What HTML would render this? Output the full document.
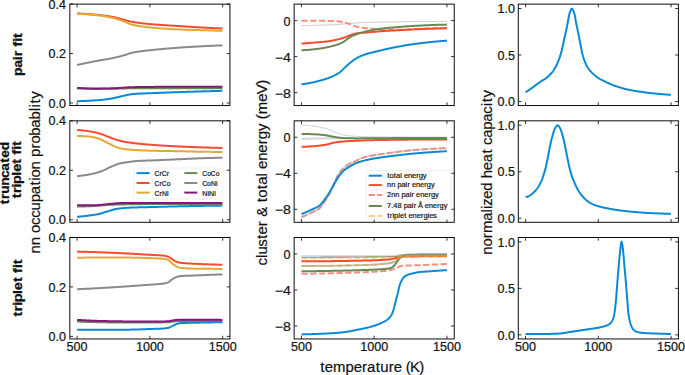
<!DOCTYPE html>
<html><head><meta charset="utf-8"><style>
html,body{margin:0;padding:0;background:#fff;}
svg{display:block;}
text{font-family:"Liberation Sans",sans-serif;}
</style></head><body>
<svg width="685" height="375" viewBox="0 0 685 375">
<rect x="0" y="0" width="685" height="375" fill="#fff"/>
<defs>
<clipPath id="c00"><rect x="69.84" y="4.12" width="160.10" height="101.45"/></clipPath>
<clipPath id="c01"><rect x="294.13" y="4.12" width="160.10" height="101.45"/></clipPath>
<clipPath id="c02"><rect x="518.27" y="4.12" width="160.10" height="101.45"/></clipPath>
<clipPath id="c10"><rect x="69.84" y="120.83" width="160.10" height="101.45"/></clipPath>
<clipPath id="c11"><rect x="294.13" y="120.83" width="160.10" height="101.45"/></clipPath>
<clipPath id="c12"><rect x="518.27" y="120.83" width="160.10" height="101.45"/></clipPath>
<clipPath id="c20"><rect x="69.84" y="237.50" width="160.10" height="101.45"/></clipPath>
<clipPath id="c21"><rect x="294.13" y="237.50" width="160.10" height="101.45"/></clipPath>
<clipPath id="c22"><rect x="518.27" y="237.50" width="160.10" height="101.45"/></clipPath>
</defs>
<line x1="77.12" y1="105.57" x2="77.12" y2="102.37" stroke="#000" stroke-width="0.8"/>
<line x1="77.12" y1="4.12" x2="77.12" y2="7.32" stroke="#000" stroke-width="0.8"/>
<line x1="149.89" y1="105.57" x2="149.89" y2="102.37" stroke="#000" stroke-width="0.8"/>
<line x1="149.89" y1="4.12" x2="149.89" y2="7.32" stroke="#000" stroke-width="0.8"/>
<line x1="222.66" y1="105.57" x2="222.66" y2="102.37" stroke="#000" stroke-width="0.8"/>
<line x1="222.66" y1="4.12" x2="222.66" y2="7.32" stroke="#000" stroke-width="0.8"/>
<line x1="69.84" y1="103.00" x2="73.04" y2="103.00" stroke="#000" stroke-width="0.8"/>
<line x1="229.94" y1="103.00" x2="226.74" y2="103.00" stroke="#000" stroke-width="0.8"/>
<text x="49.26 55.94 59.27" y="107.75" font-size="12" fill="#111" stroke="#111" stroke-width="0.191" transform="translate(65.94 107.75) scale(1.0487 1) translate(-65.94 -107.75)">0.0</text>
<line x1="69.84" y1="53.50" x2="73.04" y2="53.50" stroke="#000" stroke-width="0.8"/>
<line x1="229.94" y1="53.50" x2="226.74" y2="53.50" stroke="#000" stroke-width="0.8"/>
<text x="49.26 55.94 59.27" y="58.25" font-size="12" fill="#111" stroke="#111" stroke-width="0.191" transform="translate(65.94 58.25) scale(1.0487 1) translate(-65.94 -58.25)">0.2</text>
<line x1="69.84" y1="4.00" x2="73.04" y2="4.00" stroke="#000" stroke-width="0.8"/>
<line x1="229.94" y1="4.00" x2="226.74" y2="4.00" stroke="#000" stroke-width="0.8"/>
<text x="49.26 55.94 59.27" y="8.75" font-size="12" fill="#111" stroke="#111" stroke-width="0.191" transform="translate(65.94 8.75) scale(1.0487 1) translate(-65.94 -8.75)">0.4</text>
<line x1="301.41" y1="105.57" x2="301.41" y2="102.37" stroke="#000" stroke-width="0.8"/>
<line x1="301.41" y1="4.12" x2="301.41" y2="7.32" stroke="#000" stroke-width="0.8"/>
<line x1="374.18" y1="105.57" x2="374.18" y2="102.37" stroke="#000" stroke-width="0.8"/>
<line x1="374.18" y1="4.12" x2="374.18" y2="7.32" stroke="#000" stroke-width="0.8"/>
<line x1="446.95" y1="105.57" x2="446.95" y2="102.37" stroke="#000" stroke-width="0.8"/>
<line x1="446.95" y1="4.12" x2="446.95" y2="7.32" stroke="#000" stroke-width="0.8"/>
<line x1="294.13" y1="20.60" x2="297.33" y2="20.60" stroke="#000" stroke-width="0.8"/>
<line x1="454.23" y1="20.60" x2="451.03" y2="20.60" stroke="#000" stroke-width="0.8"/>
<text x="283.76" y="25.75" font-size="12" fill="#111" stroke="#111" stroke-width="0.191" transform="translate(290.43 25.75) scale(1.0487 1) translate(-290.43 -25.75)">0</text>
<line x1="294.13" y1="56.60" x2="297.33" y2="56.60" stroke="#000" stroke-width="0.8"/>
<line x1="454.23" y1="56.60" x2="451.03" y2="56.60" stroke="#000" stroke-width="0.8"/>
<text x="277.13 284.14" y="61.75" font-size="12" fill="#111" stroke="#111" stroke-width="0.169" transform="translate(290.43 61.75) scale(1.1852 1) translate(-290.43 -61.75)">−4</text>
<line x1="294.13" y1="92.60" x2="297.33" y2="92.60" stroke="#000" stroke-width="0.8"/>
<line x1="454.23" y1="92.60" x2="451.03" y2="92.60" stroke="#000" stroke-width="0.8"/>
<text x="277.13 284.14" y="97.75" font-size="12" fill="#111" stroke="#111" stroke-width="0.169" transform="translate(290.43 97.75) scale(1.1852 1) translate(-290.43 -97.75)">−8</text>
<line x1="525.55" y1="105.57" x2="525.55" y2="102.37" stroke="#000" stroke-width="0.8"/>
<line x1="525.55" y1="4.12" x2="525.55" y2="7.32" stroke="#000" stroke-width="0.8"/>
<line x1="598.32" y1="105.57" x2="598.32" y2="102.37" stroke="#000" stroke-width="0.8"/>
<line x1="598.32" y1="4.12" x2="598.32" y2="7.32" stroke="#000" stroke-width="0.8"/>
<line x1="671.09" y1="105.57" x2="671.09" y2="102.37" stroke="#000" stroke-width="0.8"/>
<line x1="671.09" y1="4.12" x2="671.09" y2="7.32" stroke="#000" stroke-width="0.8"/>
<line x1="518.27" y1="101.50" x2="521.47" y2="101.50" stroke="#000" stroke-width="0.8"/>
<line x1="678.37" y1="101.50" x2="675.17" y2="101.50" stroke="#000" stroke-width="0.8"/>
<text x="498.29 504.97 508.30" y="106.25" font-size="12" fill="#111" stroke="#111" stroke-width="0.191" transform="translate(514.97 106.25) scale(1.0487 1) translate(-514.97 -106.25)">0.0</text>
<line x1="518.27" y1="55.00" x2="521.47" y2="55.00" stroke="#000" stroke-width="0.8"/>
<line x1="678.37" y1="55.00" x2="675.17" y2="55.00" stroke="#000" stroke-width="0.8"/>
<text x="498.29 504.97 508.30" y="59.75" font-size="12" fill="#111" stroke="#111" stroke-width="0.191" transform="translate(514.97 59.75) scale(1.0487 1) translate(-514.97 -59.75)">0.5</text>
<line x1="518.27" y1="8.50" x2="521.47" y2="8.50" stroke="#000" stroke-width="0.8"/>
<line x1="678.37" y1="8.50" x2="675.17" y2="8.50" stroke="#000" stroke-width="0.8"/>
<text x="498.29 504.97 508.30" y="13.25" font-size="12" fill="#111" stroke="#111" stroke-width="0.191" transform="translate(514.97 13.25) scale(1.0487 1) translate(-514.97 -13.25)">1.0</text>
<line x1="77.12" y1="222.28" x2="77.12" y2="219.08" stroke="#000" stroke-width="0.8"/>
<line x1="77.12" y1="120.83" x2="77.12" y2="124.03" stroke="#000" stroke-width="0.8"/>
<line x1="149.89" y1="222.28" x2="149.89" y2="219.08" stroke="#000" stroke-width="0.8"/>
<line x1="149.89" y1="120.83" x2="149.89" y2="124.03" stroke="#000" stroke-width="0.8"/>
<line x1="222.66" y1="222.28" x2="222.66" y2="219.08" stroke="#000" stroke-width="0.8"/>
<line x1="222.66" y1="120.83" x2="222.66" y2="124.03" stroke="#000" stroke-width="0.8"/>
<line x1="69.84" y1="219.71" x2="73.04" y2="219.71" stroke="#000" stroke-width="0.8"/>
<line x1="229.94" y1="219.71" x2="226.74" y2="219.71" stroke="#000" stroke-width="0.8"/>
<text x="49.26 55.94 59.27" y="224.46" font-size="12" fill="#111" stroke="#111" stroke-width="0.191" transform="translate(65.94 224.46) scale(1.0487 1) translate(-65.94 -224.46)">0.0</text>
<line x1="69.84" y1="170.21" x2="73.04" y2="170.21" stroke="#000" stroke-width="0.8"/>
<line x1="229.94" y1="170.21" x2="226.74" y2="170.21" stroke="#000" stroke-width="0.8"/>
<text x="49.26 55.94 59.27" y="174.96" font-size="12" fill="#111" stroke="#111" stroke-width="0.191" transform="translate(65.94 174.96) scale(1.0487 1) translate(-65.94 -174.96)">0.2</text>
<line x1="69.84" y1="120.71" x2="73.04" y2="120.71" stroke="#000" stroke-width="0.8"/>
<line x1="229.94" y1="120.71" x2="226.74" y2="120.71" stroke="#000" stroke-width="0.8"/>
<text x="49.26 55.94 59.27" y="125.46" font-size="12" fill="#111" stroke="#111" stroke-width="0.191" transform="translate(65.94 125.46) scale(1.0487 1) translate(-65.94 -125.46)">0.4</text>
<line x1="301.41" y1="222.28" x2="301.41" y2="219.08" stroke="#000" stroke-width="0.8"/>
<line x1="301.41" y1="120.83" x2="301.41" y2="124.03" stroke="#000" stroke-width="0.8"/>
<line x1="374.18" y1="222.28" x2="374.18" y2="219.08" stroke="#000" stroke-width="0.8"/>
<line x1="374.18" y1="120.83" x2="374.18" y2="124.03" stroke="#000" stroke-width="0.8"/>
<line x1="446.95" y1="222.28" x2="446.95" y2="219.08" stroke="#000" stroke-width="0.8"/>
<line x1="446.95" y1="120.83" x2="446.95" y2="124.03" stroke="#000" stroke-width="0.8"/>
<line x1="294.13" y1="137.31" x2="297.33" y2="137.31" stroke="#000" stroke-width="0.8"/>
<line x1="454.23" y1="137.31" x2="451.03" y2="137.31" stroke="#000" stroke-width="0.8"/>
<text x="283.76" y="142.46" font-size="12" fill="#111" stroke="#111" stroke-width="0.191" transform="translate(290.43 142.46) scale(1.0487 1) translate(-290.43 -142.46)">0</text>
<line x1="294.13" y1="173.31" x2="297.33" y2="173.31" stroke="#000" stroke-width="0.8"/>
<line x1="454.23" y1="173.31" x2="451.03" y2="173.31" stroke="#000" stroke-width="0.8"/>
<text x="277.13 284.14" y="178.46" font-size="12" fill="#111" stroke="#111" stroke-width="0.169" transform="translate(290.43 178.46) scale(1.1852 1) translate(-290.43 -178.46)">−4</text>
<line x1="294.13" y1="209.31" x2="297.33" y2="209.31" stroke="#000" stroke-width="0.8"/>
<line x1="454.23" y1="209.31" x2="451.03" y2="209.31" stroke="#000" stroke-width="0.8"/>
<text x="277.13 284.14" y="214.46" font-size="12" fill="#111" stroke="#111" stroke-width="0.169" transform="translate(290.43 214.46) scale(1.1852 1) translate(-290.43 -214.46)">−8</text>
<line x1="525.55" y1="222.28" x2="525.55" y2="219.08" stroke="#000" stroke-width="0.8"/>
<line x1="525.55" y1="120.83" x2="525.55" y2="124.03" stroke="#000" stroke-width="0.8"/>
<line x1="598.32" y1="222.28" x2="598.32" y2="219.08" stroke="#000" stroke-width="0.8"/>
<line x1="598.32" y1="120.83" x2="598.32" y2="124.03" stroke="#000" stroke-width="0.8"/>
<line x1="671.09" y1="222.28" x2="671.09" y2="219.08" stroke="#000" stroke-width="0.8"/>
<line x1="671.09" y1="120.83" x2="671.09" y2="124.03" stroke="#000" stroke-width="0.8"/>
<line x1="518.27" y1="218.21" x2="521.47" y2="218.21" stroke="#000" stroke-width="0.8"/>
<line x1="678.37" y1="218.21" x2="675.17" y2="218.21" stroke="#000" stroke-width="0.8"/>
<text x="498.29 504.97 508.30" y="222.96" font-size="12" fill="#111" stroke="#111" stroke-width="0.191" transform="translate(514.97 222.96) scale(1.0487 1) translate(-514.97 -222.96)">0.0</text>
<line x1="518.27" y1="171.71" x2="521.47" y2="171.71" stroke="#000" stroke-width="0.8"/>
<line x1="678.37" y1="171.71" x2="675.17" y2="171.71" stroke="#000" stroke-width="0.8"/>
<text x="498.29 504.97 508.30" y="176.46" font-size="12" fill="#111" stroke="#111" stroke-width="0.191" transform="translate(514.97 176.46) scale(1.0487 1) translate(-514.97 -176.46)">0.5</text>
<line x1="518.27" y1="125.21" x2="521.47" y2="125.21" stroke="#000" stroke-width="0.8"/>
<line x1="678.37" y1="125.21" x2="675.17" y2="125.21" stroke="#000" stroke-width="0.8"/>
<text x="498.29 504.97 508.30" y="129.96" font-size="12" fill="#111" stroke="#111" stroke-width="0.191" transform="translate(514.97 129.96) scale(1.0487 1) translate(-514.97 -129.96)">1.0</text>
<line x1="77.12" y1="338.95" x2="77.12" y2="335.75" stroke="#000" stroke-width="0.8"/>
<line x1="77.12" y1="237.50" x2="77.12" y2="240.70" stroke="#000" stroke-width="0.8"/>
<text x="67.10 73.78 80.45" y="351.10" font-size="12" fill="#111" stroke="#111" stroke-width="0.191" transform="translate(77.12 351.10) scale(1.0487 1) translate(-77.12 -351.10)">500</text>
<line x1="149.89" y1="338.95" x2="149.89" y2="335.75" stroke="#000" stroke-width="0.8"/>
<line x1="149.89" y1="237.50" x2="149.89" y2="240.70" stroke="#000" stroke-width="0.8"/>
<text x="136.54 143.22 149.89 156.56" y="351.10" font-size="12" fill="#111" stroke="#111" stroke-width="0.191" transform="translate(149.89 351.10) scale(1.0487 1) translate(-149.89 -351.10)">1000</text>
<line x1="222.66" y1="338.95" x2="222.66" y2="335.75" stroke="#000" stroke-width="0.8"/>
<line x1="222.66" y1="237.50" x2="222.66" y2="240.70" stroke="#000" stroke-width="0.8"/>
<text x="209.31 215.99 222.66 229.34" y="351.10" font-size="12" fill="#111" stroke="#111" stroke-width="0.191" transform="translate(222.66 351.10) scale(1.0487 1) translate(-222.66 -351.10)">1500</text>
<line x1="69.84" y1="336.38" x2="73.04" y2="336.38" stroke="#000" stroke-width="0.8"/>
<line x1="229.94" y1="336.38" x2="226.74" y2="336.38" stroke="#000" stroke-width="0.8"/>
<text x="49.26 55.94 59.27" y="341.13" font-size="12" fill="#111" stroke="#111" stroke-width="0.191" transform="translate(65.94 341.13) scale(1.0487 1) translate(-65.94 -341.13)">0.0</text>
<line x1="69.84" y1="286.88" x2="73.04" y2="286.88" stroke="#000" stroke-width="0.8"/>
<line x1="229.94" y1="286.88" x2="226.74" y2="286.88" stroke="#000" stroke-width="0.8"/>
<text x="49.26 55.94 59.27" y="291.63" font-size="12" fill="#111" stroke="#111" stroke-width="0.191" transform="translate(65.94 291.63) scale(1.0487 1) translate(-65.94 -291.63)">0.2</text>
<line x1="69.84" y1="237.38" x2="73.04" y2="237.38" stroke="#000" stroke-width="0.8"/>
<line x1="229.94" y1="237.38" x2="226.74" y2="237.38" stroke="#000" stroke-width="0.8"/>
<text x="49.26 55.94 59.27" y="242.13" font-size="12" fill="#111" stroke="#111" stroke-width="0.191" transform="translate(65.94 242.13) scale(1.0487 1) translate(-65.94 -242.13)">0.4</text>
<line x1="301.41" y1="338.95" x2="301.41" y2="335.75" stroke="#000" stroke-width="0.8"/>
<line x1="301.41" y1="237.50" x2="301.41" y2="240.70" stroke="#000" stroke-width="0.8"/>
<text x="291.39 298.07 304.74" y="351.10" font-size="12" fill="#111" stroke="#111" stroke-width="0.191" transform="translate(301.41 351.10) scale(1.0487 1) translate(-301.41 -351.10)">500</text>
<line x1="374.18" y1="338.95" x2="374.18" y2="335.75" stroke="#000" stroke-width="0.8"/>
<line x1="374.18" y1="237.50" x2="374.18" y2="240.70" stroke="#000" stroke-width="0.8"/>
<text x="360.83 367.51 374.18 380.85" y="351.10" font-size="12" fill="#111" stroke="#111" stroke-width="0.191" transform="translate(374.18 351.10) scale(1.0487 1) translate(-374.18 -351.10)">1000</text>
<line x1="446.95" y1="338.95" x2="446.95" y2="335.75" stroke="#000" stroke-width="0.8"/>
<line x1="446.95" y1="237.50" x2="446.95" y2="240.70" stroke="#000" stroke-width="0.8"/>
<text x="433.60 440.28 446.95 453.63" y="351.10" font-size="12" fill="#111" stroke="#111" stroke-width="0.191" transform="translate(446.95 351.10) scale(1.0487 1) translate(-446.95 -351.10)">1500</text>
<line x1="294.13" y1="253.98" x2="297.33" y2="253.98" stroke="#000" stroke-width="0.8"/>
<line x1="454.23" y1="253.98" x2="451.03" y2="253.98" stroke="#000" stroke-width="0.8"/>
<text x="283.76" y="259.13" font-size="12" fill="#111" stroke="#111" stroke-width="0.191" transform="translate(290.43 259.13) scale(1.0487 1) translate(-290.43 -259.13)">0</text>
<line x1="294.13" y1="289.98" x2="297.33" y2="289.98" stroke="#000" stroke-width="0.8"/>
<line x1="454.23" y1="289.98" x2="451.03" y2="289.98" stroke="#000" stroke-width="0.8"/>
<text x="277.13 284.14" y="295.13" font-size="12" fill="#111" stroke="#111" stroke-width="0.169" transform="translate(290.43 295.13) scale(1.1852 1) translate(-290.43 -295.13)">−4</text>
<line x1="294.13" y1="325.98" x2="297.33" y2="325.98" stroke="#000" stroke-width="0.8"/>
<line x1="454.23" y1="325.98" x2="451.03" y2="325.98" stroke="#000" stroke-width="0.8"/>
<text x="277.13 284.14" y="331.13" font-size="12" fill="#111" stroke="#111" stroke-width="0.169" transform="translate(290.43 331.13) scale(1.1852 1) translate(-290.43 -331.13)">−8</text>
<line x1="525.55" y1="338.95" x2="525.55" y2="335.75" stroke="#000" stroke-width="0.8"/>
<line x1="525.55" y1="237.50" x2="525.55" y2="240.70" stroke="#000" stroke-width="0.8"/>
<text x="515.53 522.21 528.88" y="351.10" font-size="12" fill="#111" stroke="#111" stroke-width="0.191" transform="translate(525.55 351.10) scale(1.0487 1) translate(-525.55 -351.10)">500</text>
<line x1="598.32" y1="338.95" x2="598.32" y2="335.75" stroke="#000" stroke-width="0.8"/>
<line x1="598.32" y1="237.50" x2="598.32" y2="240.70" stroke="#000" stroke-width="0.8"/>
<text x="584.97 591.65 598.32 604.99" y="351.10" font-size="12" fill="#111" stroke="#111" stroke-width="0.191" transform="translate(598.32 351.10) scale(1.0487 1) translate(-598.32 -351.10)">1000</text>
<line x1="671.09" y1="338.95" x2="671.09" y2="335.75" stroke="#000" stroke-width="0.8"/>
<line x1="671.09" y1="237.50" x2="671.09" y2="240.70" stroke="#000" stroke-width="0.8"/>
<text x="657.74 664.42 671.09 677.77" y="351.10" font-size="12" fill="#111" stroke="#111" stroke-width="0.191" transform="translate(671.09 351.10) scale(1.0487 1) translate(-671.09 -351.10)">1500</text>
<line x1="518.27" y1="334.88" x2="521.47" y2="334.88" stroke="#000" stroke-width="0.8"/>
<line x1="678.37" y1="334.88" x2="675.17" y2="334.88" stroke="#000" stroke-width="0.8"/>
<text x="498.29 504.97 508.30" y="339.63" font-size="12" fill="#111" stroke="#111" stroke-width="0.191" transform="translate(514.97 339.63) scale(1.0487 1) translate(-514.97 -339.63)">0.0</text>
<line x1="518.27" y1="288.38" x2="521.47" y2="288.38" stroke="#000" stroke-width="0.8"/>
<line x1="678.37" y1="288.38" x2="675.17" y2="288.38" stroke="#000" stroke-width="0.8"/>
<text x="498.29 504.97 508.30" y="293.13" font-size="12" fill="#111" stroke="#111" stroke-width="0.191" transform="translate(514.97 293.13) scale(1.0487 1) translate(-514.97 -293.13)">0.5</text>
<line x1="518.27" y1="241.88" x2="521.47" y2="241.88" stroke="#000" stroke-width="0.8"/>
<line x1="678.37" y1="241.88" x2="675.17" y2="241.88" stroke="#000" stroke-width="0.8"/>
<text x="498.29 504.97 508.30" y="246.63" font-size="12" fill="#111" stroke="#111" stroke-width="0.191" transform="translate(514.97 246.63) scale(1.0487 1) translate(-514.97 -246.63)">1.0</text>
<polyline points="77.1,101.20 77.6,101.19 78.1,101.18 78.6,101.16 79.1,101.15 79.6,101.13 80.1,101.12 80.6,101.10 81.1,101.08 81.6,101.06 82.1,101.04 82.6,101.02 83.1,101.00 83.6,100.98 84.1,100.96 84.6,100.94 85.1,100.91 85.6,100.89 86.1,100.87 86.6,100.84 87.1,100.81 87.6,100.79 88.1,100.76 88.6,100.73 89.1,100.71 89.6,100.68 90.1,100.65 90.6,100.62 91.1,100.59 91.6,100.56 92.1,100.53 92.6,100.50 93.1,100.47 93.6,100.44 94.1,100.41 94.6,100.38 95.1,100.34 95.6,100.31 96.1,100.28 96.6,100.25 97.1,100.21 97.6,100.18 98.1,100.14 98.6,100.10 99.1,100.06 99.6,100.02 100.1,99.98 100.6,99.94 101.1,99.89 101.6,99.85 102.1,99.80 102.6,99.75 103.1,99.70 103.6,99.65 104.1,99.60 104.6,99.54 105.1,99.49 105.6,99.43 106.1,99.37 106.6,99.30 107.1,99.23 107.6,99.16 108.1,99.08 108.6,99.01 109.1,98.93 109.6,98.84 110.1,98.76 110.6,98.67 111.1,98.58 111.6,98.49 112.1,98.40 112.6,98.31 113.1,98.21 113.6,98.12 114.1,98.02 114.6,97.92 115.1,97.81 115.6,97.70 116.1,97.58 116.6,97.46 117.1,97.34 117.6,97.22 118.1,97.09 118.6,96.96 119.1,96.84 119.6,96.71 120.1,96.59 120.6,96.46 121.1,96.34 121.6,96.23 122.1,96.11 122.6,96.00 123.1,95.89 123.6,95.78 124.1,95.66 124.6,95.55 125.1,95.43 125.6,95.31 126.1,95.20 126.6,95.09 127.1,94.97 127.6,94.87 128.1,94.76 128.6,94.66 129.1,94.57 129.6,94.48 130.1,94.40 130.6,94.32 131.1,94.26 131.6,94.20 132.1,94.15 132.6,94.10 133.1,94.05 133.6,94.01 134.1,93.97 134.6,93.93 135.1,93.89 135.6,93.86 136.1,93.82 136.6,93.79 137.1,93.76 137.6,93.73 138.1,93.70 138.6,93.67 139.1,93.65 139.6,93.62 140.1,93.59 140.6,93.57 141.1,93.55 141.6,93.52 142.1,93.50 142.6,93.48 143.1,93.46 143.6,93.44 144.1,93.42 144.6,93.40 145.1,93.38 145.6,93.36 146.1,93.34 146.6,93.32 147.1,93.31 147.6,93.29 148.1,93.27 148.6,93.25 149.1,93.23 149.6,93.22 150.1,93.20 150.6,93.18 151.1,93.16 151.6,93.14 152.1,93.12 152.6,93.10 153.1,93.08 153.6,93.06 154.1,93.04 154.6,93.02 155.1,93.00 155.6,92.99 156.1,92.97 156.6,92.95 157.1,92.93 157.6,92.91 158.1,92.89 158.6,92.87 159.1,92.85 159.6,92.83 160.1,92.82 160.6,92.80 161.1,92.78 161.6,92.76 162.1,92.74 162.6,92.72 163.1,92.70 163.6,92.68 164.1,92.67 164.6,92.65 165.1,92.63 165.6,92.61 166.1,92.59 166.6,92.57 167.1,92.55 167.6,92.54 168.1,92.52 168.6,92.50 169.1,92.48 169.6,92.46 170.1,92.45 170.6,92.43 171.1,92.41 171.6,92.39 172.1,92.37 172.6,92.35 173.1,92.34 173.6,92.32 174.1,92.30 174.6,92.28 175.1,92.27 175.6,92.25 176.1,92.23 176.6,92.21 177.1,92.20 177.6,92.18 178.1,92.16 178.6,92.14 179.1,92.13 179.6,92.11 180.1,92.09 180.6,92.07 181.1,92.06 181.6,92.04 182.1,92.02 182.6,92.01 183.1,91.99 183.6,91.97 184.1,91.96 184.6,91.94 185.1,91.92 185.6,91.91 186.1,91.89 186.6,91.87 187.1,91.86 187.6,91.84 188.1,91.82 188.6,91.81 189.1,91.79 189.6,91.78 190.1,91.76 190.6,91.74 191.1,91.73 191.6,91.71 192.1,91.70 192.6,91.68 193.1,91.66 193.6,91.65 194.1,91.63 194.6,91.62 195.1,91.60 195.6,91.58 196.1,91.57 196.6,91.55 197.1,91.54 197.6,91.52 198.1,91.51 198.6,91.49 199.1,91.48 199.6,91.46 200.1,91.44 200.6,91.43 201.1,91.41 201.6,91.40 202.1,91.38 202.6,91.37 203.1,91.35 203.6,91.34 204.1,91.32 204.6,91.31 205.1,91.29 205.6,91.28 206.1,91.26 206.6,91.25 207.1,91.23 207.6,91.22 208.1,91.20 208.6,91.19 209.1,91.17 209.6,91.16 210.1,91.14 210.6,91.13 211.1,91.12 211.6,91.10 212.1,91.09 212.6,91.07 213.1,91.06 213.6,91.04 214.1,91.03 214.6,91.02 215.1,91.00 215.6,90.99 216.1,90.97 216.6,90.96 217.1,90.95 217.6,90.93 218.1,90.92 218.6,90.90 219.1,90.89 219.6,90.88 220.1,90.86 220.6,90.85 221.1,90.84 221.6,90.82 222.1,90.81 222.4,90.80" fill="none" stroke="#0a8ad6" stroke-width="2.0" stroke-linejoin="round" stroke-linecap="butt"/>
<polyline points="77.1,13.50 77.6,13.52 78.1,13.53 78.6,13.55 79.1,13.57 79.6,13.59 80.1,13.61 80.6,13.63 81.1,13.66 81.6,13.68 82.1,13.71 82.6,13.73 83.1,13.76 83.6,13.79 84.1,13.82 84.6,13.85 85.1,13.88 85.6,13.91 86.1,13.95 86.6,13.98 87.1,14.02 87.6,14.05 88.1,14.09 88.6,14.13 89.1,14.16 89.6,14.20 90.1,14.24 90.6,14.28 91.1,14.32 91.6,14.36 92.1,14.40 92.6,14.44 93.1,14.49 93.6,14.53 94.1,14.57 94.6,14.61 95.1,14.66 95.6,14.70 96.1,14.75 96.6,14.79 97.1,14.84 97.6,14.88 98.1,14.93 98.6,14.98 99.1,15.03 99.6,15.09 100.1,15.14 100.6,15.20 101.1,15.26 101.6,15.32 102.1,15.38 102.6,15.44 103.1,15.50 103.6,15.57 104.1,15.63 104.6,15.70 105.1,15.77 105.6,15.84 106.1,15.91 106.6,15.98 107.1,16.06 107.6,16.13 108.1,16.21 108.6,16.28 109.1,16.36 109.6,16.44 110.1,16.52 110.6,16.60 111.1,16.68 111.6,16.77 112.1,16.86 112.6,16.95 113.1,17.05 113.6,17.15 114.1,17.25 114.6,17.35 115.1,17.46 115.6,17.57 116.1,17.68 116.6,17.79 117.1,17.91 117.6,18.02 118.1,18.14 118.6,18.27 119.1,18.40 119.6,18.53 120.1,18.67 120.6,18.81 121.1,18.95 121.6,19.09 122.1,19.23 122.6,19.37 123.1,19.52 123.6,19.66 124.1,19.79 124.6,19.93 125.1,20.06 125.6,20.20 126.1,20.34 126.6,20.48 127.1,20.62 127.6,20.76 128.1,20.90 128.6,21.04 129.1,21.17 129.6,21.29 130.1,21.42 130.6,21.53 131.1,21.64 131.6,21.74 132.1,21.84 132.6,21.93 133.1,22.02 133.6,22.10 134.1,22.19 134.6,22.27 135.1,22.34 135.6,22.42 136.1,22.49 136.6,22.57 137.1,22.64 137.6,22.71 138.1,22.77 138.6,22.84 139.1,22.91 139.6,22.97 140.1,23.03 140.6,23.10 141.1,23.16 141.6,23.22 142.1,23.28 142.6,23.34 143.1,23.40 143.6,23.45 144.1,23.51 144.6,23.57 145.1,23.62 145.6,23.67 146.1,23.73 146.6,23.78 147.1,23.83 147.6,23.88 148.1,23.93 148.6,23.97 149.1,24.02 149.6,24.06 150.1,24.11 150.6,24.15 151.1,24.19 151.6,24.24 152.1,24.28 152.6,24.32 153.1,24.36 153.6,24.40 154.1,24.44 154.6,24.48 155.1,24.52 155.6,24.56 156.1,24.59 156.6,24.63 157.1,24.67 157.6,24.70 158.1,24.74 158.6,24.77 159.1,24.81 159.6,24.85 160.1,24.88 160.6,24.91 161.1,24.95 161.6,24.98 162.1,25.01 162.6,25.05 163.1,25.08 163.6,25.11 164.1,25.15 164.6,25.18 165.1,25.21 165.6,25.24 166.1,25.27 166.6,25.31 167.1,25.34 167.6,25.37 168.1,25.40 168.6,25.43 169.1,25.46 169.6,25.49 170.1,25.52 170.6,25.55 171.1,25.59 171.6,25.62 172.1,25.65 172.6,25.68 173.1,25.71 173.6,25.74 174.1,25.77 174.6,25.80 175.1,25.83 175.6,25.87 176.1,25.90 176.6,25.93 177.1,25.96 177.6,25.99 178.1,26.03 178.6,26.06 179.1,26.09 179.6,26.12 180.1,26.16 180.6,26.19 181.1,26.22 181.6,26.25 182.1,26.28 182.6,26.32 183.1,26.35 183.6,26.38 184.1,26.41 184.6,26.45 185.1,26.48 185.6,26.51 186.1,26.54 186.6,26.57 187.1,26.61 187.6,26.64 188.1,26.67 188.6,26.70 189.1,26.73 189.6,26.77 190.1,26.80 190.6,26.83 191.1,26.86 191.6,26.89 192.1,26.92 192.6,26.95 193.1,26.98 193.6,27.01 194.1,27.05 194.6,27.08 195.1,27.11 195.6,27.14 196.1,27.17 196.6,27.20 197.1,27.23 197.6,27.26 198.1,27.29 198.6,27.32 199.1,27.34 199.6,27.37 200.1,27.40 200.6,27.43 201.1,27.46 201.6,27.49 202.1,27.52 202.6,27.54 203.1,27.57 203.6,27.60 204.1,27.63 204.6,27.65 205.1,27.68 205.6,27.71 206.1,27.73 206.6,27.76 207.1,27.78 207.6,27.81 208.1,27.84 208.6,27.86 209.1,27.89 209.6,27.91 210.1,27.94 210.6,27.96 211.1,27.99 211.6,28.01 212.1,28.03 212.6,28.06 213.1,28.08 213.6,28.11 214.1,28.13 214.6,28.15 215.1,28.18 215.6,28.20 216.1,28.22 216.6,28.25 217.1,28.27 217.6,28.29 218.1,28.31 218.6,28.34 219.1,28.36 219.6,28.38 220.1,28.40 220.6,28.42 221.1,28.44 221.6,28.47 222.1,28.49 222.4,28.50" fill="none" stroke="#fb4b2f" stroke-width="2.0" stroke-linejoin="round" stroke-linecap="butt"/>
<polyline points="77.1,13.80 77.6,13.81 78.1,13.82 78.6,13.84 79.1,13.86 79.6,13.87 80.1,13.89 80.6,13.92 81.1,13.94 81.6,13.96 82.1,13.99 82.6,14.02 83.1,14.04 83.6,14.07 84.1,14.11 84.6,14.14 85.1,14.17 85.6,14.21 86.1,14.24 86.6,14.28 87.1,14.32 87.6,14.36 88.1,14.40 88.6,14.44 89.1,14.48 89.6,14.53 90.1,14.57 90.6,14.61 91.1,14.66 91.6,14.70 92.1,14.75 92.6,14.80 93.1,14.85 93.6,14.89 94.1,14.94 94.6,14.99 95.1,15.04 95.6,15.09 96.1,15.14 96.6,15.19 97.1,15.24 97.6,15.29 98.1,15.35 98.6,15.41 99.1,15.47 99.6,15.53 100.1,15.60 100.6,15.67 101.1,15.74 101.6,15.81 102.1,15.88 102.6,15.96 103.1,16.04 103.6,16.11 104.1,16.20 104.6,16.28 105.1,16.36 105.6,16.45 106.1,16.54 106.6,16.63 107.1,16.72 107.6,16.81 108.1,16.91 108.6,17.00 109.1,17.10 109.6,17.20 110.1,17.30 110.6,17.40 111.1,17.50 111.6,17.61 112.1,17.73 112.6,17.85 113.1,17.97 113.6,18.10 114.1,18.23 114.6,18.36 115.1,18.50 115.6,18.64 116.1,18.79 116.6,18.93 117.1,19.08 117.6,19.23 118.1,19.39 118.6,19.55 119.1,19.71 119.6,19.88 120.1,20.06 120.6,20.24 121.1,20.42 121.6,20.60 122.1,20.79 122.6,20.98 123.1,21.17 123.6,21.36 124.1,21.55 124.6,21.74 125.1,21.94 125.6,22.15 126.1,22.36 126.6,22.59 127.1,22.81 127.6,23.04 128.1,23.26 128.6,23.48 129.1,23.69 129.6,23.89 130.1,24.08 130.6,24.26 131.1,24.42 131.6,24.55 132.1,24.68 132.6,24.81 133.1,24.92 133.6,25.03 134.1,25.14 134.6,25.24 135.1,25.34 135.6,25.43 136.1,25.52 136.6,25.61 137.1,25.70 137.6,25.78 138.1,25.87 138.6,25.95 139.1,26.03 139.6,26.11 140.1,26.19 140.6,26.27 141.1,26.35 141.6,26.43 142.1,26.50 142.6,26.58 143.1,26.65 143.6,26.73 144.1,26.80 144.6,26.87 145.1,26.93 145.6,27.00 146.1,27.06 146.6,27.13 147.1,27.19 147.6,27.25 148.1,27.30 148.6,27.36 149.1,27.41 149.6,27.46 150.1,27.51 150.6,27.56 151.1,27.60 151.6,27.65 152.1,27.70 152.6,27.74 153.1,27.79 153.6,27.83 154.1,27.87 154.6,27.92 155.1,27.96 155.6,28.00 156.1,28.04 156.6,28.09 157.1,28.13 157.6,28.17 158.1,28.21 158.6,28.25 159.1,28.28 159.6,28.32 160.1,28.36 160.6,28.40 161.1,28.43 161.6,28.47 162.1,28.51 162.6,28.54 163.1,28.58 163.6,28.61 164.1,28.65 164.6,28.68 165.1,28.71 165.6,28.74 166.1,28.78 166.6,28.81 167.1,28.84 167.6,28.87 168.1,28.90 168.6,28.93 169.1,28.96 169.6,28.99 170.1,29.02 170.6,29.05 171.1,29.07 171.6,29.10 172.1,29.13 172.6,29.15 173.1,29.18 173.6,29.21 174.1,29.23 174.6,29.26 175.1,29.28 175.6,29.30 176.1,29.33 176.6,29.35 177.1,29.37 177.6,29.40 178.1,29.42 178.6,29.44 179.1,29.46 179.6,29.48 180.1,29.50 180.6,29.52 181.1,29.54 181.6,29.56 182.1,29.58 182.6,29.60 183.1,29.61 183.6,29.63 184.1,29.65 184.6,29.67 185.1,29.68 185.6,29.70 186.1,29.72 186.6,29.73 187.1,29.75 187.6,29.76 188.1,29.78 188.6,29.80 189.1,29.81 189.6,29.83 190.1,29.84 190.6,29.86 191.1,29.87 191.6,29.88 192.1,29.90 192.6,29.91 193.1,29.93 193.6,29.94 194.1,29.96 194.6,29.97 195.1,29.99 195.6,30.00 196.1,30.01 196.6,30.03 197.1,30.04 197.6,30.06 198.1,30.07 198.6,30.09 199.1,30.10 199.6,30.11 200.1,30.13 200.6,30.14 201.1,30.16 201.6,30.17 202.1,30.19 202.6,30.21 203.1,30.22 203.6,30.24 204.1,30.25 204.6,30.27 205.1,30.29 205.6,30.30 206.1,30.32 206.6,30.34 207.1,30.35 207.6,30.37 208.1,30.39 208.6,30.41 209.1,30.42 209.6,30.44 210.1,30.46 210.6,30.48 211.1,30.49 211.6,30.51 212.1,30.53 212.6,30.55 213.1,30.56 213.6,30.58 214.1,30.60 214.6,30.62 215.1,30.64 215.6,30.65 216.1,30.67 216.6,30.69 217.1,30.71 217.6,30.73 218.1,30.74 218.6,30.76 219.1,30.78 219.6,30.80 220.1,30.82 220.6,30.83 221.1,30.85 221.6,30.87 222.1,30.89 222.4,30.90" fill="none" stroke="#e2a934" stroke-width="2.0" stroke-linejoin="round" stroke-linecap="butt"/>
<polyline points="77.1,88.30 77.6,88.33 78.1,88.35 78.6,88.38 79.1,88.41 79.6,88.43 80.1,88.46 80.6,88.48 81.1,88.50 81.6,88.53 82.1,88.55 82.6,88.57 83.1,88.60 83.6,88.62 84.1,88.64 84.6,88.66 85.1,88.68 85.6,88.70 86.1,88.71 86.6,88.73 87.1,88.75 87.6,88.76 88.1,88.78 88.6,88.79 89.1,88.81 89.6,88.82 90.1,88.83 90.6,88.84 91.1,88.85 91.6,88.86 92.1,88.87 92.6,88.88 93.1,88.88 93.6,88.89 94.1,88.89 94.6,88.90 95.1,88.90 95.6,88.90 96.1,88.90 96.6,88.90 97.1,88.90 97.6,88.90 98.1,88.89 98.6,88.89 99.1,88.89 99.6,88.89 100.1,88.88 100.6,88.88 101.1,88.87 101.6,88.87 102.1,88.86 102.6,88.86 103.1,88.85 103.6,88.85 104.1,88.84 104.6,88.84 105.1,88.83 105.6,88.82 106.1,88.82 106.6,88.81 107.1,88.80 107.6,88.79 108.1,88.79 108.6,88.78 109.1,88.77 109.6,88.76 110.1,88.76 110.6,88.75 111.1,88.74 111.6,88.73 112.1,88.72 112.6,88.72 113.1,88.71 113.6,88.70 114.1,88.69 114.6,88.68 115.1,88.68 115.6,88.66 116.1,88.65 116.6,88.64 117.1,88.63 117.6,88.62 118.1,88.60 118.6,88.59 119.1,88.57 119.6,88.56 120.1,88.54 120.6,88.53 121.1,88.51 121.6,88.50 122.1,88.48 122.6,88.47 123.1,88.45 123.6,88.44 124.1,88.42 124.6,88.41 125.1,88.40 125.6,88.38 126.1,88.37 126.6,88.36 127.1,88.35 127.6,88.34 128.1,88.33 128.6,88.32 129.1,88.32 129.6,88.31 130.1,88.31 130.6,88.30 131.1,88.30 131.6,88.30 132.1,88.30 132.6,88.30 133.1,88.30 133.6,88.30 134.1,88.30 134.6,88.30 135.1,88.30 135.6,88.30 136.1,88.30 136.6,88.30 137.1,88.30 137.6,88.30 138.1,88.30 138.6,88.30 139.1,88.30 139.6,88.30 140.1,88.30 140.6,88.30 141.1,88.30 141.6,88.30 142.1,88.30 142.6,88.30 143.1,88.30 143.6,88.30 144.1,88.30 144.6,88.30 145.1,88.30 145.6,88.30 146.1,88.30 146.6,88.30 147.1,88.30 147.6,88.30 148.1,88.30 148.6,88.30 149.1,88.30 149.6,88.30 150.1,88.30 150.6,88.30 151.1,88.30 151.6,88.30 152.1,88.30 152.6,88.30 153.1,88.30 153.6,88.30 154.1,88.30 154.6,88.30 155.1,88.30 155.6,88.30 156.1,88.30 156.6,88.30 157.1,88.30 157.6,88.30 158.1,88.30 158.6,88.30 159.1,88.30 159.6,88.30 160.1,88.30 160.6,88.30 161.1,88.30 161.6,88.30 162.1,88.30 162.6,88.30 163.1,88.30 163.6,88.30 164.1,88.30 164.6,88.30 165.1,88.30 165.6,88.30 166.1,88.30 166.6,88.30 167.1,88.30 167.6,88.30 168.1,88.30 168.6,88.30 169.1,88.30 169.6,88.30 170.1,88.30 170.6,88.30 171.1,88.30 171.6,88.30 172.1,88.30 172.6,88.30 173.1,88.30 173.6,88.30 174.1,88.30 174.6,88.30 175.1,88.30 175.6,88.30 176.1,88.30 176.6,88.30 177.1,88.30 177.6,88.30 178.1,88.30 178.6,88.30 179.1,88.30 179.6,88.30 180.1,88.30 180.6,88.30 181.1,88.30 181.6,88.30 182.1,88.30 182.6,88.30 183.1,88.30 183.6,88.30 184.1,88.30 184.6,88.30 185.1,88.30 185.6,88.30 186.1,88.30 186.6,88.30 187.1,88.30 187.6,88.30 188.1,88.30 188.6,88.30 189.1,88.30 189.6,88.30 190.1,88.30 190.6,88.30 191.1,88.30 191.6,88.30 192.1,88.30 192.6,88.30 193.1,88.30 193.6,88.30 194.1,88.30 194.6,88.30 195.1,88.30 195.6,88.30 196.1,88.30 196.6,88.30 197.1,88.30 197.6,88.30 198.1,88.30 198.6,88.30 199.1,88.30 199.6,88.30 200.1,88.30 200.6,88.30 201.1,88.30 201.6,88.30 202.1,88.30 202.6,88.30 203.1,88.30 203.6,88.30 204.1,88.30 204.6,88.30 205.1,88.30 205.6,88.30 206.1,88.30 206.6,88.30 207.1,88.30 207.6,88.30 208.1,88.30 208.6,88.30 209.1,88.30 209.6,88.30 210.1,88.30 210.6,88.30 211.1,88.30 211.6,88.30 212.1,88.30 212.6,88.30 213.1,88.30 213.6,88.30 214.1,88.30 214.6,88.30 215.1,88.30 215.6,88.30 216.1,88.30 216.6,88.30 217.1,88.30 217.6,88.30 218.1,88.30 218.6,88.30 219.1,88.30 219.6,88.30 220.1,88.30 220.6,88.30 221.1,88.30 221.6,88.30 222.1,88.30 222.4,88.30" fill="none" stroke="#678a55" stroke-width="2.0" stroke-linejoin="round" stroke-linecap="butt"/>
<polyline points="77.1,65.00 77.6,64.89 78.1,64.78 78.6,64.67 79.1,64.56 79.6,64.45 80.1,64.34 80.6,64.23 81.1,64.12 81.6,64.01 82.1,63.90 82.6,63.79 83.1,63.69 83.6,63.58 84.1,63.47 84.6,63.37 85.1,63.26 85.6,63.15 86.1,63.05 86.6,62.95 87.1,62.84 87.6,62.74 88.1,62.63 88.6,62.53 89.1,62.43 89.6,62.33 90.1,62.23 90.6,62.12 91.1,62.02 91.6,61.92 92.1,61.82 92.6,61.72 93.1,61.63 93.6,61.53 94.1,61.43 94.6,61.33 95.1,61.24 95.6,61.14 96.1,61.04 96.6,60.95 97.1,60.86 97.6,60.76 98.1,60.67 98.6,60.58 99.1,60.50 99.6,60.41 100.1,60.32 100.6,60.24 101.1,60.15 101.6,60.07 102.1,59.98 102.6,59.90 103.1,59.82 103.6,59.73 104.1,59.65 104.6,59.57 105.1,59.48 105.6,59.40 106.1,59.32 106.6,59.23 107.1,59.14 107.6,59.06 108.1,58.97 108.6,58.88 109.1,58.79 109.6,58.70 110.1,58.61 110.6,58.52 111.1,58.42 111.6,58.33 112.1,58.23 112.6,58.13 113.1,58.03 113.6,57.92 114.1,57.81 114.6,57.71 115.1,57.59 115.6,57.48 116.1,57.37 116.6,57.25 117.1,57.13 117.6,57.01 118.1,56.88 118.6,56.76 119.1,56.63 119.6,56.50 120.1,56.37 120.6,56.24 121.1,56.11 121.6,55.97 122.1,55.84 122.6,55.70 123.1,55.56 123.6,55.41 124.1,55.25 124.6,55.09 125.1,54.93 125.6,54.76 126.1,54.59 126.6,54.42 127.1,54.25 127.6,54.08 128.1,53.91 128.6,53.75 129.1,53.59 129.6,53.43 130.1,53.29 130.6,53.15 131.1,53.02 131.6,52.90 132.1,52.79 132.6,52.68 133.1,52.57 133.6,52.47 134.1,52.37 134.6,52.27 135.1,52.18 135.6,52.08 136.1,51.99 136.6,51.91 137.1,51.82 137.6,51.74 138.1,51.66 138.6,51.58 139.1,51.50 139.6,51.43 140.1,51.36 140.6,51.29 141.1,51.22 141.6,51.15 142.1,51.08 142.6,51.02 143.1,50.96 143.6,50.89 144.1,50.83 144.6,50.78 145.1,50.72 145.6,50.66 146.1,50.61 146.6,50.55 147.1,50.50 147.6,50.45 148.1,50.39 148.6,50.34 149.1,50.29 149.6,50.24 150.1,50.19 150.6,50.14 151.1,50.09 151.6,50.04 152.1,49.99 152.6,49.94 153.1,49.89 153.6,49.84 154.1,49.79 154.6,49.75 155.1,49.70 155.6,49.65 156.1,49.60 156.6,49.55 157.1,49.50 157.6,49.46 158.1,49.41 158.6,49.36 159.1,49.32 159.6,49.27 160.1,49.22 160.6,49.18 161.1,49.13 161.6,49.08 162.1,49.04 162.6,48.99 163.1,48.95 163.6,48.90 164.1,48.86 164.6,48.82 165.1,48.77 165.6,48.73 166.1,48.68 166.6,48.64 167.1,48.60 167.6,48.55 168.1,48.51 168.6,48.47 169.1,48.43 169.6,48.39 170.1,48.34 170.6,48.30 171.1,48.26 171.6,48.22 172.1,48.18 172.6,48.14 173.1,48.10 173.6,48.06 174.1,48.02 174.6,47.98 175.1,47.95 175.6,47.91 176.1,47.87 176.6,47.83 177.1,47.79 177.6,47.76 178.1,47.72 178.6,47.68 179.1,47.65 179.6,47.61 180.1,47.58 180.6,47.54 181.1,47.51 181.6,47.47 182.1,47.44 182.6,47.41 183.1,47.37 183.6,47.34 184.1,47.31 184.6,47.28 185.1,47.24 185.6,47.21 186.1,47.18 186.6,47.15 187.1,47.12 187.6,47.09 188.1,47.06 188.6,47.03 189.1,47.00 189.6,46.97 190.1,46.94 190.6,46.91 191.1,46.88 191.6,46.85 192.1,46.82 192.6,46.79 193.1,46.76 193.6,46.73 194.1,46.70 194.6,46.67 195.1,46.65 195.6,46.62 196.1,46.59 196.6,46.56 197.1,46.53 197.6,46.50 198.1,46.48 198.6,46.45 199.1,46.42 199.6,46.40 200.1,46.37 200.6,46.34 201.1,46.32 201.6,46.29 202.1,46.26 202.6,46.24 203.1,46.21 203.6,46.19 204.1,46.16 204.6,46.14 205.1,46.11 205.6,46.09 206.1,46.06 206.6,46.04 207.1,46.01 207.6,45.99 208.1,45.97 208.6,45.94 209.1,45.92 209.6,45.90 210.1,45.87 210.6,45.85 211.1,45.83 211.6,45.81 212.1,45.79 212.6,45.77 213.1,45.74 213.6,45.72 214.1,45.70 214.6,45.68 215.1,45.66 215.6,45.64 216.1,45.62 216.6,45.60 217.1,45.58 217.6,45.57 218.1,45.55 218.6,45.53 219.1,45.51 219.6,45.49 220.1,45.48 220.6,45.46 221.1,45.44 221.6,45.43 222.1,45.41 222.4,45.40" fill="none" stroke="#8a8a8a" stroke-width="2.0" stroke-linejoin="round" stroke-linecap="butt"/>
<polyline points="77.1,87.90 77.6,87.93 78.1,87.96 78.6,88.00 79.1,88.03 79.6,88.06 80.1,88.09 80.6,88.11 81.1,88.14 81.6,88.17 82.1,88.20 82.6,88.22 83.1,88.25 83.6,88.28 84.1,88.30 84.6,88.32 85.1,88.35 85.6,88.37 86.1,88.39 86.6,88.41 87.1,88.43 87.6,88.45 88.1,88.46 88.6,88.48 89.1,88.50 89.6,88.51 90.1,88.52 90.6,88.54 91.1,88.55 91.6,88.56 92.1,88.57 92.6,88.58 93.1,88.58 93.6,88.59 94.1,88.59 94.6,88.60 95.1,88.60 95.6,88.60 96.1,88.60 96.6,88.60 97.1,88.60 97.6,88.60 98.1,88.59 98.6,88.59 99.1,88.59 99.6,88.58 100.1,88.58 100.6,88.57 101.1,88.57 101.6,88.56 102.1,88.55 102.6,88.55 103.1,88.54 103.6,88.53 104.1,88.52 104.6,88.51 105.1,88.50 105.6,88.49 106.1,88.48 106.6,88.47 107.1,88.46 107.6,88.45 108.1,88.44 108.6,88.43 109.1,88.42 109.6,88.40 110.1,88.39 110.6,88.38 111.1,88.37 111.6,88.35 112.1,88.34 112.6,88.33 113.1,88.32 113.6,88.30 114.1,88.29 114.6,88.27 115.1,88.25 115.6,88.23 116.1,88.21 116.6,88.18 117.1,88.15 117.6,88.12 118.1,88.09 118.6,88.05 119.1,88.02 119.6,87.98 120.1,87.95 120.6,87.91 121.1,87.87 121.6,87.83 122.1,87.79 122.6,87.75 123.1,87.71 123.6,87.67 124.1,87.63 124.6,87.60 125.1,87.56 125.6,87.52 126.1,87.49 126.6,87.45 127.1,87.42 127.6,87.38 128.1,87.35 128.6,87.33 129.1,87.30 129.6,87.27 130.1,87.25 130.6,87.23 131.1,87.21 131.6,87.20 132.1,87.19 132.6,87.17 133.1,87.16 133.6,87.15 134.1,87.14 134.6,87.13 135.1,87.12 135.6,87.10 136.1,87.09 136.6,87.08 137.1,87.07 137.6,87.06 138.1,87.05 138.6,87.04 139.1,87.03 139.6,87.02 140.1,87.02 140.6,87.01 141.1,87.00 141.6,86.99 142.1,86.98 142.6,86.98 143.1,86.97 143.6,86.96 144.1,86.95 144.6,86.95 145.1,86.94 145.6,86.94 146.1,86.93 146.6,86.93 147.1,86.92 147.6,86.92 148.1,86.91 148.6,86.91 149.1,86.91 149.6,86.90 150.1,86.90 150.6,86.90 151.1,86.89 151.6,86.89 152.1,86.89 152.6,86.89 153.1,86.88 153.6,86.88 154.1,86.88 154.6,86.88 155.1,86.87 155.6,86.87 156.1,86.87 156.6,86.87 157.1,86.86 157.6,86.86 158.1,86.86 158.6,86.86 159.1,86.85 159.6,86.85 160.1,86.85 160.6,86.85 161.1,86.84 161.6,86.84 162.1,86.84 162.6,86.84 163.1,86.83 163.6,86.83 164.1,86.83 164.6,86.83 165.1,86.83 165.6,86.82 166.1,86.82 166.6,86.82 167.1,86.82 167.6,86.81 168.1,86.81 168.6,86.81 169.1,86.81 169.6,86.81 170.1,86.80 170.6,86.80 171.1,86.80 171.6,86.80 172.1,86.80 172.6,86.79 173.1,86.79 173.6,86.79 174.1,86.79 174.6,86.79 175.1,86.79 175.6,86.78 176.1,86.78 176.6,86.78 177.1,86.78 177.6,86.78 178.1,86.78 178.6,86.77 179.1,86.77 179.6,86.77 180.1,86.77 180.6,86.77 181.1,86.77 181.6,86.76 182.1,86.76 182.6,86.76 183.1,86.76 183.6,86.76 184.1,86.76 184.6,86.75 185.1,86.75 185.6,86.75 186.1,86.75 186.6,86.75 187.1,86.75 187.6,86.75 188.1,86.75 188.6,86.74 189.1,86.74 189.6,86.74 190.1,86.74 190.6,86.74 191.1,86.74 191.6,86.74 192.1,86.74 192.6,86.73 193.1,86.73 193.6,86.73 194.1,86.73 194.6,86.73 195.1,86.73 195.6,86.73 196.1,86.73 196.6,86.73 197.1,86.72 197.6,86.72 198.1,86.72 198.6,86.72 199.1,86.72 199.6,86.72 200.1,86.72 200.6,86.72 201.1,86.72 201.6,86.72 202.1,86.72 202.6,86.72 203.1,86.71 203.6,86.71 204.1,86.71 204.6,86.71 205.1,86.71 205.6,86.71 206.1,86.71 206.6,86.71 207.1,86.71 207.6,86.71 208.1,86.71 208.6,86.71 209.1,86.71 209.6,86.71 210.1,86.71 210.6,86.71 211.1,86.70 211.6,86.70 212.1,86.70 212.6,86.70 213.1,86.70 213.6,86.70 214.1,86.70 214.6,86.70 215.1,86.70 215.6,86.70 216.1,86.70 216.6,86.70 217.1,86.70 217.6,86.70 218.1,86.70 218.6,86.70 219.1,86.70 219.6,86.70 220.1,86.70 220.6,86.70 221.1,86.70 221.6,86.70 222.1,86.70 222.4,86.70" fill="none" stroke="#84167e" stroke-width="2.0" stroke-linejoin="round" stroke-linecap="butt"/>
<polyline points="77.1,216.80 77.6,216.76 78.1,216.72 78.6,216.67 79.1,216.63 79.6,216.58 80.1,216.54 80.6,216.49 81.1,216.44 81.6,216.39 82.1,216.34 82.6,216.29 83.1,216.23 83.6,216.18 84.1,216.13 84.6,216.07 85.1,216.02 85.6,215.96 86.1,215.90 86.6,215.84 87.1,215.78 87.6,215.72 88.1,215.66 88.6,215.60 89.1,215.54 89.6,215.48 90.1,215.42 90.6,215.36 91.1,215.29 91.6,215.23 92.1,215.16 92.6,215.09 93.1,215.02 93.6,214.94 94.1,214.87 94.6,214.79 95.1,214.71 95.6,214.63 96.1,214.55 96.6,214.46 97.1,214.37 97.6,214.28 98.1,214.18 98.6,214.08 99.1,213.96 99.6,213.84 100.1,213.71 100.6,213.57 101.1,213.43 101.6,213.28 102.1,213.13 102.6,212.97 103.1,212.81 103.6,212.65 104.1,212.49 104.6,212.32 105.1,212.16 105.6,212.00 106.1,211.84 106.6,211.68 107.1,211.52 107.6,211.37 108.1,211.23 108.6,211.09 109.1,210.94 109.6,210.79 110.1,210.63 110.6,210.48 111.1,210.32 111.6,210.17 112.1,210.02 112.6,209.87 113.1,209.72 113.6,209.58 114.1,209.45 114.6,209.32 115.1,209.20 115.6,209.10 116.1,209.00 116.6,208.92 117.1,208.84 117.6,208.77 118.1,208.70 118.6,208.63 119.1,208.56 119.6,208.50 120.1,208.44 120.6,208.38 121.1,208.32 121.6,208.26 122.1,208.21 122.6,208.15 123.1,208.10 123.6,208.06 124.1,208.01 124.6,207.97 125.1,207.93 125.6,207.89 126.1,207.85 126.6,207.82 127.1,207.79 127.6,207.76 128.1,207.73 128.6,207.70 129.1,207.68 129.6,207.66 130.1,207.64 130.6,207.62 131.1,207.60 131.6,207.58 132.1,207.56 132.6,207.54 133.1,207.52 133.6,207.51 134.1,207.49 134.6,207.48 135.1,207.46 135.6,207.45 136.1,207.43 136.6,207.42 137.1,207.40 137.6,207.39 138.1,207.38 138.6,207.37 139.1,207.35 139.6,207.34 140.1,207.33 140.6,207.32 141.1,207.31 141.6,207.30 142.1,207.28 142.6,207.27 143.1,207.26 143.6,207.25 144.1,207.24 144.6,207.23 145.1,207.22 145.6,207.21 146.1,207.20 146.6,207.18 147.1,207.17 147.6,207.16 148.1,207.15 148.6,207.14 149.1,207.12 149.6,207.11 150.1,207.10 150.6,207.08 151.1,207.07 151.6,207.06 152.1,207.04 152.6,207.03 153.1,207.02 153.6,207.00 154.1,206.99 154.6,206.98 155.1,206.96 155.6,206.95 156.1,206.93 156.6,206.92 157.1,206.91 157.6,206.89 158.1,206.88 158.6,206.87 159.1,206.85 159.6,206.84 160.1,206.83 160.6,206.81 161.1,206.80 161.6,206.78 162.1,206.77 162.6,206.76 163.1,206.74 163.6,206.73 164.1,206.72 164.6,206.70 165.1,206.69 165.6,206.68 166.1,206.66 166.6,206.65 167.1,206.64 167.6,206.62 168.1,206.61 168.6,206.60 169.1,206.58 169.6,206.57 170.1,206.56 170.6,206.54 171.1,206.53 171.6,206.52 172.1,206.51 172.6,206.49 173.1,206.48 173.6,206.47 174.1,206.46 174.6,206.44 175.1,206.43 175.6,206.42 176.1,206.41 176.6,206.40 177.1,206.38 177.6,206.37 178.1,206.36 178.6,206.35 179.1,206.34 179.6,206.33 180.1,206.31 180.6,206.30 181.1,206.29 181.6,206.28 182.1,206.27 182.6,206.26 183.1,206.25 183.6,206.24 184.1,206.23 184.6,206.22 185.1,206.21 185.6,206.20 186.1,206.19 186.6,206.18 187.1,206.17 187.6,206.16 188.1,206.15 188.6,206.14 189.1,206.13 189.6,206.12 190.1,206.11 190.6,206.10 191.1,206.09 191.6,206.08 192.1,206.07 192.6,206.06 193.1,206.05 193.6,206.04 194.1,206.03 194.6,206.03 195.1,206.02 195.6,206.01 196.1,206.00 196.6,205.99 197.1,205.98 197.6,205.97 198.1,205.96 198.6,205.95 199.1,205.94 199.6,205.94 200.1,205.93 200.6,205.92 201.1,205.91 201.6,205.90 202.1,205.89 202.6,205.88 203.1,205.88 203.6,205.87 204.1,205.86 204.6,205.85 205.1,205.84 205.6,205.84 206.1,205.83 206.6,205.82 207.1,205.81 207.6,205.80 208.1,205.80 208.6,205.79 209.1,205.78 209.6,205.77 210.1,205.76 210.6,205.76 211.1,205.75 211.6,205.74 212.1,205.74 212.6,205.73 213.1,205.72 213.6,205.71 214.1,205.71 214.6,205.70 215.1,205.69 215.6,205.69 216.1,205.68 216.6,205.67 217.1,205.67 217.6,205.66 218.1,205.65 218.6,205.65 219.1,205.64 219.6,205.63 220.1,205.63 220.6,205.62 221.1,205.62 221.6,205.61 222.1,205.60 222.4,205.60" fill="none" stroke="#0a8ad6" stroke-width="2.0" stroke-linejoin="round" stroke-linecap="butt"/>
<polyline points="77.1,130.00 77.6,130.03 78.1,130.06 78.6,130.09 79.1,130.12 79.6,130.16 80.1,130.20 80.6,130.25 81.1,130.30 81.6,130.34 82.1,130.40 82.6,130.45 83.1,130.50 83.6,130.56 84.1,130.62 84.6,130.68 85.1,130.75 85.6,130.81 86.1,130.88 86.6,130.94 87.1,131.01 87.6,131.08 88.1,131.15 88.6,131.22 89.1,131.30 89.6,131.37 90.1,131.45 90.6,131.52 91.1,131.61 91.6,131.69 92.1,131.78 92.6,131.88 93.1,131.97 93.6,132.07 94.1,132.18 94.6,132.28 95.1,132.39 95.6,132.51 96.1,132.63 96.6,132.75 97.1,132.87 97.6,133.00 98.1,133.12 98.6,133.26 99.1,133.39 99.6,133.53 100.1,133.67 100.6,133.83 101.1,134.00 101.6,134.17 102.1,134.36 102.6,134.54 103.1,134.74 103.6,134.94 104.1,135.14 104.6,135.34 105.1,135.54 105.6,135.74 106.1,135.94 106.6,136.14 107.1,136.34 107.6,136.53 108.1,136.71 108.6,136.90 109.1,137.09 109.6,137.28 110.1,137.47 110.6,137.66 111.1,137.85 111.6,138.05 112.1,138.24 112.6,138.43 113.1,138.62 113.6,138.80 114.1,138.98 114.6,139.16 115.1,139.34 115.6,139.51 116.1,139.67 116.6,139.83 117.1,139.98 117.6,140.13 118.1,140.27 118.6,140.41 119.1,140.55 119.6,140.69 120.1,140.82 120.6,140.95 121.1,141.07 121.6,141.19 122.1,141.31 122.6,141.42 123.1,141.53 123.6,141.63 124.1,141.73 124.6,141.82 125.1,141.90 125.6,141.99 126.1,142.07 126.6,142.15 127.1,142.22 127.6,142.30 128.1,142.37 128.6,142.44 129.1,142.51 129.6,142.58 130.1,142.65 130.6,142.71 131.1,142.78 131.6,142.84 132.1,142.90 132.6,142.96 133.1,143.02 133.6,143.08 134.1,143.14 134.6,143.19 135.1,143.25 135.6,143.30 136.1,143.36 136.6,143.41 137.1,143.47 137.6,143.52 138.1,143.58 138.6,143.63 139.1,143.69 139.6,143.74 140.1,143.79 140.6,143.84 141.1,143.90 141.6,143.95 142.1,144.00 142.6,144.05 143.1,144.10 143.6,144.14 144.1,144.19 144.6,144.24 145.1,144.29 145.6,144.33 146.1,144.38 146.6,144.42 147.1,144.46 147.6,144.51 148.1,144.55 148.6,144.59 149.1,144.63 149.6,144.67 150.1,144.71 150.6,144.75 151.1,144.78 151.6,144.82 152.1,144.86 152.6,144.89 153.1,144.93 153.6,144.97 154.1,145.00 154.6,145.04 155.1,145.07 155.6,145.11 156.1,145.14 156.6,145.18 157.1,145.21 157.6,145.25 158.1,145.28 158.6,145.31 159.1,145.35 159.6,145.38 160.1,145.41 160.6,145.44 161.1,145.48 161.6,145.51 162.1,145.54 162.6,145.57 163.1,145.60 163.6,145.63 164.1,145.66 164.6,145.69 165.1,145.72 165.6,145.75 166.1,145.78 166.6,145.81 167.1,145.84 167.6,145.87 168.1,145.90 168.6,145.93 169.1,145.95 169.6,145.98 170.1,146.01 170.6,146.04 171.1,146.06 171.6,146.09 172.1,146.12 172.6,146.14 173.1,146.17 173.6,146.20 174.1,146.22 174.6,146.25 175.1,146.27 175.6,146.30 176.1,146.32 176.6,146.35 177.1,146.37 177.6,146.40 178.1,146.42 178.6,146.44 179.1,146.47 179.6,146.49 180.1,146.51 180.6,146.54 181.1,146.56 181.6,146.58 182.1,146.60 182.6,146.63 183.1,146.65 183.6,146.67 184.1,146.69 184.6,146.71 185.1,146.74 185.6,146.76 186.1,146.78 186.6,146.80 187.1,146.82 187.6,146.84 188.1,146.86 188.6,146.88 189.1,146.90 189.6,146.92 190.1,146.94 190.6,146.96 191.1,146.98 191.6,147.00 192.1,147.02 192.6,147.04 193.1,147.06 193.6,147.08 194.1,147.10 194.6,147.12 195.1,147.13 195.6,147.15 196.1,147.17 196.6,147.19 197.1,147.21 197.6,147.23 198.1,147.24 198.6,147.26 199.1,147.28 199.6,147.30 200.1,147.31 200.6,147.33 201.1,147.35 201.6,147.37 202.1,147.38 202.6,147.40 203.1,147.42 203.6,147.44 204.1,147.45 204.6,147.47 205.1,147.49 205.6,147.50 206.1,147.52 206.6,147.54 207.1,147.55 207.6,147.57 208.1,147.59 208.6,147.60 209.1,147.62 209.6,147.63 210.1,147.65 210.6,147.66 211.1,147.68 211.6,147.70 212.1,147.71 212.6,147.73 213.1,147.74 213.6,147.76 214.1,147.77 214.6,147.79 215.1,147.80 215.6,147.81 216.1,147.83 216.6,147.84 217.1,147.86 217.6,147.87 218.1,147.88 218.6,147.90 219.1,147.91 219.6,147.93 220.1,147.94 220.6,147.95 221.1,147.97 221.6,147.98 222.1,147.99 222.4,148.00" fill="none" stroke="#fb4b2f" stroke-width="2.0" stroke-linejoin="round" stroke-linecap="butt"/>
<polyline points="77.1,136.00 77.6,136.00 78.1,136.00 78.6,136.01 79.1,136.02 79.6,136.03 80.1,136.04 80.6,136.05 81.1,136.07 81.6,136.09 82.1,136.11 82.6,136.13 83.1,136.15 83.6,136.18 84.1,136.20 84.6,136.23 85.1,136.26 85.6,136.29 86.1,136.32 86.6,136.36 87.1,136.39 87.6,136.43 88.1,136.47 88.6,136.50 89.1,136.54 89.6,136.58 90.1,136.63 90.6,136.68 91.1,136.75 91.6,136.83 92.1,136.91 92.6,137.01 93.1,137.12 93.6,137.24 94.1,137.36 94.6,137.49 95.1,137.63 95.6,137.77 96.1,137.92 96.6,138.07 97.1,138.22 97.6,138.38 98.1,138.54 98.6,138.71 99.1,138.87 99.6,139.03 100.1,139.21 100.6,139.40 101.1,139.60 101.6,139.82 102.1,140.05 102.6,140.28 103.1,140.52 103.6,140.77 104.1,141.03 104.6,141.29 105.1,141.54 105.6,141.80 106.1,142.06 106.6,142.31 107.1,142.56 107.6,142.80 108.1,143.04 108.6,143.29 109.1,143.54 109.6,143.80 110.1,144.06 110.6,144.32 111.1,144.59 111.6,144.85 112.1,145.12 112.6,145.38 113.1,145.64 113.6,145.89 114.1,146.13 114.6,146.37 115.1,146.59 115.6,146.81 116.1,147.01 116.6,147.20 117.1,147.37 117.6,147.53 118.1,147.68 118.6,147.82 119.1,147.97 119.6,148.10 120.1,148.23 120.6,148.36 121.1,148.48 121.6,148.59 122.1,148.70 122.6,148.80 123.1,148.89 123.6,148.97 124.1,149.05 124.6,149.11 125.1,149.17 125.6,149.23 126.1,149.29 126.6,149.34 127.1,149.39 127.6,149.44 128.1,149.49 128.6,149.54 129.1,149.58 129.6,149.63 130.1,149.67 130.6,149.71 131.1,149.75 131.6,149.78 132.1,149.82 132.6,149.86 133.1,149.89 133.6,149.92 134.1,149.96 134.6,149.99 135.1,150.02 135.6,150.05 136.1,150.08 136.6,150.10 137.1,150.13 137.6,150.16 138.1,150.19 138.6,150.22 139.1,150.24 139.6,150.27 140.1,150.30 140.6,150.32 141.1,150.35 141.6,150.37 142.1,150.40 142.6,150.42 143.1,150.44 143.6,150.47 144.1,150.49 144.6,150.51 145.1,150.53 145.6,150.55 146.1,150.57 146.6,150.59 147.1,150.61 147.6,150.63 148.1,150.64 148.6,150.66 149.1,150.67 149.6,150.69 150.1,150.70 150.6,150.72 151.1,150.73 151.6,150.74 152.1,150.75 152.6,150.77 153.1,150.78 153.6,150.79 154.1,150.80 154.6,150.81 155.1,150.82 155.6,150.83 156.1,150.84 156.6,150.85 157.1,150.86 157.6,150.87 158.1,150.88 158.6,150.89 159.1,150.90 159.6,150.91 160.1,150.91 160.6,150.92 161.1,150.93 161.6,150.94 162.1,150.95 162.6,150.96 163.1,150.96 163.6,150.97 164.1,150.98 164.6,150.99 165.1,150.99 165.6,151.00 166.1,151.01 166.6,151.02 167.1,151.02 167.6,151.03 168.1,151.04 168.6,151.05 169.1,151.05 169.6,151.06 170.1,151.07 170.6,151.08 171.1,151.09 171.6,151.09 172.1,151.10 172.6,151.11 173.1,151.12 173.6,151.13 174.1,151.13 174.6,151.14 175.1,151.15 175.6,151.16 176.1,151.17 176.6,151.18 177.1,151.19 177.6,151.20 178.1,151.21 178.6,151.22 179.1,151.23 179.6,151.24 180.1,151.25 180.6,151.26 181.1,151.27 181.6,151.28 182.1,151.29 182.6,151.30 183.1,151.32 183.6,151.33 184.1,151.34 184.6,151.35 185.1,151.36 185.6,151.37 186.1,151.39 186.6,151.40 187.1,151.41 187.6,151.42 188.1,151.43 188.6,151.44 189.1,151.46 189.6,151.47 190.1,151.48 190.6,151.49 191.1,151.50 191.6,151.52 192.1,151.53 192.6,151.54 193.1,151.55 193.6,151.56 194.1,151.58 194.6,151.59 195.1,151.60 195.6,151.61 196.1,151.62 196.6,151.63 197.1,151.64 197.6,151.65 198.1,151.66 198.6,151.67 199.1,151.68 199.6,151.70 200.1,151.71 200.6,151.71 201.1,151.72 201.6,151.73 202.1,151.74 202.6,151.75 203.1,151.76 203.6,151.77 204.1,151.78 204.6,151.79 205.1,151.79 205.6,151.80 206.1,151.81 206.6,151.82 207.1,151.82 207.6,151.83 208.1,151.84 208.6,151.84 209.1,151.85 209.6,151.86 210.1,151.87 210.6,151.87 211.1,151.88 211.6,151.89 212.1,151.89 212.6,151.90 213.1,151.90 213.6,151.91 214.1,151.92 214.6,151.92 215.1,151.93 215.6,151.93 216.1,151.94 216.6,151.94 217.1,151.95 217.6,151.96 218.1,151.96 218.6,151.97 219.1,151.97 219.6,151.98 220.1,151.98 220.6,151.98 221.1,151.99 221.6,151.99 222.1,152.00 222.4,152.00" fill="none" stroke="#e2a934" stroke-width="2.0" stroke-linejoin="round" stroke-linecap="butt"/>
<polyline points="77.1,206.60 77.6,206.59 78.1,206.59 78.6,206.58 79.1,206.57 79.6,206.56 80.1,206.55 80.6,206.54 81.1,206.52 81.6,206.51 82.1,206.50 82.6,206.48 83.1,206.47 83.6,206.45 84.1,206.44 84.6,206.42 85.1,206.40 85.6,206.38 86.1,206.37 86.6,206.35 87.1,206.33 87.6,206.31 88.1,206.29 88.6,206.27 89.1,206.25 89.6,206.23 90.1,206.21 90.6,206.18 91.1,206.16 91.6,206.14 92.1,206.12 92.6,206.09 93.1,206.07 93.6,206.05 94.1,206.02 94.6,206.00 95.1,205.97 95.6,205.95 96.1,205.92 96.6,205.88 97.1,205.85 97.6,205.81 98.1,205.77 98.6,205.73 99.1,205.68 99.6,205.64 100.1,205.59 100.6,205.55 101.1,205.50 101.6,205.45 102.1,205.41 102.6,205.36 103.1,205.31 103.6,205.26 104.1,205.21 104.6,205.17 105.1,205.12 105.6,205.08 106.1,205.03 106.6,204.99 107.1,204.95 107.6,204.91 108.1,204.88 108.6,204.84 109.1,204.81 109.6,204.78 110.1,204.76 110.6,204.74 111.1,204.72 111.6,204.70 112.1,204.69 112.6,204.67 113.1,204.66 113.6,204.64 114.1,204.63 114.6,204.62 115.1,204.60 115.6,204.59 116.1,204.58 116.6,204.56 117.1,204.55 117.6,204.54 118.1,204.53 118.6,204.51 119.1,204.50 119.6,204.49 120.1,204.48 120.6,204.47 121.1,204.46 121.6,204.44 122.1,204.43 122.6,204.42 123.1,204.41 123.6,204.40 124.1,204.39 124.6,204.38 125.1,204.37 125.6,204.36 126.1,204.35 126.6,204.34 127.1,204.33 127.6,204.32 128.1,204.31 128.6,204.30 129.1,204.29 129.6,204.28 130.1,204.28 130.6,204.27 131.1,204.26 131.6,204.25 132.1,204.24 132.6,204.24 133.1,204.23 133.6,204.22 134.1,204.21 134.6,204.21 135.1,204.20 135.6,204.19 136.1,204.19 136.6,204.18 137.1,204.18 137.6,204.17 138.1,204.16 138.6,204.16 139.1,204.15 139.6,204.15 140.1,204.15 140.6,204.14 141.1,204.14 141.6,204.13 142.1,204.13 142.6,204.13 143.1,204.12 143.6,204.12 144.1,204.12 144.6,204.11 145.1,204.11 145.6,204.11 146.1,204.11 146.6,204.11 147.1,204.10 147.6,204.10 148.1,204.10 148.6,204.10 149.1,204.10 149.6,204.10 150.1,204.10 150.6,204.10 151.1,204.10 151.6,204.10 152.1,204.10 152.6,204.10 153.1,204.10 153.6,204.10 154.1,204.10 154.6,204.10 155.1,204.10 155.6,204.10 156.1,204.10 156.6,204.10 157.1,204.10 157.6,204.10 158.1,204.10 158.6,204.10 159.1,204.10 159.6,204.10 160.1,204.10 160.6,204.10 161.1,204.10 161.6,204.10 162.1,204.10 162.6,204.10 163.1,204.10 163.6,204.10 164.1,204.10 164.6,204.10 165.1,204.10 165.6,204.10 166.1,204.10 166.6,204.10 167.1,204.10 167.6,204.10 168.1,204.10 168.6,204.11 169.1,204.11 169.6,204.11 170.1,204.11 170.6,204.11 171.1,204.11 171.6,204.11 172.1,204.11 172.6,204.11 173.1,204.11 173.6,204.11 174.1,204.11 174.6,204.11 175.1,204.11 175.6,204.11 176.1,204.11 176.6,204.11 177.1,204.12 177.6,204.12 178.1,204.12 178.6,204.12 179.1,204.12 179.6,204.12 180.1,204.12 180.6,204.12 181.1,204.12 181.6,204.12 182.1,204.13 182.6,204.13 183.1,204.13 183.6,204.13 184.1,204.13 184.6,204.13 185.1,204.13 185.6,204.14 186.1,204.14 186.6,204.14 187.1,204.14 187.6,204.14 188.1,204.14 188.6,204.15 189.1,204.15 189.6,204.15 190.1,204.15 190.6,204.15 191.1,204.15 191.6,204.16 192.1,204.16 192.6,204.16 193.1,204.16 193.6,204.17 194.1,204.17 194.6,204.17 195.1,204.17 195.6,204.17 196.1,204.18 196.6,204.18 197.1,204.18 197.6,204.19 198.1,204.19 198.6,204.19 199.1,204.19 199.6,204.20 200.1,204.20 200.6,204.20 201.1,204.21 201.6,204.21 202.1,204.21 202.6,204.22 203.1,204.22 203.6,204.22 204.1,204.23 204.6,204.23 205.1,204.23 205.6,204.24 206.1,204.24 206.6,204.24 207.1,204.25 207.6,204.25 208.1,204.26 208.6,204.26 209.1,204.26 209.6,204.27 210.1,204.27 210.6,204.28 211.1,204.28 211.6,204.28 212.1,204.29 212.6,204.29 213.1,204.30 213.6,204.30 214.1,204.31 214.6,204.31 215.1,204.32 215.6,204.32 216.1,204.33 216.6,204.33 217.1,204.34 217.6,204.34 218.1,204.35 218.6,204.36 219.1,204.36 219.6,204.37 220.1,204.37 220.6,204.38 221.1,204.38 221.6,204.39 222.1,204.40 222.4,204.40" fill="none" stroke="#678a55" stroke-width="2.0" stroke-linejoin="round" stroke-linecap="butt"/>
<polyline points="77.1,176.20 77.6,176.15 78.1,176.10 78.6,176.04 79.1,175.98 79.6,175.92 80.1,175.86 80.6,175.80 81.1,175.74 81.6,175.67 82.1,175.60 82.6,175.53 83.1,175.46 83.6,175.39 84.1,175.31 84.6,175.24 85.1,175.16 85.6,175.08 86.1,175.00 86.6,174.92 87.1,174.84 87.6,174.75 88.1,174.66 88.6,174.57 89.1,174.48 89.6,174.39 90.1,174.29 90.6,174.19 91.1,174.09 91.6,173.98 92.1,173.88 92.6,173.77 93.1,173.65 93.6,173.54 94.1,173.42 94.6,173.30 95.1,173.17 95.6,173.05 96.1,172.91 96.6,172.77 97.1,172.63 97.6,172.48 98.1,172.33 98.6,172.18 99.1,172.02 99.6,171.85 100.1,171.68 100.6,171.51 101.1,171.34 101.6,171.16 102.1,170.98 102.6,170.79 103.1,170.60 103.6,170.40 104.1,170.19 104.6,169.96 105.1,169.73 105.6,169.48 106.1,169.23 106.6,168.97 107.1,168.71 107.6,168.45 108.1,168.19 108.6,167.93 109.1,167.67 109.6,167.42 110.1,167.17 110.6,166.94 111.1,166.71 111.6,166.50 112.1,166.29 112.6,166.08 113.1,165.88 113.6,165.67 114.1,165.46 114.6,165.26 115.1,165.06 115.6,164.86 116.1,164.67 116.6,164.49 117.1,164.31 117.6,164.14 118.1,163.98 118.6,163.82 119.1,163.68 119.6,163.54 120.1,163.42 120.6,163.31 121.1,163.21 121.6,163.10 122.1,163.01 122.6,162.91 123.1,162.83 123.6,162.74 124.1,162.66 124.6,162.58 125.1,162.50 125.6,162.43 126.1,162.36 126.6,162.29 127.1,162.22 127.6,162.15 128.1,162.08 128.6,162.01 129.1,161.95 129.6,161.88 130.1,161.81 130.6,161.74 131.1,161.67 131.6,161.60 132.1,161.53 132.6,161.47 133.1,161.40 133.6,161.34 134.1,161.28 134.6,161.22 135.1,161.16 135.6,161.11 136.1,161.06 136.6,161.02 137.1,160.98 137.6,160.94 138.1,160.91 138.6,160.88 139.1,160.86 139.6,160.84 140.1,160.81 140.6,160.79 141.1,160.77 141.6,160.76 142.1,160.74 142.6,160.72 143.1,160.71 143.6,160.69 144.1,160.68 144.6,160.66 145.1,160.65 145.6,160.64 146.1,160.62 146.6,160.61 147.1,160.59 147.6,160.58 148.1,160.56 148.6,160.55 149.1,160.53 149.6,160.51 150.1,160.50 150.6,160.48 151.1,160.46 151.6,160.44 152.1,160.42 152.6,160.40 153.1,160.38 153.6,160.36 154.1,160.34 154.6,160.32 155.1,160.30 155.6,160.28 156.1,160.26 156.6,160.24 157.1,160.21 157.6,160.19 158.1,160.17 158.6,160.15 159.1,160.13 159.6,160.11 160.1,160.09 160.6,160.06 161.1,160.04 161.6,160.02 162.1,160.00 162.6,159.98 163.1,159.95 163.6,159.93 164.1,159.91 164.6,159.89 165.1,159.86 165.6,159.84 166.1,159.82 166.6,159.80 167.1,159.77 167.6,159.75 168.1,159.73 168.6,159.71 169.1,159.68 169.6,159.66 170.1,159.64 170.6,159.61 171.1,159.59 171.6,159.57 172.1,159.55 172.6,159.53 173.1,159.50 173.6,159.48 174.1,159.46 174.6,159.44 175.1,159.41 175.6,159.39 176.1,159.37 176.6,159.35 177.1,159.33 177.6,159.30 178.1,159.28 178.6,159.26 179.1,159.24 179.6,159.22 180.1,159.19 180.6,159.17 181.1,159.15 181.6,159.13 182.1,159.10 182.6,159.08 183.1,159.06 183.6,159.03 184.1,159.01 184.6,158.98 185.1,158.96 185.6,158.94 186.1,158.91 186.6,158.89 187.1,158.87 187.6,158.84 188.1,158.82 188.6,158.79 189.1,158.77 189.6,158.75 190.1,158.72 190.6,158.70 191.1,158.68 191.6,158.65 192.1,158.63 192.6,158.61 193.1,158.58 193.6,158.56 194.1,158.54 194.6,158.52 195.1,158.49 195.6,158.47 196.1,158.45 196.6,158.43 197.1,158.41 197.6,158.39 198.1,158.37 198.6,158.35 199.1,158.33 199.6,158.31 200.1,158.29 200.6,158.27 201.1,158.25 201.6,158.23 202.1,158.21 202.6,158.19 203.1,158.18 203.6,158.16 204.1,158.14 204.6,158.13 205.1,158.11 205.6,158.10 206.1,158.08 206.6,158.07 207.1,158.05 207.6,158.04 208.1,158.02 208.6,158.01 209.1,158.00 209.6,157.98 210.1,157.97 210.6,157.96 211.1,157.94 211.6,157.93 212.1,157.92 212.6,157.90 213.1,157.89 213.6,157.88 214.1,157.87 214.6,157.86 215.1,157.84 215.6,157.83 216.1,157.82 216.6,157.81 217.1,157.80 217.6,157.79 218.1,157.78 218.6,157.77 219.1,157.76 219.6,157.75 220.1,157.74 220.6,157.73 221.1,157.72 221.6,157.71 222.1,157.70 222.4,157.70" fill="none" stroke="#8a8a8a" stroke-width="2.0" stroke-linejoin="round" stroke-linecap="butt"/>
<polyline points="77.1,205.20 77.6,205.20 78.1,205.20 78.6,205.20 79.1,205.20 79.6,205.20 80.1,205.20 80.6,205.20 81.1,205.20 81.6,205.20 82.1,205.20 82.6,205.20 83.1,205.20 83.6,205.20 84.1,205.20 84.6,205.20 85.1,205.20 85.6,205.20 86.1,205.20 86.6,205.20 87.1,205.20 87.6,205.20 88.1,205.20 88.6,205.20 89.1,205.20 89.6,205.20 90.1,205.20 90.6,205.20 91.1,205.20 91.6,205.20 92.1,205.20 92.6,205.20 93.1,205.20 93.6,205.20 94.1,205.20 94.6,205.20 95.1,205.20 95.6,205.19 96.1,205.18 96.6,205.16 97.1,205.14 97.6,205.12 98.1,205.09 98.6,205.06 99.1,205.03 99.6,204.99 100.1,204.95 100.6,204.91 101.1,204.87 101.6,204.82 102.1,204.77 102.6,204.72 103.1,204.67 103.6,204.62 104.1,204.57 104.6,204.51 105.1,204.46 105.6,204.41 106.1,204.35 106.6,204.30 107.1,204.24 107.6,204.19 108.1,204.13 108.6,204.08 109.1,204.03 109.6,203.98 110.1,203.93 110.6,203.89 111.1,203.84 111.6,203.80 112.1,203.76 112.6,203.71 113.1,203.66 113.6,203.61 114.1,203.56 114.6,203.51 115.1,203.46 115.6,203.41 116.1,203.36 116.6,203.31 117.1,203.27 117.6,203.23 118.1,203.19 118.6,203.16 119.1,203.13 119.6,203.11 120.1,203.10 120.6,203.09 121.1,203.09 121.6,203.08 122.1,203.07 122.6,203.07 123.1,203.06 123.6,203.05 124.1,203.05 124.6,203.04 125.1,203.04 125.6,203.03 126.1,203.02 126.6,203.02 127.1,203.01 127.6,203.01 128.1,203.00 128.6,203.00 129.1,202.99 129.6,202.99 130.1,202.98 130.6,202.98 131.1,202.97 131.6,202.97 132.1,202.97 132.6,202.96 133.1,202.96 133.6,202.96 134.1,202.95 134.6,202.95 135.1,202.95 135.6,202.94 136.1,202.94 136.6,202.94 137.1,202.93 137.6,202.93 138.1,202.93 138.6,202.93 139.1,202.92 139.6,202.92 140.1,202.92 140.6,202.92 141.1,202.92 141.6,202.91 142.1,202.91 142.6,202.91 143.1,202.91 143.6,202.91 144.1,202.91 144.6,202.91 145.1,202.90 145.6,202.90 146.1,202.90 146.6,202.90 147.1,202.90 147.6,202.90 148.1,202.90 148.6,202.90 149.1,202.90 149.6,202.90 150.1,202.90 150.6,202.90 151.1,202.90 151.6,202.90 152.1,202.90 152.6,202.90 153.1,202.90 153.6,202.90 154.1,202.90 154.6,202.90 155.1,202.90 155.6,202.90 156.1,202.90 156.6,202.90 157.1,202.90 157.6,202.90 158.1,202.90 158.6,202.90 159.1,202.90 159.6,202.90 160.1,202.90 160.6,202.90 161.1,202.90 161.6,202.90 162.1,202.90 162.6,202.90 163.1,202.90 163.6,202.90 164.1,202.90 164.6,202.90 165.1,202.90 165.6,202.90 166.1,202.90 166.6,202.90 167.1,202.90 167.6,202.90 168.1,202.90 168.6,202.90 169.1,202.90 169.6,202.90 170.1,202.90 170.6,202.90 171.1,202.90 171.6,202.90 172.1,202.90 172.6,202.90 173.1,202.90 173.6,202.90 174.1,202.90 174.6,202.90 175.1,202.90 175.6,202.90 176.1,202.90 176.6,202.90 177.1,202.91 177.6,202.91 178.1,202.91 178.6,202.91 179.1,202.91 179.6,202.91 180.1,202.91 180.6,202.91 181.1,202.91 181.6,202.91 182.1,202.91 182.6,202.91 183.1,202.91 183.6,202.91 184.1,202.91 184.6,202.91 185.1,202.91 185.6,202.91 186.1,202.91 186.6,202.91 187.1,202.91 187.6,202.91 188.1,202.91 188.6,202.92 189.1,202.92 189.6,202.92 190.1,202.92 190.6,202.92 191.1,202.92 191.6,202.92 192.1,202.92 192.6,202.92 193.1,202.92 193.6,202.92 194.1,202.92 194.6,202.92 195.1,202.92 195.6,202.92 196.1,202.93 196.6,202.93 197.1,202.93 197.6,202.93 198.1,202.93 198.6,202.93 199.1,202.93 199.6,202.93 200.1,202.93 200.6,202.93 201.1,202.94 201.6,202.94 202.1,202.94 202.6,202.94 203.1,202.94 203.6,202.94 204.1,202.94 204.6,202.94 205.1,202.94 205.6,202.95 206.1,202.95 206.6,202.95 207.1,202.95 207.6,202.95 208.1,202.95 208.6,202.95 209.1,202.95 209.6,202.96 210.1,202.96 210.6,202.96 211.1,202.96 211.6,202.96 212.1,202.96 212.6,202.96 213.1,202.97 213.6,202.97 214.1,202.97 214.6,202.97 215.1,202.97 215.6,202.97 216.1,202.98 216.6,202.98 217.1,202.98 217.6,202.98 218.1,202.98 218.6,202.99 219.1,202.99 219.6,202.99 220.1,202.99 220.6,202.99 221.1,202.99 221.6,203.00 222.1,203.00 222.4,203.00" fill="none" stroke="#84167e" stroke-width="2.0" stroke-linejoin="round" stroke-linecap="butt"/>
<polyline points="77.1,329.80 77.6,329.80 78.1,329.80 78.6,329.80 79.1,329.80 79.6,329.80 80.1,329.80 80.6,329.80 81.1,329.80 81.6,329.80 82.1,329.80 82.6,329.80 83.1,329.80 83.6,329.80 84.1,329.80 84.6,329.80 85.1,329.80 85.6,329.80 86.1,329.80 86.6,329.80 87.1,329.80 87.6,329.80 88.1,329.80 88.6,329.80 89.1,329.80 89.6,329.80 90.1,329.80 90.6,329.80 91.1,329.80 91.6,329.80 92.1,329.80 92.6,329.80 93.1,329.80 93.6,329.80 94.1,329.80 94.6,329.80 95.1,329.80 95.6,329.80 96.1,329.80 96.6,329.80 97.1,329.80 97.6,329.80 98.1,329.80 98.6,329.80 99.1,329.80 99.6,329.80 100.1,329.80 100.6,329.80 101.1,329.80 101.6,329.80 102.1,329.80 102.6,329.80 103.1,329.80 103.6,329.80 104.1,329.80 104.6,329.80 105.1,329.80 105.6,329.80 106.1,329.80 106.6,329.80 107.1,329.80 107.6,329.80 108.1,329.80 108.6,329.80 109.1,329.80 109.6,329.80 110.1,329.80 110.6,329.80 111.1,329.80 111.6,329.80 112.1,329.80 112.6,329.80 113.1,329.80 113.6,329.80 114.1,329.80 114.6,329.80 115.1,329.80 115.6,329.80 116.1,329.80 116.6,329.80 117.1,329.80 117.6,329.80 118.1,329.80 118.6,329.80 119.1,329.80 119.6,329.80 120.1,329.79 120.6,329.79 121.1,329.79 121.6,329.78 122.1,329.78 122.6,329.77 123.1,329.76 123.6,329.76 124.1,329.75 124.6,329.74 125.1,329.74 125.6,329.73 126.1,329.72 126.6,329.71 127.1,329.70 127.6,329.69 128.1,329.68 128.6,329.67 129.1,329.66 129.6,329.65 130.1,329.63 130.6,329.62 131.1,329.61 131.6,329.60 132.1,329.58 132.6,329.57 133.1,329.56 133.6,329.54 134.1,329.53 134.6,329.52 135.1,329.50 135.6,329.49 136.1,329.47 136.6,329.46 137.1,329.45 137.6,329.43 138.1,329.42 138.6,329.40 139.1,329.39 139.6,329.37 140.1,329.36 140.6,329.35 141.1,329.33 141.6,329.32 142.1,329.30 142.6,329.29 143.1,329.27 143.6,329.26 144.1,329.24 144.6,329.22 145.1,329.20 145.6,329.18 146.1,329.16 146.6,329.14 147.1,329.12 147.6,329.10 148.1,329.08 148.6,329.06 149.1,329.04 149.6,329.02 150.1,329.00 150.6,328.98 151.1,328.96 151.6,328.94 152.1,328.93 152.6,328.91 153.1,328.89 153.6,328.88 154.1,328.86 154.6,328.85 155.1,328.83 155.6,328.82 156.1,328.80 156.6,328.78 157.1,328.77 157.6,328.75 158.1,328.73 158.6,328.71 159.1,328.69 159.6,328.67 160.1,328.65 160.6,328.63 161.1,328.60 161.6,328.58 162.1,328.55 162.6,328.52 163.1,328.49 163.6,328.46 164.1,328.43 164.6,328.38 165.1,328.34 165.6,328.29 166.1,328.23 166.6,328.17 167.1,328.10 167.6,328.02 168.1,327.92 168.6,327.77 169.1,327.59 169.6,327.38 170.1,327.15 170.6,326.92 171.1,326.69 171.6,326.46 172.1,326.21 172.6,325.94 173.1,325.65 173.6,325.36 174.1,325.08 174.6,324.80 175.1,324.56 175.6,324.34 176.1,324.17 176.6,324.01 177.1,323.85 177.6,323.70 178.1,323.56 178.6,323.43 179.1,323.32 179.6,323.22 180.1,323.15 180.6,323.11 181.1,323.08 181.6,323.06 182.1,323.03 182.6,323.01 183.1,322.99 183.6,322.98 184.1,322.96 184.6,322.94 185.1,322.93 185.6,322.91 186.1,322.90 186.6,322.89 187.1,322.88 187.6,322.87 188.1,322.86 188.6,322.85 189.1,322.84 189.6,322.83 190.1,322.82 190.6,322.81 191.1,322.80 191.6,322.80 192.1,322.79 192.6,322.78 193.1,322.77 193.6,322.77 194.1,322.76 194.6,322.75 195.1,322.74 195.6,322.73 196.1,322.72 196.6,322.71 197.1,322.70 197.6,322.69 198.1,322.68 198.6,322.67 199.1,322.66 199.6,322.65 200.1,322.64 200.6,322.63 201.1,322.62 201.6,322.61 202.1,322.60 202.6,322.59 203.1,322.57 203.6,322.56 204.1,322.55 204.6,322.54 205.1,322.53 205.6,322.52 206.1,322.51 206.6,322.50 207.1,322.49 207.6,322.48 208.1,322.47 208.6,322.46 209.1,322.45 209.6,322.44 210.1,322.43 210.6,322.42 211.1,322.41 211.6,322.40 212.1,322.39 212.6,322.38 213.1,322.37 213.6,322.36 214.1,322.35 214.6,322.34 215.1,322.33 215.6,322.32 216.1,322.31 216.6,322.30 217.1,322.30 217.6,322.29 218.1,322.28 218.6,322.27 219.1,322.26 219.6,322.25 220.1,322.24 220.6,322.23 221.1,322.22 221.6,322.21 222.1,322.21 222.4,322.20" fill="none" stroke="#0a8ad6" stroke-width="2.0" stroke-linejoin="round" stroke-linecap="butt"/>
<polyline points="77.1,251.60 77.6,251.61 78.1,251.62 78.6,251.64 79.1,251.65 79.6,251.66 80.1,251.67 80.6,251.69 81.1,251.70 81.6,251.71 82.1,251.73 82.6,251.74 83.1,251.75 83.6,251.77 84.1,251.78 84.6,251.79 85.1,251.81 85.6,251.82 86.1,251.84 86.6,251.85 87.1,251.87 87.6,251.88 88.1,251.90 88.6,251.91 89.1,251.93 89.6,251.94 90.1,251.96 90.6,251.97 91.1,251.99 91.6,252.01 92.1,252.02 92.6,252.04 93.1,252.05 93.6,252.07 94.1,252.09 94.6,252.10 95.1,252.12 95.6,252.14 96.1,252.16 96.6,252.17 97.1,252.19 97.6,252.21 98.1,252.23 98.6,252.24 99.1,252.26 99.6,252.28 100.1,252.30 100.6,252.31 101.1,252.33 101.6,252.35 102.1,252.37 102.6,252.39 103.1,252.41 103.6,252.43 104.1,252.45 104.6,252.46 105.1,252.48 105.6,252.50 106.1,252.52 106.6,252.54 107.1,252.56 107.6,252.58 108.1,252.60 108.6,252.62 109.1,252.64 109.6,252.66 110.1,252.68 110.6,252.70 111.1,252.72 111.6,252.74 112.1,252.76 112.6,252.78 113.1,252.80 113.6,252.83 114.1,252.85 114.6,252.87 115.1,252.89 115.6,252.91 116.1,252.94 116.6,252.96 117.1,252.98 117.6,253.01 118.1,253.03 118.6,253.05 119.1,253.08 119.6,253.10 120.1,253.13 120.6,253.15 121.1,253.17 121.6,253.20 122.1,253.22 122.6,253.25 123.1,253.27 123.6,253.30 124.1,253.33 124.6,253.35 125.1,253.38 125.6,253.40 126.1,253.43 126.6,253.46 127.1,253.48 127.6,253.51 128.1,253.54 128.6,253.56 129.1,253.59 129.6,253.62 130.1,253.65 130.6,253.67 131.1,253.70 131.6,253.73 132.1,253.76 132.6,253.78 133.1,253.81 133.6,253.84 134.1,253.87 134.6,253.90 135.1,253.93 135.6,253.95 136.1,253.98 136.6,254.01 137.1,254.04 137.6,254.07 138.1,254.10 138.6,254.13 139.1,254.16 139.6,254.19 140.1,254.21 140.6,254.24 141.1,254.27 141.6,254.30 142.1,254.33 142.6,254.36 143.1,254.39 143.6,254.42 144.1,254.45 144.6,254.48 145.1,254.51 145.6,254.54 146.1,254.57 146.6,254.60 147.1,254.63 147.6,254.66 148.1,254.69 148.6,254.72 149.1,254.75 149.6,254.78 150.1,254.81 150.6,254.83 151.1,254.86 151.6,254.89 152.1,254.91 152.6,254.94 153.1,254.96 153.6,254.99 154.1,255.01 154.6,255.04 155.1,255.06 155.6,255.09 156.1,255.11 156.6,255.14 157.1,255.16 157.6,255.19 158.1,255.22 158.6,255.25 159.1,255.28 159.6,255.31 160.1,255.35 160.6,255.39 161.1,255.43 161.6,255.47 162.1,255.51 162.6,255.56 163.1,255.61 163.6,255.67 164.1,255.72 164.6,255.80 165.1,255.89 165.6,256.00 166.1,256.12 166.6,256.26 167.1,256.40 167.6,256.56 168.1,256.74 168.6,256.95 169.1,257.21 169.6,257.50 170.1,257.82 170.6,258.15 171.1,258.49 171.6,258.82 172.1,259.14 172.6,259.45 173.1,259.77 173.6,260.10 174.1,260.44 174.6,260.76 175.1,261.07 175.6,261.34 176.1,261.58 176.6,261.77 177.1,261.95 177.6,262.12 178.1,262.27 178.6,262.42 179.1,262.54 179.6,262.65 180.1,262.74 180.6,262.81 181.1,262.87 181.6,262.93 182.1,262.98 182.6,263.03 183.1,263.08 183.6,263.12 184.1,263.16 184.6,263.20 185.1,263.24 185.6,263.27 186.1,263.31 186.6,263.34 187.1,263.37 187.6,263.40 188.1,263.42 188.6,263.45 189.1,263.48 189.6,263.50 190.1,263.53 190.6,263.55 191.1,263.57 191.6,263.60 192.1,263.63 192.6,263.65 193.1,263.68 193.6,263.70 194.1,263.73 194.6,263.75 195.1,263.77 195.6,263.80 196.1,263.82 196.6,263.85 197.1,263.87 197.6,263.90 198.1,263.92 198.6,263.94 199.1,263.97 199.6,263.99 200.1,264.01 200.6,264.04 201.1,264.06 201.6,264.08 202.1,264.11 202.6,264.13 203.1,264.15 203.6,264.17 204.1,264.19 204.6,264.21 205.1,264.23 205.6,264.25 206.1,264.27 206.6,264.29 207.1,264.31 207.6,264.33 208.1,264.35 208.6,264.37 209.1,264.39 209.6,264.41 210.1,264.42 210.6,264.44 211.1,264.46 211.6,264.47 212.1,264.49 212.6,264.50 213.1,264.52 213.6,264.53 214.1,264.55 214.6,264.56 215.1,264.57 215.6,264.58 216.1,264.60 216.6,264.61 217.1,264.62 217.6,264.63 218.1,264.64 218.6,264.65 219.1,264.66 219.6,264.67 220.1,264.67 220.6,264.68 221.1,264.69 221.6,264.69 222.1,264.70 222.4,264.70" fill="none" stroke="#fb4b2f" stroke-width="2.0" stroke-linejoin="round" stroke-linecap="butt"/>
<polyline points="77.1,257.80 77.6,257.79 78.1,257.77 78.6,257.76 79.1,257.75 79.6,257.74 80.1,257.73 80.6,257.72 81.1,257.70 81.6,257.69 82.1,257.68 82.6,257.67 83.1,257.66 83.6,257.65 84.1,257.64 84.6,257.63 85.1,257.62 85.6,257.61 86.1,257.61 86.6,257.60 87.1,257.59 87.6,257.58 88.1,257.57 88.6,257.56 89.1,257.56 89.6,257.55 90.1,257.54 90.6,257.53 91.1,257.53 91.6,257.52 92.1,257.51 92.6,257.51 93.1,257.50 93.6,257.50 94.1,257.49 94.6,257.48 95.1,257.48 95.6,257.47 96.1,257.47 96.6,257.46 97.1,257.46 97.6,257.45 98.1,257.45 98.6,257.45 99.1,257.44 99.6,257.44 100.1,257.44 100.6,257.43 101.1,257.43 101.6,257.43 102.1,257.42 102.6,257.42 103.1,257.42 103.6,257.42 104.1,257.41 104.6,257.41 105.1,257.41 105.6,257.41 106.1,257.41 106.6,257.40 107.1,257.40 107.6,257.40 108.1,257.40 108.6,257.40 109.1,257.40 109.6,257.40 110.1,257.40 110.6,257.40 111.1,257.40 111.6,257.40 112.1,257.40 112.6,257.40 113.1,257.40 113.6,257.41 114.1,257.41 114.6,257.41 115.1,257.41 115.6,257.41 116.1,257.42 116.6,257.42 117.1,257.42 117.6,257.43 118.1,257.43 118.6,257.44 119.1,257.44 119.6,257.45 120.1,257.45 120.6,257.46 121.1,257.46 121.6,257.47 122.1,257.47 122.6,257.48 123.1,257.49 123.6,257.49 124.1,257.50 124.6,257.51 125.1,257.51 125.6,257.52 126.1,257.53 126.6,257.54 127.1,257.55 127.6,257.55 128.1,257.56 128.6,257.57 129.1,257.58 129.6,257.59 130.1,257.60 130.6,257.61 131.1,257.62 131.6,257.63 132.1,257.64 132.6,257.65 133.1,257.66 133.6,257.67 134.1,257.68 134.6,257.69 135.1,257.70 135.6,257.72 136.1,257.73 136.6,257.74 137.1,257.75 137.6,257.76 138.1,257.78 138.6,257.79 139.1,257.80 139.6,257.81 140.1,257.83 140.6,257.84 141.1,257.85 141.6,257.86 142.1,257.88 142.6,257.89 143.1,257.90 143.6,257.92 144.1,257.93 144.6,257.94 145.1,257.96 145.6,257.97 146.1,257.99 146.6,258.00 147.1,258.02 147.6,258.03 148.1,258.04 148.6,258.06 149.1,258.07 149.6,258.09 150.1,258.10 150.6,258.12 151.1,258.13 151.6,258.15 152.1,258.17 152.6,258.18 153.1,258.20 153.6,258.22 154.1,258.24 154.6,258.26 155.1,258.28 155.6,258.30 156.1,258.33 156.6,258.35 157.1,258.38 157.6,258.40 158.1,258.43 158.6,258.46 159.1,258.50 159.6,258.53 160.1,258.57 160.6,258.60 161.1,258.64 161.6,258.68 162.1,258.73 162.6,258.77 163.1,258.82 163.6,258.87 164.1,258.92 164.6,258.99 165.1,259.08 165.6,259.18 166.1,259.30 166.6,259.43 167.1,259.59 167.6,259.75 168.1,259.94 168.6,260.20 169.1,260.56 169.6,260.98 170.1,261.44 170.6,261.93 171.1,262.42 171.6,262.89 172.1,263.32 172.6,263.71 173.1,264.11 173.6,264.51 174.1,264.91 174.6,265.29 175.1,265.64 175.6,265.97 176.1,266.25 176.6,266.49 177.1,266.72 177.6,266.93 178.1,267.14 178.6,267.32 179.1,267.49 179.6,267.63 180.1,267.74 180.6,267.81 181.1,267.88 181.6,267.94 182.1,268.00 182.6,268.05 183.1,268.10 183.6,268.15 184.1,268.20 184.6,268.24 185.1,268.29 185.6,268.32 186.1,268.36 186.6,268.39 187.1,268.42 187.6,268.45 188.1,268.48 188.6,268.50 189.1,268.52 189.6,268.54 190.1,268.56 190.6,268.58 191.1,268.59 191.6,268.60 192.1,268.61 192.6,268.62 193.1,268.63 193.6,268.64 194.1,268.65 194.6,268.66 195.1,268.66 195.6,268.67 196.1,268.68 196.6,268.69 197.1,268.70 197.6,268.71 198.1,268.71 198.6,268.72 199.1,268.73 199.6,268.74 200.1,268.74 200.6,268.75 201.1,268.76 201.6,268.76 202.1,268.77 202.6,268.78 203.1,268.78 203.6,268.79 204.1,268.79 204.6,268.80 205.1,268.81 205.6,268.81 206.1,268.82 206.6,268.82 207.1,268.83 207.6,268.83 208.1,268.84 208.6,268.84 209.1,268.84 209.6,268.85 210.1,268.85 210.6,268.86 211.1,268.86 211.6,268.86 212.1,268.87 212.6,268.87 213.1,268.87 213.6,268.88 214.1,268.88 214.6,268.88 215.1,268.88 215.6,268.89 216.1,268.89 216.6,268.89 217.1,268.89 217.6,268.89 218.1,268.89 218.6,268.90 219.1,268.90 219.6,268.90 220.1,268.90 220.6,268.90 221.1,268.90 221.6,268.90 222.1,268.90 222.4,268.90" fill="none" stroke="#e2a934" stroke-width="2.0" stroke-linejoin="round" stroke-linecap="butt"/>
<polyline points="77.1,321.50 77.6,321.52 78.1,321.54 78.6,321.57 79.1,321.59 79.6,321.61 80.1,321.63 80.6,321.65 81.1,321.67 81.6,321.69 82.1,321.71 82.6,321.73 83.1,321.75 83.6,321.77 84.1,321.79 84.6,321.81 85.1,321.82 85.6,321.84 86.1,321.86 86.6,321.88 87.1,321.89 87.6,321.91 88.1,321.93 88.6,321.94 89.1,321.96 89.6,321.97 90.1,321.99 90.6,322.00 91.1,322.02 91.6,322.03 92.1,322.05 92.6,322.06 93.1,322.08 93.6,322.09 94.1,322.10 94.6,322.12 95.1,322.13 95.6,322.14 96.1,322.16 96.6,322.17 97.1,322.18 97.6,322.19 98.1,322.20 98.6,322.21 99.1,322.23 99.6,322.24 100.1,322.25 100.6,322.26 101.1,322.27 101.6,322.28 102.1,322.29 102.6,322.30 103.1,322.31 103.6,322.32 104.1,322.33 104.6,322.33 105.1,322.34 105.6,322.35 106.1,322.36 106.6,322.37 107.1,322.38 107.6,322.38 108.1,322.39 108.6,322.40 109.1,322.41 109.6,322.41 110.1,322.42 110.6,322.43 111.1,322.43 111.6,322.44 112.1,322.45 112.6,322.45 113.1,322.46 113.6,322.46 114.1,322.47 114.6,322.47 115.1,322.48 115.6,322.48 116.1,322.49 116.6,322.49 117.1,322.50 117.6,322.50 118.1,322.51 118.6,322.51 119.1,322.52 119.6,322.52 120.1,322.52 120.6,322.53 121.1,322.53 121.6,322.53 122.1,322.54 122.6,322.54 123.1,322.54 123.6,322.55 124.1,322.55 124.6,322.55 125.1,322.56 125.6,322.56 126.1,322.56 126.6,322.56 127.1,322.57 127.6,322.57 128.1,322.57 128.6,322.57 129.1,322.57 129.6,322.58 130.1,322.58 130.6,322.58 131.1,322.58 131.6,322.58 132.1,322.58 132.6,322.59 133.1,322.59 133.6,322.59 134.1,322.59 134.6,322.59 135.1,322.59 135.6,322.59 136.1,322.59 136.6,322.59 137.1,322.59 137.6,322.59 138.1,322.60 138.6,322.60 139.1,322.60 139.6,322.60 140.1,322.60 140.6,322.60 141.1,322.60 141.6,322.60 142.1,322.60 142.6,322.60 143.1,322.60 143.6,322.60 144.1,322.60 144.6,322.60 145.1,322.60 145.6,322.60 146.1,322.60 146.6,322.60 147.1,322.60 147.6,322.60 148.1,322.60 148.6,322.60 149.1,322.60 149.6,322.60 150.1,322.60 150.6,322.60 151.1,322.60 151.6,322.60 152.1,322.59 152.6,322.59 153.1,322.59 153.6,322.58 154.1,322.58 154.6,322.57 155.1,322.56 155.6,322.56 156.1,322.55 156.6,322.54 157.1,322.53 157.6,322.52 158.1,322.51 158.6,322.50 159.1,322.49 159.6,322.48 160.1,322.46 160.6,322.45 161.1,322.44 161.6,322.42 162.1,322.41 162.6,322.39 163.1,322.37 163.6,322.36 164.1,322.34 164.6,322.32 165.1,322.30 165.6,322.29 166.1,322.27 166.6,322.25 167.1,322.23 167.6,322.20 168.1,322.18 168.6,322.14 169.1,322.09 169.6,322.03 170.1,321.97 170.6,321.90 171.1,321.83 171.6,321.75 172.1,321.68 172.6,321.62 173.1,321.55 173.6,321.50 174.1,321.45 174.6,321.39 175.1,321.34 175.6,321.28 176.1,321.23 176.6,321.18 177.1,321.13 177.6,321.09 178.1,321.05 178.6,321.02 179.1,321.01 179.6,321.00 180.1,321.00 180.6,321.00 181.1,321.00 181.6,321.00 182.1,321.00 182.6,321.00 183.1,321.00 183.6,321.00 184.1,321.00 184.6,321.00 185.1,321.00 185.6,321.00 186.1,321.00 186.6,321.00 187.1,321.00 187.6,321.00 188.1,321.00 188.6,321.00 189.1,321.00 189.6,321.00 190.1,321.00 190.6,321.00 191.1,321.00 191.6,321.00 192.1,321.00 192.6,321.00 193.1,321.00 193.6,321.00 194.1,321.00 194.6,321.00 195.1,321.00 195.6,321.00 196.1,321.00 196.6,321.00 197.1,321.00 197.6,321.00 198.1,321.00 198.6,321.00 199.1,321.00 199.6,321.00 200.1,321.00 200.6,321.00 201.1,321.00 201.6,321.00 202.1,321.00 202.6,321.00 203.1,321.00 203.6,321.00 204.1,321.00 204.6,321.00 205.1,321.00 205.6,321.00 206.1,321.00 206.6,321.00 207.1,321.00 207.6,321.00 208.1,321.00 208.6,321.00 209.1,321.00 209.6,321.00 210.1,321.00 210.6,321.00 211.1,321.00 211.6,321.00 212.1,321.00 212.6,321.00 213.1,321.00 213.6,321.00 214.1,321.00 214.6,321.00 215.1,321.00 215.6,321.00 216.1,321.00 216.6,321.00 217.1,321.00 217.6,321.00 218.1,321.00 218.6,321.00 219.1,321.00 219.6,321.00 220.1,321.00 220.6,321.00 221.1,321.00 221.6,321.00 222.1,321.00 222.4,321.00" fill="none" stroke="#678a55" stroke-width="2.0" stroke-linejoin="round" stroke-linecap="butt"/>
<polyline points="77.1,289.20 77.6,289.18 78.1,289.16 78.6,289.14 79.1,289.12 79.6,289.09 80.1,289.07 80.6,289.05 81.1,289.03 81.6,289.01 82.1,288.99 82.6,288.96 83.1,288.94 83.6,288.92 84.1,288.89 84.6,288.87 85.1,288.85 85.6,288.82 86.1,288.80 86.6,288.78 87.1,288.75 87.6,288.73 88.1,288.70 88.6,288.68 89.1,288.65 89.6,288.63 90.1,288.60 90.6,288.58 91.1,288.55 91.6,288.53 92.1,288.50 92.6,288.48 93.1,288.45 93.6,288.42 94.1,288.40 94.6,288.37 95.1,288.34 95.6,288.32 96.1,288.29 96.6,288.26 97.1,288.24 97.6,288.21 98.1,288.18 98.6,288.15 99.1,288.12 99.6,288.10 100.1,288.07 100.6,288.04 101.1,288.01 101.6,287.98 102.1,287.95 102.6,287.92 103.1,287.90 103.6,287.87 104.1,287.84 104.6,287.81 105.1,287.78 105.6,287.75 106.1,287.72 106.6,287.69 107.1,287.66 107.6,287.63 108.1,287.60 108.6,287.57 109.1,287.54 109.6,287.51 110.1,287.47 110.6,287.44 111.1,287.41 111.6,287.38 112.1,287.35 112.6,287.32 113.1,287.29 113.6,287.25 114.1,287.22 114.6,287.19 115.1,287.16 115.6,287.13 116.1,287.09 116.6,287.06 117.1,287.03 117.6,287.00 118.1,286.96 118.6,286.93 119.1,286.90 119.6,286.86 120.1,286.83 120.6,286.80 121.1,286.76 121.6,286.73 122.1,286.70 122.6,286.66 123.1,286.63 123.6,286.60 124.1,286.56 124.6,286.53 125.1,286.49 125.6,286.46 126.1,286.43 126.6,286.39 127.1,286.36 127.6,286.32 128.1,286.29 128.6,286.25 129.1,286.22 129.6,286.18 130.1,286.15 130.6,286.11 131.1,286.08 131.6,286.04 132.1,286.01 132.6,285.97 133.1,285.94 133.6,285.90 134.1,285.86 134.6,285.83 135.1,285.79 135.6,285.76 136.1,285.72 136.6,285.69 137.1,285.65 137.6,285.61 138.1,285.58 138.6,285.54 139.1,285.50 139.6,285.47 140.1,285.43 140.6,285.40 141.1,285.36 141.6,285.32 142.1,285.29 142.6,285.25 143.1,285.21 143.6,285.18 144.1,285.14 144.6,285.10 145.1,285.06 145.6,285.03 146.1,284.99 146.6,284.95 147.1,284.92 147.6,284.88 148.1,284.84 148.6,284.80 149.1,284.77 149.6,284.73 150.1,284.69 150.6,284.66 151.1,284.62 151.6,284.59 152.1,284.55 152.6,284.52 153.1,284.48 153.6,284.45 154.1,284.42 154.6,284.39 155.1,284.35 155.6,284.32 156.1,284.28 156.6,284.25 157.1,284.21 157.6,284.17 158.1,284.13 158.6,284.09 159.1,284.05 159.6,284.00 160.1,283.95 160.6,283.90 161.1,283.85 161.6,283.79 162.1,283.74 162.6,283.68 163.1,283.61 163.6,283.54 164.1,283.47 164.6,283.38 165.1,283.28 165.6,283.17 166.1,283.04 166.6,282.89 167.1,282.73 167.6,282.55 168.1,282.36 168.6,282.10 169.1,281.77 169.6,281.39 170.1,280.97 170.6,280.54 171.1,280.12 171.6,279.72 172.1,279.36 172.6,279.05 173.1,278.73 173.6,278.41 174.1,278.10 174.6,277.81 175.1,277.54 175.6,277.31 176.1,277.10 176.6,276.94 177.1,276.79 177.6,276.65 178.1,276.52 178.6,276.40 179.1,276.30 179.6,276.21 180.1,276.14 180.6,276.09 181.1,276.05 181.6,276.02 182.1,275.98 182.6,275.95 183.1,275.92 183.6,275.90 184.1,275.87 184.6,275.85 185.1,275.83 185.6,275.81 186.1,275.79 186.6,275.77 187.1,275.76 187.6,275.74 188.1,275.72 188.6,275.71 189.1,275.69 189.6,275.68 190.1,275.66 190.6,275.64 191.1,275.62 191.6,275.60 192.1,275.58 192.6,275.56 193.1,275.54 193.6,275.52 194.1,275.49 194.6,275.47 195.1,275.45 195.6,275.43 196.1,275.41 196.6,275.39 197.1,275.37 197.6,275.35 198.1,275.33 198.6,275.31 199.1,275.29 199.6,275.27 200.1,275.25 200.6,275.23 201.1,275.21 201.6,275.19 202.1,275.17 202.6,275.15 203.1,275.13 203.6,275.10 204.1,275.08 204.6,275.06 205.1,275.05 205.6,275.03 206.1,275.01 206.6,274.99 207.1,274.97 207.6,274.95 208.1,274.93 208.6,274.91 209.1,274.89 209.6,274.87 210.1,274.85 210.6,274.83 211.1,274.81 211.6,274.79 212.1,274.77 212.6,274.75 213.1,274.74 213.6,274.72 214.1,274.70 214.6,274.68 215.1,274.66 215.6,274.64 216.1,274.62 216.6,274.61 217.1,274.59 217.6,274.57 218.1,274.55 218.6,274.53 219.1,274.52 219.6,274.50 220.1,274.48 220.6,274.46 221.1,274.45 221.6,274.43 222.1,274.41 222.4,274.40" fill="none" stroke="#8a8a8a" stroke-width="2.0" stroke-linejoin="round" stroke-linecap="butt"/>
<polyline points="77.1,319.90 77.6,319.93 78.1,319.96 78.6,319.98 79.1,320.01 79.6,320.04 80.1,320.07 80.6,320.10 81.1,320.12 81.6,320.15 82.1,320.18 82.6,320.21 83.1,320.23 83.6,320.26 84.1,320.29 84.6,320.32 85.1,320.34 85.6,320.37 86.1,320.40 86.6,320.42 87.1,320.45 87.6,320.47 88.1,320.50 88.6,320.52 89.1,320.55 89.6,320.57 90.1,320.60 90.6,320.62 91.1,320.64 91.6,320.67 92.1,320.69 92.6,320.71 93.1,320.73 93.6,320.75 94.1,320.77 94.6,320.79 95.1,320.81 95.6,320.83 96.1,320.85 96.6,320.86 97.1,320.88 97.6,320.90 98.1,320.91 98.6,320.93 99.1,320.94 99.6,320.96 100.1,320.97 100.6,320.98 101.1,320.99 101.6,321.00 102.1,321.01 102.6,321.02 103.1,321.03 103.6,321.04 104.1,321.05 104.6,321.06 105.1,321.07 105.6,321.08 106.1,321.09 106.6,321.10 107.1,321.11 107.6,321.12 108.1,321.13 108.6,321.14 109.1,321.15 109.6,321.16 110.1,321.17 110.6,321.18 111.1,321.19 111.6,321.20 112.1,321.21 112.6,321.22 113.1,321.23 113.6,321.23 114.1,321.24 114.6,321.25 115.1,321.26 115.6,321.27 116.1,321.28 116.6,321.29 117.1,321.29 117.6,321.30 118.1,321.31 118.6,321.32 119.1,321.33 119.6,321.34 120.1,321.34 120.6,321.35 121.1,321.36 121.6,321.37 122.1,321.37 122.6,321.38 123.1,321.39 123.6,321.40 124.1,321.40 124.6,321.41 125.1,321.42 125.6,321.42 126.1,321.43 126.6,321.44 127.1,321.44 127.6,321.45 128.1,321.46 128.6,321.46 129.1,321.47 129.6,321.47 130.1,321.48 130.6,321.49 131.1,321.49 131.6,321.50 132.1,321.50 132.6,321.51 133.1,321.51 133.6,321.52 134.1,321.52 134.6,321.53 135.1,321.53 135.6,321.53 136.1,321.54 136.6,321.54 137.1,321.55 137.6,321.55 138.1,321.56 138.6,321.56 139.1,321.56 139.6,321.57 140.1,321.57 140.6,321.57 141.1,321.57 141.6,321.58 142.1,321.58 142.6,321.58 143.1,321.58 143.6,321.59 144.1,321.59 144.6,321.59 145.1,321.59 145.6,321.59 146.1,321.59 146.6,321.60 147.1,321.60 147.6,321.60 148.1,321.60 148.6,321.60 149.1,321.60 149.6,321.60 150.1,321.60 150.6,321.60 151.1,321.60 151.6,321.60 152.1,321.60 152.6,321.59 153.1,321.59 153.6,321.59 154.1,321.59 154.6,321.58 155.1,321.58 155.6,321.57 156.1,321.57 156.6,321.56 157.1,321.55 157.6,321.55 158.1,321.54 158.6,321.53 159.1,321.52 159.6,321.52 160.1,321.51 160.6,321.50 161.1,321.49 161.6,321.48 162.1,321.46 162.6,321.45 163.1,321.44 163.6,321.43 164.1,321.41 164.6,321.40 165.1,321.39 165.6,321.37 166.1,321.35 166.6,321.34 167.1,321.32 167.6,321.30 168.1,321.28 168.6,321.23 169.1,321.16 169.6,321.08 170.1,320.98 170.6,320.88 171.1,320.77 171.6,320.66 172.1,320.56 172.6,320.46 173.1,320.37 173.6,320.30 174.1,320.24 174.6,320.17 175.1,320.10 175.6,320.03 176.1,319.97 176.6,319.91 177.1,319.85 177.6,319.80 178.1,319.76 178.6,319.73 179.1,319.71 179.6,319.70 180.1,319.70 180.6,319.70 181.1,319.70 181.6,319.70 182.1,319.70 182.6,319.70 183.1,319.70 183.6,319.70 184.1,319.70 184.6,319.70 185.1,319.70 185.6,319.70 186.1,319.70 186.6,319.70 187.1,319.70 187.6,319.70 188.1,319.70 188.6,319.70 189.1,319.70 189.6,319.70 190.1,319.70 190.6,319.70 191.1,319.70 191.6,319.70 192.1,319.70 192.6,319.71 193.1,319.71 193.6,319.71 194.1,319.71 194.6,319.71 195.1,319.71 195.6,319.71 196.1,319.71 196.6,319.71 197.1,319.71 197.6,319.71 198.1,319.72 198.6,319.72 199.1,319.72 199.6,319.72 200.1,319.72 200.6,319.72 201.1,319.73 201.6,319.73 202.1,319.73 202.6,319.73 203.1,319.73 203.6,319.74 204.1,319.74 204.6,319.74 205.1,319.74 205.6,319.74 206.1,319.75 206.6,319.75 207.1,319.75 207.6,319.76 208.1,319.76 208.6,319.76 209.1,319.77 209.6,319.77 210.1,319.77 210.6,319.78 211.1,319.78 211.6,319.78 212.1,319.79 212.6,319.79 213.1,319.80 213.6,319.80 214.1,319.80 214.6,319.81 215.1,319.81 215.6,319.82 216.1,319.82 216.6,319.83 217.1,319.83 217.6,319.84 218.1,319.85 218.6,319.85 219.1,319.86 219.6,319.86 220.1,319.87 220.6,319.88 221.1,319.88 221.6,319.89 222.1,319.90 222.4,319.90" fill="none" stroke="#84167e" stroke-width="2.0" stroke-linejoin="round" stroke-linecap="butt"/>
<polyline points="301.5,25.70 302.0,25.69 302.5,25.68 303.0,25.66 303.5,25.65 304.0,25.64 304.5,25.63 305.0,25.62 305.5,25.60 306.0,25.59 306.5,25.58 307.0,25.57 307.5,25.55 308.0,25.54 308.5,25.53 309.0,25.51 309.5,25.50 310.0,25.49 310.5,25.47 311.0,25.46 311.5,25.45 312.0,25.43 312.5,25.42 313.0,25.40 313.5,25.39 314.0,25.38 314.5,25.36 315.0,25.35 315.5,25.33 316.0,25.32 316.5,25.30 317.0,25.29 317.5,25.27 318.0,25.26 318.5,25.24 319.0,25.23 319.5,25.22 320.0,25.20 320.5,25.19 321.0,25.17 321.5,25.16 322.0,25.14 322.5,25.13 323.0,25.11 323.5,25.10 324.0,25.09 324.5,25.07 325.0,25.06 325.5,25.04 326.0,25.03 326.5,25.01 327.0,25.00 327.5,24.98 328.0,24.97 328.5,24.95 329.0,24.94 329.5,24.92 330.0,24.90 330.5,24.88 331.0,24.87 331.5,24.85 332.0,24.83 332.5,24.81 333.0,24.78 333.5,24.76 334.0,24.74 334.5,24.71 335.0,24.69 335.5,24.66 336.0,24.63 336.5,24.59 337.0,24.55 337.5,24.51 338.0,24.47 338.5,24.42 339.0,24.37 339.5,24.32 340.0,24.27 340.5,24.22 341.0,24.17 341.5,24.12 342.0,24.07 342.5,24.02 343.0,23.97 343.5,23.93 344.0,23.88 344.5,23.84 345.0,23.80 345.5,23.76 346.0,23.73 346.5,23.69 347.0,23.66 347.5,23.62 348.0,23.59 348.5,23.55 349.0,23.52 349.5,23.49 350.0,23.45 350.5,23.42 351.0,23.39 351.5,23.35 352.0,23.31 352.5,23.28 353.0,23.24 353.5,23.20 354.0,23.17 354.5,23.13 355.0,23.09 355.5,23.05 356.0,23.01 356.5,22.97 357.0,22.94 357.5,22.90 358.0,22.87 358.5,22.83 359.0,22.80 359.5,22.76 360.0,22.73 360.5,22.70 361.0,22.67 361.5,22.65 362.0,22.62 362.5,22.60 363.0,22.58 363.5,22.56 364.0,22.54 364.5,22.52 365.0,22.50 365.5,22.48 366.0,22.46 366.5,22.44 367.0,22.43 367.5,22.41 368.0,22.39 368.5,22.38 369.0,22.36 369.5,22.35 370.0,22.33 370.5,22.32 371.0,22.30 371.5,22.29 372.0,22.28 372.5,22.26 373.0,22.25 373.5,22.24 374.0,22.22 374.5,22.21 375.0,22.20 375.5,22.19 376.0,22.18 376.5,22.16 377.0,22.15 377.5,22.14 378.0,22.13 378.5,22.12 379.0,22.11 379.5,22.10 380.0,22.09 380.5,22.08 381.0,22.07 381.5,22.06 382.0,22.05 382.5,22.04 383.0,22.03 383.5,22.02 384.0,22.01 384.5,22.01 385.0,22.00 385.5,21.99 386.0,21.99 386.5,21.98 387.0,21.97 387.5,21.96 388.0,21.96 388.5,21.95 389.0,21.94 389.5,21.94 390.0,21.93 390.5,21.92 391.0,21.91 391.5,21.91 392.0,21.90 392.5,21.89 393.0,21.89 393.5,21.88 394.0,21.87 394.5,21.87 395.0,21.86 395.5,21.85 396.0,21.85 396.5,21.84 397.0,21.83 397.5,21.82 398.0,21.82 398.5,21.81 399.0,21.80 399.5,21.80 400.0,21.79 400.5,21.78 401.0,21.78 401.5,21.77 402.0,21.76 402.5,21.76 403.0,21.75 403.5,21.75 404.0,21.74 404.5,21.73 405.0,21.73 405.5,21.72 406.0,21.71 406.5,21.71 407.0,21.70 407.5,21.69 408.0,21.69 408.5,21.68 409.0,21.68 409.5,21.67 410.0,21.66 410.5,21.66 411.0,21.65 411.5,21.65 412.0,21.64 412.5,21.63 413.0,21.63 413.5,21.62 414.0,21.62 414.5,21.61 415.0,21.61 415.5,21.60 416.0,21.60 416.5,21.59 417.0,21.59 417.5,21.58 418.0,21.57 418.5,21.57 419.0,21.56 419.5,21.56 420.0,21.55 420.5,21.55 421.0,21.54 421.5,21.54 422.0,21.54 422.5,21.53 423.0,21.53 423.5,21.52 424.0,21.52 424.5,21.51 425.0,21.51 425.5,21.50 426.0,21.50 426.5,21.50 427.0,21.49 427.5,21.49 428.0,21.48 428.5,21.48 429.0,21.48 429.5,21.47 430.0,21.47 430.5,21.47 431.0,21.46 431.5,21.46 432.0,21.46 432.5,21.45 433.0,21.45 433.5,21.45 434.0,21.44 434.5,21.44 435.0,21.44 435.5,21.44 436.0,21.43 436.5,21.43 437.0,21.43 437.5,21.43 438.0,21.42 438.5,21.42 439.0,21.42 439.5,21.42 440.0,21.42 440.5,21.41 441.0,21.41 441.5,21.41 442.0,21.41 442.5,21.41 443.0,21.41 443.5,21.41 444.0,21.40 444.5,21.40 445.0,21.40 445.5,21.40 446.0,21.40 446.5,21.40 447.0,21.40" fill="none" stroke="#c4c4c4" stroke-width="1.0" stroke-linejoin="round" stroke-linecap="butt"/>
<polyline points="301.5,20.70 302.0,20.70 302.5,20.70 303.0,20.70 303.5,20.70 304.0,20.70 304.5,20.70 305.0,20.70 305.5,20.70 306.0,20.70 306.5,20.70 307.0,20.71 307.5,20.71 308.0,20.71 308.5,20.71 309.0,20.71 309.5,20.71 310.0,20.71 310.5,20.72 311.0,20.72 311.5,20.72 312.0,20.72 312.5,20.73 313.0,20.73 313.5,20.73 314.0,20.73 314.5,20.74 315.0,20.74 315.5,20.74 316.0,20.75 316.5,20.75 317.0,20.75 317.5,20.76 318.0,20.76 318.5,20.77 319.0,20.77 319.5,20.77 320.0,20.78 320.5,20.78 321.0,20.79 321.5,20.79 322.0,20.80 322.5,20.81 323.0,20.81 323.5,20.82 324.0,20.82 324.5,20.83 325.0,20.84 325.5,20.84 326.0,20.85 326.5,20.86 327.0,20.86 327.5,20.87 328.0,20.88 328.5,20.89 329.0,20.89 329.5,20.90 330.0,20.91 330.5,20.92 331.0,20.93 331.5,20.94 332.0,20.94 332.5,20.95 333.0,20.96 333.5,20.97 334.0,20.98 334.5,20.99 335.0,21.01 335.5,21.03 336.0,21.06 336.5,21.10 337.0,21.16 337.5,21.22 338.0,21.29 338.5,21.36 339.0,21.45 339.5,21.53 340.0,21.62 340.5,21.70 341.0,21.79 341.5,21.88 342.0,21.97 342.5,22.08 343.0,22.19 343.5,22.31 344.0,22.44 344.5,22.57 345.0,22.70 345.5,22.83 346.0,22.97 346.5,23.11 347.0,23.25 347.5,23.40 348.0,23.55 348.5,23.71 349.0,23.87 349.5,24.03 350.0,24.20 350.5,24.39 351.0,24.59 351.5,24.80 352.0,25.01 352.5,25.23 353.0,25.45 353.5,25.67 354.0,25.88 354.5,26.09 355.0,26.28 355.5,26.46 356.0,26.61 356.5,26.75 357.0,26.87 357.5,26.98 358.0,27.09 358.5,27.19 359.0,27.29 359.5,27.38 360.0,27.47 360.5,27.56 361.0,27.64 361.5,27.72 362.0,27.79 362.5,27.86 363.0,27.93 363.5,27.99 364.0,28.05 364.5,28.11 365.0,28.16 365.5,28.21 366.0,28.25 366.5,28.30 367.0,28.34 367.5,28.37 368.0,28.41 368.5,28.44 369.0,28.47 369.5,28.50 370.0,28.53 370.5,28.56 371.0,28.59 371.5,28.62 372.0,28.65 372.5,28.68 373.0,28.71 373.5,28.75 374.0,28.78 374.5,28.82 375.0,28.87 375.5,28.92 376.0,28.97 376.5,29.03 377.0,29.09 377.5,29.15 378.0,29.21 378.5,29.27 379.0,29.33 379.5,29.39 380.0,29.45 380.5,29.51 381.0,29.56 381.5,29.61 382.0,29.66 382.5,29.70 383.0,29.73 383.5,29.76 384.0,29.78 384.5,29.80 385.0,29.80 385.5,29.80 386.0,29.80 386.5,29.80 387.0,29.80 387.5,29.80 388.0,29.80 388.5,29.80 389.0,29.80 389.5,29.80 390.0,29.80 390.5,29.80 391.0,29.80 391.5,29.80 392.0,29.80 392.5,29.80 393.0,29.80 393.5,29.80 394.0,29.80 394.5,29.80 395.0,29.80 395.5,29.80 396.0,29.80 396.5,29.80 397.0,29.80 397.5,29.80 398.0,29.80 398.5,29.80 399.0,29.80 399.5,29.80 400.0,29.80 400.5,29.80 401.0,29.79 401.5,29.79 402.0,29.78 402.5,29.77 403.0,29.76 403.5,29.74 404.0,29.72 404.5,29.70 405.0,29.68 405.5,29.66 406.0,29.64 406.5,29.61 407.0,29.59 407.5,29.56 408.0,29.53 408.5,29.50 409.0,29.47 409.5,29.44 410.0,29.41 410.5,29.37 411.0,29.34 411.5,29.31 412.0,29.28 412.5,29.24 413.0,29.21 413.5,29.18 414.0,29.14 414.5,29.11 415.0,29.08 415.5,29.04 416.0,29.01 416.5,28.98 417.0,28.95 417.5,28.93 418.0,28.90 418.5,28.87 419.0,28.85 419.5,28.82 420.0,28.80 420.5,28.78 421.0,28.76 421.5,28.74 422.0,28.71 422.5,28.69 423.0,28.67 423.5,28.65 424.0,28.63 424.5,28.61 425.0,28.59 425.5,28.57 426.0,28.55 426.5,28.53 427.0,28.51 427.5,28.49 428.0,28.47 428.5,28.45 429.0,28.43 429.5,28.41 430.0,28.39 430.5,28.37 431.0,28.35 431.5,28.33 432.0,28.31 432.5,28.29 433.0,28.27 433.5,28.26 434.0,28.24 434.5,28.22 435.0,28.20 435.5,28.18 436.0,28.16 436.5,28.15 437.0,28.13 437.5,28.11 438.0,28.09 438.5,28.07 439.0,28.06 439.5,28.04 440.0,28.02 440.5,28.01 441.0,27.99 441.5,27.97 442.0,27.96 442.5,27.94 443.0,27.92 443.5,27.91 444.0,27.89 444.5,27.88 445.0,27.86 445.5,27.85 446.0,27.83 446.5,27.81 447.0,27.80" fill="none" stroke="#f88f7c" stroke-width="2.0" stroke-linejoin="round" stroke-linecap="butt" stroke-dasharray="6.2 2.55"/>
<polyline points="301.5,84.30 302.0,84.24 302.5,84.18 303.0,84.11 303.5,84.04 304.0,83.97 304.5,83.90 305.0,83.82 305.5,83.75 306.0,83.67 306.5,83.59 307.0,83.50 307.5,83.42 308.0,83.33 308.5,83.24 309.0,83.15 309.5,83.06 310.0,82.97 310.5,82.87 311.0,82.78 311.5,82.68 312.0,82.58 312.5,82.48 313.0,82.37 313.5,82.27 314.0,82.15 314.5,82.04 315.0,81.92 315.5,81.80 316.0,81.68 316.5,81.55 317.0,81.43 317.5,81.30 318.0,81.16 318.5,81.03 319.0,80.90 319.5,80.76 320.0,80.62 320.5,80.48 321.0,80.34 321.5,80.20 322.0,80.06 322.5,79.92 323.0,79.77 323.5,79.62 324.0,79.48 324.5,79.32 325.0,79.17 325.5,79.01 326.0,78.85 326.5,78.69 327.0,78.52 327.5,78.35 328.0,78.17 328.5,77.99 329.0,77.81 329.5,77.62 330.0,77.42 330.5,77.22 331.0,77.02 331.5,76.81 332.0,76.60 332.5,76.39 333.0,76.16 333.5,75.93 334.0,75.70 334.5,75.46 335.0,75.21 335.5,74.95 336.0,74.69 336.5,74.41 337.0,74.13 337.5,73.84 338.0,73.54 338.5,73.23 339.0,72.90 339.5,72.54 340.0,72.16 340.5,71.75 341.0,71.31 341.5,70.86 342.0,70.38 342.5,69.90 343.0,69.41 343.5,68.91 344.0,68.40 344.5,67.90 345.0,67.40 345.5,66.91 346.0,66.43 346.5,65.96 347.0,65.51 347.5,65.08 348.0,64.67 348.5,64.25 349.0,63.84 349.5,63.42 350.0,63.00 350.5,62.59 351.0,62.18 351.5,61.77 352.0,61.37 352.5,60.98 353.0,60.60 353.5,60.23 354.0,59.86 354.5,59.51 355.0,59.17 355.5,58.85 356.0,58.55 356.5,58.26 357.0,57.98 357.5,57.71 358.0,57.45 358.5,57.20 359.0,56.95 359.5,56.71 360.0,56.47 360.5,56.24 361.0,56.02 361.5,55.81 362.0,55.60 362.5,55.39 363.0,55.20 363.5,55.01 364.0,54.82 364.5,54.64 365.0,54.47 365.5,54.30 366.0,54.14 366.5,53.98 367.0,53.83 367.5,53.68 368.0,53.54 368.5,53.41 369.0,53.27 369.5,53.14 370.0,53.01 370.5,52.89 371.0,52.76 371.5,52.64 372.0,52.52 372.5,52.40 373.0,52.28 373.5,52.16 374.0,52.04 374.5,51.92 375.0,51.80 375.5,51.68 376.0,51.56 376.5,51.43 377.0,51.31 377.5,51.19 378.0,51.07 378.5,50.95 379.0,50.83 379.5,50.71 380.0,50.59 380.5,50.47 381.0,50.35 381.5,50.23 382.0,50.11 382.5,49.99 383.0,49.87 383.5,49.76 384.0,49.64 384.5,49.52 385.0,49.41 385.5,49.29 386.0,49.18 386.5,49.07 387.0,48.96 387.5,48.84 388.0,48.73 388.5,48.62 389.0,48.51 389.5,48.41 390.0,48.30 390.5,48.19 391.0,48.09 391.5,47.98 392.0,47.88 392.5,47.77 393.0,47.67 393.5,47.57 394.0,47.47 394.5,47.37 395.0,47.28 395.5,47.18 396.0,47.09 396.5,46.99 397.0,46.89 397.5,46.80 398.0,46.71 398.5,46.61 399.0,46.52 399.5,46.42 400.0,46.33 400.5,46.24 401.0,46.15 401.5,46.06 402.0,45.97 402.5,45.88 403.0,45.79 403.5,45.70 404.0,45.61 404.5,45.52 405.0,45.44 405.5,45.35 406.0,45.27 406.5,45.18 407.0,45.10 407.5,45.02 408.0,44.94 408.5,44.85 409.0,44.77 409.5,44.70 410.0,44.62 410.5,44.54 411.0,44.47 411.5,44.39 412.0,44.32 412.5,44.25 413.0,44.18 413.5,44.11 414.0,44.04 414.5,43.97 415.0,43.90 415.5,43.84 416.0,43.77 416.5,43.71 417.0,43.65 417.5,43.59 418.0,43.52 418.5,43.46 419.0,43.40 419.5,43.34 420.0,43.28 420.5,43.22 421.0,43.16 421.5,43.09 422.0,43.03 422.5,42.98 423.0,42.92 423.5,42.86 424.0,42.80 424.5,42.74 425.0,42.68 425.5,42.63 426.0,42.57 426.5,42.51 427.0,42.46 427.5,42.40 428.0,42.35 428.5,42.29 429.0,42.24 429.5,42.18 430.0,42.13 430.5,42.08 431.0,42.03 431.5,41.97 432.0,41.92 432.5,41.87 433.0,41.82 433.5,41.77 434.0,41.73 434.5,41.68 435.0,41.63 435.5,41.58 436.0,41.54 436.5,41.49 437.0,41.45 437.5,41.40 438.0,41.36 438.5,41.32 439.0,41.27 439.5,41.23 440.0,41.19 440.5,41.15 441.0,41.11 441.5,41.07 442.0,41.03 442.5,41.00 443.0,40.96 443.5,40.93 444.0,40.89 444.5,40.86 445.0,40.82 445.5,40.79 446.0,40.76 446.5,40.73 447.0,40.70" fill="none" stroke="#0a8ad6" stroke-width="2.0" stroke-linejoin="round" stroke-linecap="butt"/>
<polyline points="301.5,43.70 302.0,43.65 302.5,43.61 303.0,43.56 303.5,43.52 304.0,43.47 304.5,43.43 305.0,43.38 305.5,43.34 306.0,43.29 306.5,43.25 307.0,43.20 307.5,43.16 308.0,43.11 308.5,43.07 309.0,43.03 309.5,42.98 310.0,42.94 310.5,42.90 311.0,42.85 311.5,42.81 312.0,42.77 312.5,42.72 313.0,42.68 313.5,42.64 314.0,42.60 314.5,42.56 315.0,42.51 315.5,42.47 316.0,42.43 316.5,42.39 317.0,42.35 317.5,42.30 318.0,42.26 318.5,42.22 319.0,42.18 319.5,42.14 320.0,42.10 320.5,42.06 321.0,42.02 321.5,41.98 322.0,41.94 322.5,41.90 323.0,41.87 323.5,41.83 324.0,41.79 324.5,41.75 325.0,41.70 325.5,41.65 326.0,41.59 326.5,41.53 327.0,41.46 327.5,41.39 328.0,41.32 328.5,41.24 329.0,41.16 329.5,41.08 330.0,40.99 330.5,40.91 331.0,40.82 331.5,40.74 332.0,40.65 332.5,40.56 333.0,40.46 333.5,40.37 334.0,40.27 334.5,40.16 335.0,40.06 335.5,39.95 336.0,39.84 336.5,39.73 337.0,39.61 337.5,39.49 338.0,39.37 338.5,39.25 339.0,39.12 339.5,38.99 340.0,38.85 340.5,38.71 341.0,38.57 341.5,38.42 342.0,38.27 342.5,38.11 343.0,37.96 343.5,37.80 344.0,37.63 344.5,37.47 345.0,37.30 345.5,37.13 346.0,36.94 346.5,36.74 347.0,36.54 347.5,36.34 348.0,36.13 348.5,35.92 349.0,35.71 349.5,35.50 350.0,35.30 350.5,35.11 351.0,34.93 351.5,34.76 352.0,34.61 352.5,34.45 353.0,34.29 353.5,34.14 354.0,33.98 354.5,33.84 355.0,33.71 355.5,33.58 356.0,33.47 356.5,33.38 357.0,33.30 357.5,33.23 358.0,33.17 358.5,33.12 359.0,33.07 359.5,33.02 360.0,32.98 360.5,32.94 361.0,32.90 361.5,32.86 362.0,32.82 362.5,32.79 363.0,32.75 363.5,32.72 364.0,32.68 364.5,32.64 365.0,32.60 365.5,32.56 366.0,32.52 366.5,32.48 367.0,32.44 367.5,32.40 368.0,32.36 368.5,32.32 369.0,32.28 369.5,32.24 370.0,32.20 370.5,32.16 371.0,32.12 371.5,32.08 372.0,32.04 372.5,32.00 373.0,31.96 373.5,31.92 374.0,31.88 374.5,31.84 375.0,31.80 375.5,31.76 376.0,31.71 376.5,31.67 377.0,31.62 377.5,31.57 378.0,31.52 378.5,31.47 379.0,31.42 379.5,31.37 380.0,31.32 380.5,31.27 381.0,31.23 381.5,31.18 382.0,31.13 382.5,31.09 383.0,31.05 383.5,31.01 384.0,30.97 384.5,30.93 385.0,30.90 385.5,30.87 386.0,30.84 386.5,30.81 387.0,30.79 387.5,30.76 388.0,30.73 388.5,30.71 389.0,30.69 389.5,30.67 390.0,30.64 390.5,30.62 391.0,30.60 391.5,30.58 392.0,30.56 392.5,30.53 393.0,30.51 393.5,30.49 394.0,30.47 394.5,30.44 395.0,30.42 395.5,30.39 396.0,30.37 396.5,30.34 397.0,30.32 397.5,30.29 398.0,30.26 398.5,30.24 399.0,30.21 399.5,30.18 400.0,30.15 400.5,30.12 401.0,30.09 401.5,30.06 402.0,30.04 402.5,30.01 403.0,29.98 403.5,29.95 404.0,29.92 404.5,29.89 405.0,29.86 405.5,29.83 406.0,29.80 406.5,29.77 407.0,29.74 407.5,29.72 408.0,29.69 408.5,29.66 409.0,29.63 409.5,29.61 410.0,29.58 410.5,29.55 411.0,29.53 411.5,29.50 412.0,29.47 412.5,29.45 413.0,29.43 413.5,29.40 414.0,29.38 414.5,29.36 415.0,29.33 415.5,29.31 416.0,29.29 416.5,29.27 417.0,29.25 417.5,29.23 418.0,29.21 418.5,29.19 419.0,29.17 419.5,29.15 420.0,29.13 420.5,29.11 421.0,29.09 421.5,29.07 422.0,29.05 422.5,29.03 423.0,29.01 423.5,29.00 424.0,28.98 424.5,28.96 425.0,28.94 425.5,28.92 426.0,28.90 426.5,28.88 427.0,28.87 427.5,28.85 428.0,28.83 428.5,28.81 429.0,28.80 429.5,28.78 430.0,28.76 430.5,28.74 431.0,28.73 431.5,28.71 432.0,28.69 432.5,28.68 433.0,28.66 433.5,28.65 434.0,28.63 434.5,28.61 435.0,28.60 435.5,28.58 436.0,28.57 436.5,28.55 437.0,28.54 437.5,28.53 438.0,28.51 438.5,28.50 439.0,28.48 439.5,28.47 440.0,28.46 440.5,28.44 441.0,28.43 441.5,28.42 442.0,28.41 442.5,28.40 443.0,28.38 443.5,28.37 444.0,28.36 444.5,28.35 445.0,28.34 445.5,28.33 446.0,28.32 446.5,28.31 447.0,28.30" fill="none" stroke="#fb4b2f" stroke-width="2.0" stroke-linejoin="round" stroke-linecap="butt"/>
<polyline points="301.5,50.20 302.0,50.19 302.5,50.18 303.0,50.17 303.5,50.15 304.0,50.13 304.5,50.11 305.0,50.09 305.5,50.06 306.0,50.03 306.5,50.00 307.0,49.97 307.5,49.93 308.0,49.89 308.5,49.85 309.0,49.81 309.5,49.77 310.0,49.72 310.5,49.68 311.0,49.63 311.5,49.58 312.0,49.53 312.5,49.47 313.0,49.42 313.5,49.36 314.0,49.31 314.5,49.25 315.0,49.19 315.5,49.13 316.0,49.07 316.5,49.01 317.0,48.94 317.5,48.88 318.0,48.82 318.5,48.75 319.0,48.69 319.5,48.62 320.0,48.56 320.5,48.49 321.0,48.43 321.5,48.36 322.0,48.28 322.5,48.19 323.0,48.10 323.5,48.00 324.0,47.90 324.5,47.80 325.0,47.70 325.5,47.60 326.0,47.50 326.5,47.39 327.0,47.29 327.5,47.18 328.0,47.07 328.5,46.96 329.0,46.85 329.5,46.73 330.0,46.61 330.5,46.50 331.0,46.37 331.5,46.25 332.0,46.12 332.5,46.00 333.0,45.87 333.5,45.74 334.0,45.61 334.5,45.48 335.0,45.34 335.5,45.20 336.0,45.05 336.5,44.90 337.0,44.74 337.5,44.58 338.0,44.41 338.5,44.23 339.0,44.03 339.5,43.83 340.0,43.61 340.5,43.39 341.0,43.15 341.5,42.90 342.0,42.65 342.5,42.38 343.0,42.10 343.5,41.82 344.0,41.52 344.5,41.18 345.0,40.81 345.5,40.43 346.0,40.03 346.5,39.63 347.0,39.23 347.5,38.85 348.0,38.50 348.5,38.17 349.0,37.86 349.5,37.56 350.0,37.26 350.5,36.98 351.0,36.70 351.5,36.43 352.0,36.18 352.5,35.93 353.0,35.70 353.5,35.48 354.0,35.27 354.5,35.06 355.0,34.87 355.5,34.68 356.0,34.50 356.5,34.32 357.0,34.14 357.5,33.97 358.0,33.80 358.5,33.63 359.0,33.47 359.5,33.30 360.0,33.14 360.5,32.98 361.0,32.83 361.5,32.67 362.0,32.52 362.5,32.38 363.0,32.23 363.5,32.09 364.0,31.96 364.5,31.83 365.0,31.70 365.5,31.58 366.0,31.45 366.5,31.33 367.0,31.22 367.5,31.10 368.0,30.99 368.5,30.87 369.0,30.76 369.5,30.65 370.0,30.55 370.5,30.44 371.0,30.34 371.5,30.24 372.0,30.14 372.5,30.05 373.0,29.95 373.5,29.86 374.0,29.77 374.5,29.69 375.0,29.60 375.5,29.52 376.0,29.43 376.5,29.35 377.0,29.27 377.5,29.20 378.0,29.12 378.5,29.04 379.0,28.97 379.5,28.90 380.0,28.82 380.5,28.75 381.0,28.69 381.5,28.62 382.0,28.55 382.5,28.49 383.0,28.43 383.5,28.37 384.0,28.31 384.5,28.25 385.0,28.20 385.5,28.15 386.0,28.10 386.5,28.05 387.0,28.00 387.5,27.95 388.0,27.91 388.5,27.86 389.0,27.82 389.5,27.77 390.0,27.73 390.5,27.69 391.0,27.65 391.5,27.61 392.0,27.57 392.5,27.53 393.0,27.49 393.5,27.45 394.0,27.41 394.5,27.37 395.0,27.33 395.5,27.29 396.0,27.25 396.5,27.21 397.0,27.17 397.5,27.13 398.0,27.09 398.5,27.05 399.0,27.01 399.5,26.97 400.0,26.93 400.5,26.88 401.0,26.84 401.5,26.80 402.0,26.76 402.5,26.72 403.0,26.68 403.5,26.64 404.0,26.60 404.5,26.56 405.0,26.52 405.5,26.48 406.0,26.45 406.5,26.41 407.0,26.37 407.5,26.33 408.0,26.30 408.5,26.26 409.0,26.22 409.5,26.19 410.0,26.15 410.5,26.12 411.0,26.09 411.5,26.05 412.0,26.02 412.5,25.99 413.0,25.96 413.5,25.93 414.0,25.90 414.5,25.87 415.0,25.84 415.5,25.82 416.0,25.79 416.5,25.76 417.0,25.74 417.5,25.71 418.0,25.69 418.5,25.66 419.0,25.64 419.5,25.61 420.0,25.59 420.5,25.56 421.0,25.54 421.5,25.51 422.0,25.49 422.5,25.46 423.0,25.44 423.5,25.42 424.0,25.39 424.5,25.37 425.0,25.35 425.5,25.32 426.0,25.30 426.5,25.28 427.0,25.25 427.5,25.23 428.0,25.21 428.5,25.19 429.0,25.17 429.5,25.14 430.0,25.12 430.5,25.10 431.0,25.08 431.5,25.06 432.0,25.04 432.5,25.02 433.0,25.00 433.5,24.98 434.0,24.96 434.5,24.95 435.0,24.93 435.5,24.91 436.0,24.89 436.5,24.87 437.0,24.86 437.5,24.84 438.0,24.83 438.5,24.81 439.0,24.79 439.5,24.78 440.0,24.76 440.5,24.75 441.0,24.74 441.5,24.72 442.0,24.71 442.5,24.70 443.0,24.68 443.5,24.67 444.0,24.66 444.5,24.65 445.0,24.64 445.5,24.63 446.0,24.62 446.5,24.61 447.0,24.60" fill="none" stroke="#678a55" stroke-width="2.0" stroke-linejoin="round" stroke-linecap="butt"/>
<polyline points="301.6,125.10 302.1,125.11 302.6,125.11 303.1,125.13 303.6,125.15 304.1,125.17 304.6,125.19 305.1,125.22 305.6,125.25 306.1,125.28 306.6,125.32 307.1,125.36 307.6,125.40 308.1,125.45 308.6,125.50 309.1,125.54 309.6,125.60 310.1,125.65 310.6,125.70 311.1,125.76 311.6,125.82 312.1,125.87 312.6,125.93 313.1,125.99 313.6,126.05 314.1,126.11 314.6,126.18 315.1,126.24 315.6,126.31 316.1,126.38 316.6,126.46 317.1,126.55 317.6,126.65 318.1,126.74 318.6,126.85 319.1,126.95 319.6,127.07 320.1,127.18 320.6,127.30 321.1,127.42 321.6,127.55 322.1,127.67 322.6,127.80 323.1,127.93 323.6,128.06 324.1,128.19 324.6,128.33 325.1,128.46 325.6,128.61 326.1,128.76 326.6,128.91 327.1,129.07 327.6,129.24 328.1,129.41 328.6,129.58 329.1,129.75 329.6,129.93 330.1,130.11 330.6,130.29 331.1,130.47 331.6,130.66 332.1,130.84 332.6,131.03 333.1,131.21 333.6,131.41 334.1,131.61 334.6,131.82 335.1,132.04 335.6,132.26 336.1,132.48 336.6,132.69 337.1,132.91 337.6,133.11 338.1,133.31 338.6,133.50 339.1,133.68 339.6,133.84 340.1,133.99 340.6,134.13 341.1,134.27 341.6,134.41 342.1,134.55 342.6,134.67 343.1,134.80 343.6,134.92 344.1,135.03 344.6,135.14 345.1,135.24 345.6,135.33 346.1,135.41 346.6,135.49 347.1,135.55 347.6,135.62 348.1,135.68 348.6,135.74 349.1,135.80 349.6,135.86 350.1,135.91 350.6,135.97 351.1,136.02 351.6,136.07 352.1,136.11 352.6,136.15 353.1,136.20 353.6,136.23 354.1,136.27 354.6,136.30 355.1,136.33 355.6,136.36 356.1,136.39 356.6,136.41 357.1,136.43 357.6,136.45 358.1,136.47 358.6,136.49 359.1,136.51 359.6,136.53 360.1,136.55 360.6,136.57 361.1,136.59 361.6,136.61 362.1,136.62 362.6,136.64 363.1,136.66 363.6,136.67 364.1,136.69 364.6,136.70 365.1,136.72 365.6,136.73 366.1,136.74 366.6,136.76 367.1,136.77 367.6,136.78 368.1,136.79 368.6,136.80 369.1,136.81 369.6,136.82 370.1,136.83 370.6,136.84 371.1,136.85 371.6,136.86 372.1,136.87 372.6,136.87 373.1,136.88 373.6,136.89 374.1,136.89 374.6,136.90 375.1,136.90 375.6,136.91 376.1,136.91 376.6,136.91 377.1,136.92 377.6,136.92 378.1,136.93 378.6,136.93 379.1,136.93 379.6,136.94 380.1,136.94 380.6,136.95 381.1,136.95 381.6,136.95 382.1,136.96 382.6,136.96 383.1,136.96 383.6,136.97 384.1,136.97 384.6,136.98 385.1,136.98 385.6,136.98 386.1,136.99 386.6,136.99 387.1,136.99 387.6,137.00 388.1,137.00 388.6,137.00 389.1,137.01 389.6,137.01 390.1,137.01 390.6,137.02 391.1,137.02 391.6,137.02 392.1,137.03 392.6,137.03 393.1,137.03 393.6,137.04 394.1,137.04 394.6,137.04 395.1,137.05 395.6,137.05 396.1,137.05 396.6,137.05 397.1,137.06 397.6,137.06 398.1,137.06 398.6,137.07 399.1,137.07 399.6,137.07 400.1,137.07 400.6,137.08 401.1,137.08 401.6,137.08 402.1,137.08 402.6,137.09 403.1,137.09 403.6,137.09 404.1,137.09 404.6,137.10 405.1,137.10 405.6,137.10 406.1,137.10 406.6,137.11 407.1,137.11 407.6,137.11 408.1,137.11 408.6,137.12 409.1,137.12 409.6,137.12 410.1,137.12 410.6,137.12 411.1,137.13 411.6,137.13 412.1,137.13 412.6,137.13 413.1,137.13 413.6,137.14 414.1,137.14 414.6,137.14 415.1,137.14 415.6,137.14 416.1,137.15 416.6,137.15 417.1,137.15 417.6,137.15 418.1,137.15 418.6,137.15 419.1,137.16 419.6,137.16 420.1,137.16 420.6,137.16 421.1,137.16 421.6,137.16 422.1,137.16 422.6,137.17 423.1,137.17 423.6,137.17 424.1,137.17 424.6,137.17 425.1,137.17 425.6,137.17 426.1,137.18 426.6,137.18 427.1,137.18 427.6,137.18 428.1,137.18 428.6,137.18 429.1,137.18 429.6,137.18 430.1,137.18 430.6,137.18 431.1,137.19 431.6,137.19 432.1,137.19 432.6,137.19 433.1,137.19 433.6,137.19 434.1,137.19 434.6,137.19 435.1,137.19 435.6,137.19 436.1,137.19 436.6,137.19 437.1,137.19 437.6,137.19 438.1,137.20 438.6,137.20 439.1,137.20 439.6,137.20 440.1,137.20 440.6,137.20 441.1,137.20 441.6,137.20 442.1,137.20 442.6,137.20 443.1,137.20 443.6,137.20 444.1,137.20 444.6,137.20 445.1,137.20 445.6,137.20 446.1,137.20 446.6,137.20 447.0,137.20" fill="none" stroke="#bdbdbd" stroke-width="0.8" stroke-linejoin="round" stroke-linecap="butt"/>
<polyline points="301.6,139.00 302.1,138.98 302.6,138.96 303.1,138.95 303.6,138.93 304.1,138.91 304.6,138.89 305.1,138.87 305.6,138.85 306.1,138.84 306.6,138.82 307.1,138.80 307.6,138.78 308.1,138.76 308.6,138.75 309.1,138.73 309.6,138.71 310.1,138.69 310.6,138.68 311.1,138.66 311.6,138.64 312.1,138.63 312.6,138.61 313.1,138.60 313.6,138.58 314.1,138.57 314.6,138.55 315.1,138.54 315.6,138.52 316.1,138.51 316.6,138.50 317.1,138.49 317.6,138.48 318.1,138.46 318.6,138.45 319.1,138.44 319.6,138.43 320.1,138.42 320.6,138.42 321.1,138.41 321.6,138.40 322.1,138.39 322.6,138.39 323.1,138.38 323.6,138.38 324.1,138.37 324.6,138.36 325.1,138.36 325.6,138.35 326.1,138.34 326.6,138.34 327.1,138.33 327.6,138.32 328.1,138.32 328.6,138.31 329.1,138.31 329.6,138.30 330.1,138.29 330.6,138.29 331.1,138.28 331.6,138.28 332.1,138.27 332.6,138.27 333.1,138.26 333.6,138.25 334.1,138.25 334.6,138.24 335.1,138.24 335.6,138.23 336.1,138.23 336.6,138.22 337.1,138.22 337.6,138.21 338.1,138.21 338.6,138.20 339.1,138.20 339.6,138.19 340.1,138.19 340.6,138.18 341.1,138.18 341.6,138.17 342.1,138.17 342.6,138.16 343.1,138.16 343.6,138.15 344.1,138.15 344.6,138.14 345.1,138.14 345.6,138.13 346.1,138.13 346.6,138.13 347.1,138.12 347.6,138.12 348.1,138.11 348.6,138.11 349.1,138.11 349.6,138.10 350.1,138.10 350.6,138.09 351.1,138.09 351.6,138.09 352.1,138.08 352.6,138.08 353.1,138.08 353.6,138.07 354.1,138.07 354.6,138.07 355.1,138.06 355.6,138.06 356.1,138.06 356.6,138.06 357.1,138.05 357.6,138.05 358.1,138.05 358.6,138.04 359.1,138.04 359.6,138.04 360.1,138.04 360.6,138.03 361.1,138.03 361.6,138.03 362.1,138.03 362.6,138.03 363.1,138.02 363.6,138.02 364.1,138.02 364.6,138.02 365.1,138.02 365.6,138.01 366.1,138.01 366.6,138.01 367.1,138.01 367.6,138.01 368.1,138.01 368.6,138.01 369.1,138.01 369.6,138.01 370.1,138.00 370.6,138.00 371.1,138.00 371.6,138.00 372.1,138.00 372.6,138.00 373.1,138.00 373.6,138.00 374.1,138.00 374.6,138.00 375.1,138.00 375.6,138.00 376.1,138.00 376.6,138.00 377.1,138.00 377.6,138.00 378.1,138.00 378.6,138.00 379.1,138.00 379.6,138.00 380.1,138.00 380.6,138.00 381.1,138.00 381.6,138.00 382.1,138.00 382.6,138.00 383.1,138.00 383.6,138.00 384.1,138.00 384.6,138.00 385.1,138.00 385.6,138.00 386.1,138.00 386.6,138.00 387.1,138.00 387.6,138.00 388.1,138.00 388.6,138.00 389.1,138.00 389.6,138.00 390.1,138.00 390.6,138.00 391.1,138.00 391.6,138.00 392.1,138.00 392.6,138.00 393.1,138.00 393.6,138.00 394.1,138.00 394.6,138.00 395.1,138.00 395.6,138.00 396.1,138.00 396.6,138.00 397.1,138.00 397.6,138.00 398.1,138.00 398.6,138.00 399.1,138.00 399.6,138.00 400.1,138.00 400.6,138.00 401.1,138.00 401.6,138.00 402.1,138.00 402.6,138.00 403.1,138.00 403.6,138.00 404.1,138.00 404.6,138.00 405.1,138.00 405.6,138.00 406.1,138.00 406.6,138.00 407.1,138.00 407.6,138.00 408.1,138.00 408.6,138.00 409.1,138.00 409.6,138.00 410.1,138.00 410.6,138.00 411.1,138.00 411.6,138.00 412.1,138.00 412.6,138.00 413.1,138.00 413.6,138.00 414.1,138.00 414.6,138.00 415.1,138.00 415.6,138.00 416.1,138.00 416.6,138.00 417.1,138.00 417.6,138.00 418.1,138.00 418.6,138.00 419.1,138.00 419.6,138.00 420.1,138.00 420.6,138.00 421.1,138.00 421.6,138.00 422.1,138.00 422.6,138.00 423.1,138.00 423.6,138.00 424.1,138.00 424.6,138.00 425.1,138.00 425.6,138.00 426.1,138.00 426.6,138.00 427.1,138.00 427.6,138.00 428.1,138.00 428.6,138.00 429.1,138.00 429.6,138.00 430.1,138.00 430.6,138.00 431.1,138.00 431.6,138.00 432.1,138.00 432.6,138.00 433.1,138.00 433.6,138.00 434.1,138.00 434.6,138.00 435.1,138.00 435.6,138.00 436.1,138.00 436.6,138.00 437.1,138.00 437.6,138.00 438.1,138.00 438.6,138.00 439.1,138.00 439.6,138.00 440.1,138.00 440.6,138.00 441.1,138.00 441.6,138.00 442.1,138.00 442.6,138.00 443.1,138.00 443.6,138.00 444.1,138.00 444.6,138.00 445.1,138.00 445.6,138.00 446.1,138.00 446.6,138.00 447.0,138.00" fill="none" stroke="#d6d6d6" stroke-width="2.0" stroke-linejoin="round" stroke-linecap="butt"/>
<polyline points="301.5,217.20 302.0,216.97 302.5,216.75 303.0,216.52 303.5,216.29 304.0,216.06 304.5,215.83 305.0,215.60 305.5,215.37 306.0,215.13 306.5,214.90 307.0,214.66 307.5,214.42 308.0,214.19 308.5,213.95 309.0,213.71 309.5,213.47 310.0,213.22 310.5,212.98 311.0,212.74 311.5,212.50 312.0,212.25 312.5,212.01 313.0,211.79 313.5,211.57 314.0,211.35 314.5,211.13 315.0,210.91 315.5,210.69 316.0,210.45 316.5,210.20 317.0,209.94 317.5,209.65 318.0,209.34 318.5,209.01 319.0,208.65 319.5,208.22 320.0,207.74 320.5,207.19 321.0,206.61 321.5,205.98 322.0,205.32 322.5,204.63 323.0,203.93 323.5,203.21 324.0,202.50 324.5,201.78 325.0,201.07 325.5,200.34 326.0,199.57 326.5,198.78 327.0,197.97 327.5,197.14 328.0,196.29 328.5,195.43 329.0,194.54 329.5,193.64 330.0,192.71 330.5,191.75 331.0,190.76 331.5,189.71 332.0,188.60 332.5,187.39 333.0,186.11 333.5,184.81 334.0,183.52 334.5,182.29 335.0,181.15 335.5,180.03 336.0,178.92 336.5,177.84 337.0,176.82 337.5,175.86 338.0,175.00 338.5,174.21 339.0,173.48 339.5,172.78 340.0,172.13 340.5,171.51 341.0,170.93 341.5,170.37 342.0,169.84 342.5,169.34 343.0,168.86 343.5,168.40 344.0,167.95 344.5,167.51 345.0,167.07 345.5,166.64 346.0,166.21 346.5,165.81 347.0,165.43 347.5,165.07 348.0,164.74 348.5,164.42 349.0,164.12 349.5,163.84 350.0,163.56 350.5,163.30 351.0,163.05 351.5,162.80 352.0,162.57 352.5,162.35 353.0,162.14 353.5,161.94 354.0,161.73 354.5,161.53 355.0,161.33 355.5,161.12 356.0,160.90 356.5,160.67 357.0,160.43 357.5,160.18 358.0,159.92 358.5,159.66 359.0,159.39 359.5,159.13 360.0,158.88 360.5,158.63 361.0,158.39 361.5,158.16 362.0,157.96 362.5,157.77 363.0,157.60 363.5,157.45 364.0,157.30 364.5,157.16 365.0,157.03 365.5,156.90 366.0,156.78 366.5,156.66 367.0,156.54 367.5,156.43 368.0,156.33 368.5,156.22 369.0,156.12 369.5,156.02 370.0,155.93 370.5,155.83 371.0,155.74 371.5,155.65 372.0,155.55 372.5,155.46 373.0,155.37 373.5,155.29 374.0,155.20 374.5,155.12 375.0,155.04 375.5,154.96 376.0,154.88 376.5,154.80 377.0,154.73 377.5,154.65 378.0,154.58 378.5,154.51 379.0,154.44 379.5,154.37 380.0,154.30 380.5,154.23 381.0,154.16 381.5,154.09 382.0,154.02 382.5,153.95 383.0,153.88 383.5,153.81 384.0,153.74 384.5,153.67 385.0,153.60 385.5,153.53 386.0,153.46 386.5,153.39 387.0,153.31 387.5,153.24 388.0,153.17 388.5,153.10 389.0,153.03 389.5,152.95 390.0,152.88 390.5,152.81 391.0,152.74 391.5,152.67 392.0,152.60 392.5,152.53 393.0,152.46 393.5,152.39 394.0,152.32 394.5,152.25 395.0,152.18 395.5,152.11 396.0,152.04 396.5,151.98 397.0,151.91 397.5,151.84 398.0,151.78 398.5,151.71 399.0,151.65 399.5,151.59 400.0,151.52 400.5,151.46 401.0,151.40 401.5,151.34 402.0,151.28 402.5,151.22 403.0,151.17 403.5,151.11 404.0,151.05 404.5,150.99 405.0,150.94 405.5,150.88 406.0,150.82 406.5,150.77 407.0,150.71 407.5,150.66 408.0,150.60 408.5,150.55 409.0,150.49 409.5,150.44 410.0,150.39 410.5,150.34 411.0,150.29 411.5,150.24 412.0,150.19 412.5,150.14 413.0,150.10 413.5,150.05 414.0,150.01 414.5,149.96 415.0,149.92 415.5,149.88 416.0,149.84 416.5,149.81 417.0,149.77 417.5,149.74 418.0,149.70 418.5,149.66 419.0,149.63 419.5,149.59 420.0,149.56 420.5,149.52 421.0,149.49 421.5,149.45 422.0,149.42 422.5,149.39 423.0,149.35 423.5,149.32 424.0,149.28 424.5,149.25 425.0,149.22 425.5,149.18 426.0,149.15 426.5,149.12 427.0,149.09 427.5,149.06 428.0,149.03 428.5,149.00 429.0,148.96 429.5,148.93 430.0,148.90 430.5,148.88 431.0,148.85 431.5,148.82 432.0,148.79 432.5,148.76 433.0,148.74 433.5,148.71 434.0,148.68 434.5,148.66 435.0,148.63 435.5,148.61 436.0,148.58 436.5,148.56 437.0,148.54 437.5,148.51 438.0,148.49 438.5,148.47 439.0,148.45 439.5,148.43 440.0,148.41 440.5,148.39 441.0,148.37 441.5,148.35 442.0,148.33 442.5,148.32 443.0,148.30 443.5,148.29 444.0,148.27 444.5,148.26 445.0,148.25 445.5,148.23 446.0,148.22 446.5,148.21 447.0,148.20" fill="none" stroke="#cfcfcf" stroke-width="1.6" stroke-linejoin="round" stroke-linecap="butt"/>
<polyline points="301.5,217.20 302.0,216.97 302.5,216.75 303.0,216.52 303.5,216.29 304.0,216.06 304.5,215.83 305.0,215.60 305.5,215.37 306.0,215.13 306.5,214.90 307.0,214.66 307.5,214.42 308.0,214.19 308.5,213.95 309.0,213.71 309.5,213.47 310.0,213.22 310.5,212.98 311.0,212.74 311.5,212.50 312.0,212.25 312.5,212.01 313.0,211.79 313.5,211.57 314.0,211.35 314.5,211.13 315.0,210.91 315.5,210.69 316.0,210.45 316.5,210.20 317.0,209.94 317.5,209.65 318.0,209.34 318.5,209.01 319.0,208.65 319.5,208.22 320.0,207.74 320.5,207.19 321.0,206.61 321.5,205.98 322.0,205.32 322.5,204.63 323.0,203.93 323.5,203.21 324.0,202.50 324.5,201.78 325.0,201.07 325.5,200.34 326.0,199.57 326.5,198.78 327.0,197.97 327.5,197.14 328.0,196.29 328.5,195.43 329.0,194.54 329.5,193.64 330.0,192.71 330.5,191.75 331.0,190.76 331.5,189.71 332.0,188.60 332.5,187.39 333.0,186.11 333.5,184.81 334.0,183.52 334.5,182.29 335.0,181.15 335.5,180.03 336.0,178.92 336.5,177.84 337.0,176.82 337.5,175.86 338.0,175.00 338.5,174.21 339.0,173.48 339.5,172.78 340.0,172.13 340.5,171.51 341.0,170.93 341.5,170.37 342.0,169.84 342.5,169.34 343.0,168.86 343.5,168.40 344.0,167.95 344.5,167.51 345.0,167.07 345.5,166.64 346.0,166.21 346.5,165.81 347.0,165.43 347.5,165.07 348.0,164.74 348.5,164.42 349.0,164.12 349.5,163.84 350.0,163.56 350.5,163.30 351.0,163.05 351.5,162.80 352.0,162.57 352.5,162.35 353.0,162.14 353.5,161.94 354.0,161.73 354.5,161.53 355.0,161.33 355.5,161.12 356.0,160.90 356.5,160.67 357.0,160.43 357.5,160.18 358.0,159.92 358.5,159.66 359.0,159.39 359.5,159.13 360.0,158.88 360.5,158.63 361.0,158.39 361.5,158.16 362.0,157.96 362.5,157.77 363.0,157.60 363.5,157.45 364.0,157.30 364.5,157.16 365.0,157.03 365.5,156.90 366.0,156.78 366.5,156.66 367.0,156.54 367.5,156.43 368.0,156.33 368.5,156.22 369.0,156.12 369.5,156.02 370.0,155.93 370.5,155.83 371.0,155.74 371.5,155.65 372.0,155.55 372.5,155.46 373.0,155.37 373.5,155.29 374.0,155.20 374.5,155.12 375.0,155.04 375.5,154.96 376.0,154.88 376.5,154.80 377.0,154.73 377.5,154.65 378.0,154.58 378.5,154.51 379.0,154.44 379.5,154.37 380.0,154.30 380.5,154.23 381.0,154.16 381.5,154.09 382.0,154.02 382.5,153.95 383.0,153.88 383.5,153.81 384.0,153.74 384.5,153.67 385.0,153.60 385.5,153.53 386.0,153.46 386.5,153.39 387.0,153.31 387.5,153.24 388.0,153.17 388.5,153.10 389.0,153.03 389.5,152.95 390.0,152.88 390.5,152.81 391.0,152.74 391.5,152.67 392.0,152.60 392.5,152.53 393.0,152.46 393.5,152.39 394.0,152.32 394.5,152.25 395.0,152.18 395.5,152.11 396.0,152.04 396.5,151.98 397.0,151.91 397.5,151.84 398.0,151.78 398.5,151.71 399.0,151.65 399.5,151.59 400.0,151.52 400.5,151.46 401.0,151.40 401.5,151.34 402.0,151.28 402.5,151.22 403.0,151.17 403.5,151.11 404.0,151.05 404.5,150.99 405.0,150.94 405.5,150.88 406.0,150.82 406.5,150.77 407.0,150.71 407.5,150.66 408.0,150.60 408.5,150.55 409.0,150.49 409.5,150.44 410.0,150.39 410.5,150.34 411.0,150.29 411.5,150.24 412.0,150.19 412.5,150.14 413.0,150.10 413.5,150.05 414.0,150.01 414.5,149.96 415.0,149.92 415.5,149.88 416.0,149.84 416.5,149.81 417.0,149.77 417.5,149.74 418.0,149.70 418.5,149.66 419.0,149.63 419.5,149.59 420.0,149.56 420.5,149.52 421.0,149.49 421.5,149.45 422.0,149.42 422.5,149.39 423.0,149.35 423.5,149.32 424.0,149.28 424.5,149.25 425.0,149.22 425.5,149.18 426.0,149.15 426.5,149.12 427.0,149.09 427.5,149.06 428.0,149.03 428.5,149.00 429.0,148.96 429.5,148.93 430.0,148.90 430.5,148.88 431.0,148.85 431.5,148.82 432.0,148.79 432.5,148.76 433.0,148.74 433.5,148.71 434.0,148.68 434.5,148.66 435.0,148.63 435.5,148.61 436.0,148.58 436.5,148.56 437.0,148.54 437.5,148.51 438.0,148.49 438.5,148.47 439.0,148.45 439.5,148.43 440.0,148.41 440.5,148.39 441.0,148.37 441.5,148.35 442.0,148.33 442.5,148.32 443.0,148.30 443.5,148.29 444.0,148.27 444.5,148.26 445.0,148.25 445.5,148.23 446.0,148.22 446.5,148.21 447.0,148.20" fill="none" stroke="#e89282" stroke-width="2.0" stroke-linejoin="round" stroke-linecap="butt" stroke-dasharray="6.2 2.55"/>
<polyline points="301.5,214.10 302.0,213.89 302.5,213.68 303.0,213.47 303.5,213.26 304.0,213.05 304.5,212.83 305.0,212.62 305.5,212.40 306.0,212.18 306.5,211.96 307.0,211.74 307.5,211.52 308.0,211.29 308.5,211.07 309.0,210.84 309.5,210.61 310.0,210.38 310.5,210.15 311.0,209.92 311.5,209.69 312.0,209.45 312.5,209.23 313.0,209.01 313.5,208.79 314.0,208.58 314.5,208.37 315.0,208.15 315.5,207.92 316.0,207.69 316.5,207.45 317.0,207.19 317.5,206.92 318.0,206.62 318.5,206.30 319.0,205.96 319.5,205.56 320.0,205.11 320.5,204.62 321.0,204.09 321.5,203.52 322.0,202.93 322.5,202.31 323.0,201.68 323.5,201.04 324.0,200.40 324.5,199.75 325.0,199.11 325.5,198.45 326.0,197.76 326.5,197.05 327.0,196.32 327.5,195.58 328.0,194.82 328.5,194.04 329.0,193.25 329.5,192.43 330.0,191.58 330.5,190.73 331.0,189.85 331.5,188.98 332.0,188.08 332.5,187.16 333.0,186.22 333.5,185.28 334.0,184.34 334.5,183.43 335.0,182.55 335.5,181.68 336.0,180.82 336.5,179.98 337.0,179.16 337.5,178.36 338.0,177.60 338.5,176.87 339.0,176.15 339.5,175.45 340.0,174.78 340.5,174.14 341.0,173.53 341.5,172.96 342.0,172.41 342.5,171.88 343.0,171.38 343.5,170.90 344.0,170.44 344.5,170.02 345.0,169.62 345.5,169.24 346.0,168.88 346.5,168.53 347.0,168.19 347.5,167.87 348.0,167.54 348.5,167.23 349.0,166.92 349.5,166.62 350.0,166.33 350.5,166.05 351.0,165.77 351.5,165.49 352.0,165.21 352.5,164.94 353.0,164.66 353.5,164.39 354.0,164.13 354.5,163.88 355.0,163.64 355.5,163.41 356.0,163.20 356.5,163.00 357.0,162.81 357.5,162.62 358.0,162.44 358.5,162.27 359.0,162.10 359.5,161.93 360.0,161.77 360.5,161.62 361.0,161.47 361.5,161.32 362.0,161.18 362.5,161.04 363.0,160.90 363.5,160.77 364.0,160.63 364.5,160.51 365.0,160.38 365.5,160.25 366.0,160.13 366.5,160.01 367.0,159.90 367.5,159.78 368.0,159.67 368.5,159.56 369.0,159.45 369.5,159.35 370.0,159.24 370.5,159.14 371.0,159.04 371.5,158.95 372.0,158.85 372.5,158.76 373.0,158.67 373.5,158.59 374.0,158.50 374.5,158.42 375.0,158.34 375.5,158.26 376.0,158.18 376.5,158.10 377.0,158.02 377.5,157.95 378.0,157.87 378.5,157.80 379.0,157.73 379.5,157.66 380.0,157.59 380.5,157.52 381.0,157.45 381.5,157.38 382.0,157.31 382.5,157.24 383.0,157.17 383.5,157.10 384.0,157.04 384.5,156.97 385.0,156.90 385.5,156.83 386.0,156.76 386.5,156.70 387.0,156.63 387.5,156.56 388.0,156.50 388.5,156.43 389.0,156.36 389.5,156.30 390.0,156.23 390.5,156.17 391.0,156.10 391.5,156.04 392.0,155.98 392.5,155.91 393.0,155.85 393.5,155.79 394.0,155.72 394.5,155.66 395.0,155.60 395.5,155.54 396.0,155.48 396.5,155.42 397.0,155.36 397.5,155.30 398.0,155.24 398.5,155.18 399.0,155.12 399.5,155.06 400.0,155.01 400.5,154.95 401.0,154.89 401.5,154.83 402.0,154.78 402.5,154.72 403.0,154.67 403.5,154.61 404.0,154.56 404.5,154.50 405.0,154.45 405.5,154.39 406.0,154.34 406.5,154.28 407.0,154.23 407.5,154.18 408.0,154.12 408.5,154.07 409.0,154.02 409.5,153.97 410.0,153.92 410.5,153.87 411.0,153.82 411.5,153.77 412.0,153.72 412.5,153.67 413.0,153.62 413.5,153.58 414.0,153.53 414.5,153.48 415.0,153.44 415.5,153.39 416.0,153.35 416.5,153.31 417.0,153.27 417.5,153.22 418.0,153.18 418.5,153.14 419.0,153.10 419.5,153.06 420.0,153.02 420.5,152.98 421.0,152.94 421.5,152.90 422.0,152.86 422.5,152.82 423.0,152.78 423.5,152.74 424.0,152.70 424.5,152.66 425.0,152.62 425.5,152.58 426.0,152.54 426.5,152.50 427.0,152.46 427.5,152.43 428.0,152.39 428.5,152.35 429.0,152.31 429.5,152.28 430.0,152.24 430.5,152.20 431.0,152.17 431.5,152.13 432.0,152.10 432.5,152.06 433.0,152.03 433.5,151.99 434.0,151.96 434.5,151.92 435.0,151.89 435.5,151.86 436.0,151.82 436.5,151.79 437.0,151.76 437.5,151.73 438.0,151.70 438.5,151.67 439.0,151.64 439.5,151.61 440.0,151.58 440.5,151.55 441.0,151.52 441.5,151.49 442.0,151.46 442.5,151.43 443.0,151.40 443.5,151.38 444.0,151.35 444.5,151.32 445.0,151.30 445.5,151.27 446.0,151.25 446.5,151.22 447.0,151.20" fill="none" stroke="#0a8ad6" stroke-width="2.0" stroke-linejoin="round" stroke-linecap="butt"/>
<polyline points="301.6,146.80 302.1,146.79 302.6,146.78 303.1,146.77 303.6,146.76 304.1,146.74 304.6,146.72 305.1,146.70 305.6,146.68 306.1,146.66 306.6,146.64 307.1,146.61 307.6,146.59 308.1,146.56 308.6,146.53 309.1,146.50 309.6,146.47 310.1,146.44 310.6,146.40 311.1,146.37 311.6,146.33 312.1,146.30 312.6,146.26 313.1,146.23 313.6,146.19 314.1,146.15 314.6,146.12 315.1,146.08 315.6,146.04 316.1,145.99 316.6,145.95 317.1,145.90 317.6,145.85 318.1,145.80 318.6,145.74 319.1,145.69 319.6,145.63 320.1,145.56 320.6,145.50 321.1,145.43 321.6,145.37 322.1,145.30 322.6,145.22 323.1,145.15 323.6,145.07 324.1,145.00 324.6,144.92 325.1,144.83 325.6,144.75 326.1,144.66 326.6,144.57 327.1,144.46 327.6,144.34 328.1,144.21 328.6,144.07 329.1,143.93 329.6,143.78 330.1,143.64 330.6,143.49 331.1,143.35 331.6,143.21 332.1,143.07 332.6,142.94 333.1,142.82 333.6,142.71 334.1,142.62 334.6,142.53 335.1,142.45 335.6,142.36 336.1,142.28 336.6,142.20 337.1,142.13 337.6,142.05 338.1,141.98 338.6,141.91 339.1,141.85 339.6,141.79 340.1,141.73 340.6,141.67 341.1,141.62 341.6,141.58 342.1,141.53 342.6,141.49 343.1,141.46 343.6,141.42 344.1,141.39 344.6,141.35 345.1,141.32 345.6,141.29 346.1,141.26 346.6,141.24 347.1,141.21 347.6,141.18 348.1,141.16 348.6,141.13 349.1,141.11 349.6,141.09 350.1,141.06 350.6,141.04 351.1,141.02 351.6,141.00 352.1,140.98 352.6,140.96 353.1,140.94 353.6,140.92 354.1,140.90 354.6,140.88 355.1,140.86 355.6,140.83 356.1,140.81 356.6,140.79 357.1,140.77 357.6,140.75 358.1,140.73 358.6,140.70 359.1,140.68 359.6,140.66 360.1,140.64 360.6,140.61 361.1,140.59 361.6,140.57 362.1,140.55 362.6,140.52 363.1,140.50 363.6,140.48 364.1,140.46 364.6,140.44 365.1,140.41 365.6,140.39 366.1,140.37 366.6,140.35 367.1,140.33 367.6,140.31 368.1,140.30 368.6,140.28 369.1,140.26 369.6,140.24 370.1,140.23 370.6,140.21 371.1,140.19 371.6,140.18 372.1,140.17 372.6,140.15 373.1,140.14 373.6,140.13 374.1,140.12 374.6,140.11 375.1,140.10 375.6,140.09 376.1,140.08 376.6,140.07 377.1,140.06 377.6,140.06 378.1,140.05 378.6,140.04 379.1,140.03 379.6,140.02 380.1,140.01 380.6,140.00 381.1,140.00 381.6,139.99 382.1,139.98 382.6,139.97 383.1,139.96 383.6,139.96 384.1,139.95 384.6,139.94 385.1,139.93 385.6,139.92 386.1,139.92 386.6,139.91 387.1,139.90 387.6,139.89 388.1,139.89 388.6,139.88 389.1,139.87 389.6,139.86 390.1,139.86 390.6,139.85 391.1,139.84 391.6,139.83 392.1,139.83 392.6,139.82 393.1,139.81 393.6,139.81 394.1,139.80 394.6,139.79 395.1,139.78 395.6,139.78 396.1,139.77 396.6,139.76 397.1,139.76 397.6,139.75 398.1,139.74 398.6,139.74 399.1,139.73 399.6,139.72 400.1,139.72 400.6,139.71 401.1,139.71 401.6,139.70 402.1,139.69 402.6,139.69 403.1,139.68 403.6,139.67 404.1,139.67 404.6,139.66 405.1,139.66 405.6,139.65 406.1,139.65 406.6,139.64 407.1,139.63 407.6,139.63 408.1,139.62 408.6,139.62 409.1,139.61 409.6,139.61 410.1,139.60 410.6,139.60 411.1,139.59 411.6,139.59 412.1,139.58 412.6,139.58 413.1,139.57 413.6,139.57 414.1,139.56 414.6,139.56 415.1,139.55 415.6,139.55 416.1,139.54 416.6,139.54 417.1,139.54 417.6,139.53 418.1,139.53 418.6,139.52 419.1,139.52 419.6,139.51 420.1,139.51 420.6,139.51 421.1,139.50 421.6,139.50 422.1,139.49 422.6,139.49 423.1,139.49 423.6,139.48 424.1,139.48 424.6,139.48 425.1,139.47 425.6,139.47 426.1,139.47 426.6,139.46 427.1,139.46 427.6,139.46 428.1,139.46 428.6,139.45 429.1,139.45 429.6,139.45 430.1,139.44 430.6,139.44 431.1,139.44 431.6,139.44 432.1,139.43 432.6,139.43 433.1,139.43 433.6,139.43 434.1,139.43 434.6,139.42 435.1,139.42 435.6,139.42 436.1,139.42 436.6,139.42 437.1,139.42 437.6,139.41 438.1,139.41 438.6,139.41 439.1,139.41 439.6,139.41 440.1,139.41 440.6,139.41 441.1,139.41 441.6,139.40 442.1,139.40 442.6,139.40 443.1,139.40 443.6,139.40 444.1,139.40 444.6,139.40 445.1,139.40 445.6,139.40 446.1,139.40 446.6,139.40 447.0,139.40" fill="none" stroke="#fb4b2f" stroke-width="2.0" stroke-linejoin="round" stroke-linecap="butt"/>
<polyline points="301.6,133.90 302.1,133.90 302.6,133.90 303.1,133.91 303.6,133.91 304.1,133.92 304.6,133.93 305.1,133.94 305.6,133.95 306.1,133.96 306.6,133.97 307.1,133.99 307.6,134.00 308.1,134.02 308.6,134.04 309.1,134.06 309.6,134.07 310.1,134.09 310.6,134.11 311.1,134.14 311.6,134.16 312.1,134.18 312.6,134.20 313.1,134.22 313.6,134.25 314.1,134.27 314.6,134.29 315.1,134.31 315.6,134.34 316.1,134.37 316.6,134.40 317.1,134.43 317.6,134.46 318.1,134.50 318.6,134.54 319.1,134.58 319.6,134.62 320.1,134.67 320.6,134.71 321.1,134.76 321.6,134.81 322.1,134.86 322.6,134.92 323.1,134.97 323.6,135.03 324.1,135.08 324.6,135.14 325.1,135.20 325.6,135.26 326.1,135.33 326.6,135.40 327.1,135.48 327.6,135.56 328.1,135.66 328.6,135.76 329.1,135.86 329.6,135.97 330.1,136.08 330.6,136.19 331.1,136.30 331.6,136.40 332.1,136.51 332.6,136.61 333.1,136.71 333.6,136.80 334.1,136.88 334.6,136.96 335.1,137.04 335.6,137.13 336.1,137.21 336.6,137.29 337.1,137.37 337.6,137.45 338.1,137.52 338.6,137.60 339.1,137.67 339.6,137.73 340.1,137.79 340.6,137.85 341.1,137.90 341.6,137.94 342.1,137.98 342.6,138.00 343.1,138.03 343.6,138.05 344.1,138.08 344.6,138.10 345.1,138.12 345.6,138.14 346.1,138.17 346.6,138.19 347.1,138.21 347.6,138.22 348.1,138.24 348.6,138.26 349.1,138.28 349.6,138.29 350.1,138.31 350.6,138.32 351.1,138.33 351.6,138.34 352.1,138.35 352.6,138.36 353.1,138.37 353.6,138.38 354.1,138.39 354.6,138.39 355.1,138.40 355.6,138.40 356.1,138.40 356.6,138.40 357.1,138.40 357.6,138.40 358.1,138.40 358.6,138.39 359.1,138.39 359.6,138.39 360.1,138.38 360.6,138.38 361.1,138.37 361.6,138.37 362.1,138.36 362.6,138.36 363.1,138.35 363.6,138.34 364.1,138.33 364.6,138.33 365.1,138.32 365.6,138.31 366.1,138.31 366.6,138.30 367.1,138.29 367.6,138.28 368.1,138.28 368.6,138.27 369.1,138.26 369.6,138.25 370.1,138.25 370.6,138.24 371.1,138.23 371.6,138.23 372.1,138.22 372.6,138.22 373.1,138.21 373.6,138.21 374.1,138.21 374.6,138.20 375.1,138.20 375.6,138.20 376.1,138.19 376.6,138.19 377.1,138.19 377.6,138.19 378.1,138.18 378.6,138.18 379.1,138.18 379.6,138.18 380.1,138.18 380.6,138.17 381.1,138.17 381.6,138.17 382.1,138.17 382.6,138.16 383.1,138.16 383.6,138.16 384.1,138.16 384.6,138.15 385.1,138.15 385.6,138.15 386.1,138.15 386.6,138.15 387.1,138.14 387.6,138.14 388.1,138.14 388.6,138.14 389.1,138.13 389.6,138.13 390.1,138.13 390.6,138.13 391.1,138.13 391.6,138.12 392.1,138.12 392.6,138.12 393.1,138.12 393.6,138.12 394.1,138.11 394.6,138.11 395.1,138.11 395.6,138.11 396.1,138.11 396.6,138.10 397.1,138.10 397.6,138.10 398.1,138.10 398.6,138.10 399.1,138.09 399.6,138.09 400.1,138.09 400.6,138.09 401.1,138.09 401.6,138.09 402.1,138.08 402.6,138.08 403.1,138.08 403.6,138.08 404.1,138.08 404.6,138.08 405.1,138.07 405.6,138.07 406.1,138.07 406.6,138.07 407.1,138.07 407.6,138.07 408.1,138.06 408.6,138.06 409.1,138.06 409.6,138.06 410.1,138.06 410.6,138.06 411.1,138.05 411.6,138.05 412.1,138.05 412.6,138.05 413.1,138.05 413.6,138.05 414.1,138.05 414.6,138.05 415.1,138.04 415.6,138.04 416.1,138.04 416.6,138.04 417.1,138.04 417.6,138.04 418.1,138.04 418.6,138.03 419.1,138.03 419.6,138.03 420.1,138.03 420.6,138.03 421.1,138.03 421.6,138.03 422.1,138.03 422.6,138.03 423.1,138.03 423.6,138.02 424.1,138.02 424.6,138.02 425.1,138.02 425.6,138.02 426.1,138.02 426.6,138.02 427.1,138.02 427.6,138.02 428.1,138.02 428.6,138.02 429.1,138.01 429.6,138.01 430.1,138.01 430.6,138.01 431.1,138.01 431.6,138.01 432.1,138.01 432.6,138.01 433.1,138.01 433.6,138.01 434.1,138.01 434.6,138.01 435.1,138.01 435.6,138.01 436.1,138.01 436.6,138.00 437.1,138.00 437.6,138.00 438.1,138.00 438.6,138.00 439.1,138.00 439.6,138.00 440.1,138.00 440.6,138.00 441.1,138.00 441.6,138.00 442.1,138.00 442.6,138.00 443.1,138.00 443.6,138.00 444.1,138.00 444.6,138.00 445.1,138.00 445.6,138.00 446.1,138.00 446.6,138.00 447.0,138.00" fill="none" stroke="#678a55" stroke-width="2.0" stroke-linejoin="round" stroke-linecap="butt"/>
<polyline points="301.5,255.70 302.0,255.70 302.5,255.70 303.0,255.70 303.5,255.70 304.0,255.70 304.5,255.70 305.0,255.70 305.5,255.70 306.0,255.70 306.5,255.70 307.0,255.70 307.5,255.70 308.0,255.70 308.5,255.70 309.0,255.70 309.5,255.70 310.0,255.70 310.5,255.70 311.0,255.70 311.5,255.70 312.0,255.70 312.5,255.70 313.0,255.70 313.5,255.70 314.0,255.70 314.5,255.70 315.0,255.70 315.5,255.70 316.0,255.70 316.5,255.70 317.0,255.70 317.5,255.70 318.0,255.70 318.5,255.70 319.0,255.70 319.5,255.70 320.0,255.70 320.5,255.70 321.0,255.70 321.5,255.70 322.0,255.70 322.5,255.70 323.0,255.70 323.5,255.70 324.0,255.70 324.5,255.70 325.0,255.70 325.5,255.70 326.0,255.70 326.5,255.70 327.0,255.70 327.5,255.70 328.0,255.70 328.5,255.70 329.0,255.70 329.5,255.70 330.0,255.70 330.5,255.70 331.0,255.70 331.5,255.70 332.0,255.70 332.5,255.70 333.0,255.70 333.5,255.69 334.0,255.69 334.5,255.69 335.0,255.69 335.5,255.69 336.0,255.69 336.5,255.69 337.0,255.69 337.5,255.69 338.0,255.69 338.5,255.69 339.0,255.69 339.5,255.69 340.0,255.69 340.5,255.69 341.0,255.69 341.5,255.69 342.0,255.69 342.5,255.69 343.0,255.69 343.5,255.69 344.0,255.69 344.5,255.69 345.0,255.69 345.5,255.69 346.0,255.69 346.5,255.69 347.0,255.69 347.5,255.69 348.0,255.69 348.5,255.69 349.0,255.69 349.5,255.68 350.0,255.68 350.5,255.68 351.0,255.68 351.5,255.68 352.0,255.68 352.5,255.68 353.0,255.68 353.5,255.68 354.0,255.68 354.5,255.68 355.0,255.68 355.5,255.68 356.0,255.68 356.5,255.68 357.0,255.68 357.5,255.68 358.0,255.68 358.5,255.68 359.0,255.68 359.5,255.67 360.0,255.67 360.5,255.67 361.0,255.67 361.5,255.67 362.0,255.67 362.5,255.67 363.0,255.67 363.5,255.67 364.0,255.67 364.5,255.67 365.0,255.67 365.5,255.67 366.0,255.67 366.5,255.67 367.0,255.66 367.5,255.66 368.0,255.66 368.5,255.66 369.0,255.66 369.5,255.66 370.0,255.66 370.5,255.66 371.0,255.66 371.5,255.66 372.0,255.66 372.5,255.66 373.0,255.65 373.5,255.65 374.0,255.65 374.5,255.65 375.0,255.65 375.5,255.65 376.0,255.65 376.5,255.65 377.0,255.65 377.5,255.65 378.0,255.65 378.5,255.64 379.0,255.64 379.5,255.64 380.0,255.64 380.5,255.64 381.0,255.64 381.5,255.64 382.0,255.64 382.5,255.64 383.0,255.63 383.5,255.63 384.0,255.63 384.5,255.63 385.0,255.63 385.5,255.63 386.0,255.63 386.5,255.63 387.0,255.62 387.5,255.62 388.0,255.62 388.5,255.62 389.0,255.62 389.5,255.62 390.0,255.62 390.5,255.62 391.0,255.61 391.5,255.61 392.0,255.61 392.5,255.61 393.0,255.61 393.5,255.61 394.0,255.61 394.5,255.60 395.0,255.60 395.5,255.60 396.0,255.60 396.5,255.57 397.0,255.51 397.5,255.41 398.0,255.31 398.5,255.20 399.0,255.10 399.5,255.03 400.0,255.00 400.5,254.99 401.0,254.98 401.5,254.98 402.0,254.97 402.5,254.96 403.0,254.95 403.5,254.95 404.0,254.94 404.5,254.93 405.0,254.92 405.5,254.92 406.0,254.91 406.5,254.90 407.0,254.90 407.5,254.89 408.0,254.89 408.5,254.88 409.0,254.87 409.5,254.87 410.0,254.86 410.5,254.86 411.0,254.85 411.5,254.85 412.0,254.84 412.5,254.84 413.0,254.83 413.5,254.83 414.0,254.82 414.5,254.82 415.0,254.81 415.5,254.81 416.0,254.80 416.5,254.80 417.0,254.80 417.5,254.79 418.0,254.79 418.5,254.78 419.0,254.78 419.5,254.78 420.0,254.77 420.5,254.77 421.0,254.77 421.5,254.76 422.0,254.76 422.5,254.76 423.0,254.76 423.5,254.75 424.0,254.75 424.5,254.75 425.0,254.75 425.5,254.74 426.0,254.74 426.5,254.74 427.0,254.74 427.5,254.73 428.0,254.73 428.5,254.73 429.0,254.73 429.5,254.73 430.0,254.72 430.5,254.72 431.0,254.72 431.5,254.72 432.0,254.72 432.5,254.72 433.0,254.72 433.5,254.71 434.0,254.71 434.5,254.71 435.0,254.71 435.5,254.71 436.0,254.71 436.5,254.71 437.0,254.71 437.5,254.71 438.0,254.71 438.5,254.71 439.0,254.70 439.5,254.70 440.0,254.70 440.5,254.70 441.0,254.70 441.5,254.70 442.0,254.70 442.5,254.70 443.0,254.70 443.5,254.70 444.0,254.70 444.5,254.70 445.0,254.70 445.5,254.70 446.0,254.70 446.5,254.70 447.0,254.70" fill="none" stroke="#dedede" stroke-width="1.5" stroke-linejoin="round" stroke-linecap="butt"/>
<polyline points="301.5,257.20 302.0,257.20 302.5,257.20 303.0,257.20 303.5,257.20 304.0,257.20 304.5,257.20 305.0,257.20 305.5,257.20 306.0,257.20 306.5,257.20 307.0,257.20 307.5,257.20 308.0,257.20 308.5,257.20 309.0,257.20 309.5,257.20 310.0,257.20 310.5,257.19 311.0,257.19 311.5,257.19 312.0,257.19 312.5,257.19 313.0,257.19 313.5,257.19 314.0,257.19 314.5,257.19 315.0,257.19 315.5,257.19 316.0,257.19 316.5,257.19 317.0,257.18 317.5,257.18 318.0,257.18 318.5,257.18 319.0,257.18 319.5,257.18 320.0,257.18 320.5,257.18 321.0,257.17 321.5,257.17 322.0,257.17 322.5,257.17 323.0,257.17 323.5,257.17 324.0,257.17 324.5,257.16 325.0,257.16 325.5,257.16 326.0,257.16 326.5,257.16 327.0,257.16 327.5,257.16 328.0,257.15 328.5,257.15 329.0,257.15 329.5,257.15 330.0,257.15 330.5,257.14 331.0,257.14 331.5,257.14 332.0,257.14 332.5,257.14 333.0,257.13 333.5,257.13 334.0,257.13 334.5,257.13 335.0,257.13 335.5,257.12 336.0,257.12 336.5,257.12 337.0,257.12 337.5,257.11 338.0,257.11 338.5,257.11 339.0,257.11 339.5,257.10 340.0,257.10 340.5,257.10 341.0,257.10 341.5,257.09 342.0,257.09 342.5,257.09 343.0,257.09 343.5,257.08 344.0,257.08 344.5,257.08 345.0,257.08 345.5,257.07 346.0,257.07 346.5,257.07 347.0,257.06 347.5,257.06 348.0,257.06 348.5,257.06 349.0,257.05 349.5,257.05 350.0,257.05 350.5,257.04 351.0,257.04 351.5,257.04 352.0,257.03 352.5,257.03 353.0,257.03 353.5,257.02 354.0,257.02 354.5,257.02 355.0,257.01 355.5,257.01 356.0,257.01 356.5,257.00 357.0,257.00 357.5,256.99 358.0,256.99 358.5,256.99 359.0,256.98 359.5,256.98 360.0,256.98 360.5,256.97 361.0,256.97 361.5,256.96 362.0,256.96 362.5,256.96 363.0,256.95 363.5,256.95 364.0,256.95 364.5,256.94 365.0,256.94 365.5,256.93 366.0,256.93 366.5,256.92 367.0,256.92 367.5,256.92 368.0,256.91 368.5,256.91 369.0,256.90 369.5,256.90 370.0,256.89 370.5,256.89 371.0,256.89 371.5,256.88 372.0,256.88 372.5,256.87 373.0,256.87 373.5,256.86 374.0,256.86 374.5,256.85 375.0,256.85 375.5,256.84 376.0,256.84 376.5,256.83 377.0,256.83 377.5,256.82 378.0,256.82 378.5,256.81 379.0,256.81 379.5,256.81 380.0,256.80 380.5,256.79 381.0,256.79 381.5,256.78 382.0,256.78 382.5,256.77 383.0,256.76 383.5,256.76 384.0,256.75 384.5,256.74 385.0,256.73 385.5,256.72 386.0,256.71 386.5,256.70 387.0,256.69 387.5,256.68 388.0,256.67 388.5,256.66 389.0,256.64 389.5,256.63 390.0,256.61 390.5,256.60 391.0,256.58 391.5,256.56 392.0,256.55 392.5,256.53 393.0,256.51 393.5,256.48 394.0,256.46 394.5,256.44 395.0,256.42 395.5,256.39 396.0,256.34 396.5,256.28 397.0,256.20 397.5,256.11 398.0,256.02 398.5,255.92 399.0,255.84 399.5,255.76 400.0,255.70 400.5,255.65 401.0,255.59 401.5,255.54 402.0,255.48 402.5,255.43 403.0,255.39 403.5,255.35 404.0,255.32 404.5,255.31 405.0,255.30 405.5,255.30 406.0,255.30 406.5,255.30 407.0,255.30 407.5,255.30 408.0,255.30 408.5,255.30 409.0,255.30 409.5,255.30 410.0,255.30 410.5,255.30 411.0,255.30 411.5,255.30 412.0,255.30 412.5,255.30 413.0,255.30 413.5,255.30 414.0,255.30 414.5,255.30 415.0,255.30 415.5,255.30 416.0,255.30 416.5,255.30 417.0,255.30 417.5,255.30 418.0,255.30 418.5,255.30 419.0,255.30 419.5,255.30 420.0,255.30 420.5,255.30 421.0,255.30 421.5,255.30 422.0,255.30 422.5,255.30 423.0,255.30 423.5,255.30 424.0,255.30 424.5,255.30 425.0,255.30 425.5,255.30 426.0,255.30 426.5,255.30 427.0,255.30 427.5,255.30 428.0,255.30 428.5,255.30 429.0,255.30 429.5,255.30 430.0,255.30 430.5,255.30 431.0,255.30 431.5,255.30 432.0,255.30 432.5,255.30 433.0,255.30 433.5,255.30 434.0,255.30 434.5,255.30 435.0,255.30 435.5,255.30 436.0,255.30 436.5,255.30 437.0,255.30 437.5,255.30 438.0,255.30 438.5,255.30 439.0,255.30 439.5,255.30 440.0,255.30 440.5,255.30 441.0,255.30 441.5,255.30 442.0,255.30 442.5,255.30 443.0,255.30 443.5,255.30 444.0,255.30 444.5,255.30 445.0,255.30 445.5,255.30 446.0,255.30 446.5,255.30 447.0,255.30" fill="none" stroke="#8a8a8a" stroke-width="1.1" stroke-linejoin="round" stroke-linecap="butt"/>
<polyline points="301.5,266.00 302.0,266.00 302.5,266.00 303.0,266.00 303.5,266.00 304.0,266.00 304.5,266.00 305.0,266.00 305.5,266.00 306.0,266.00 306.5,265.99 307.0,265.99 307.5,265.99 308.0,265.99 308.5,265.99 309.0,265.99 309.5,265.98 310.0,265.98 310.5,265.98 311.0,265.98 311.5,265.98 312.0,265.97 312.5,265.97 313.0,265.97 313.5,265.97 314.0,265.96 314.5,265.96 315.0,265.96 315.5,265.95 316.0,265.95 316.5,265.95 317.0,265.94 317.5,265.94 318.0,265.93 318.5,265.93 319.0,265.93 319.5,265.92 320.0,265.92 320.5,265.91 321.0,265.91 321.5,265.90 322.0,265.90 322.5,265.89 323.0,265.89 323.5,265.88 324.0,265.88 324.5,265.87 325.0,265.87 325.5,265.86 326.0,265.85 326.5,265.85 327.0,265.84 327.5,265.84 328.0,265.83 328.5,265.82 329.0,265.82 329.5,265.81 330.0,265.80 330.5,265.79 331.0,265.79 331.5,265.78 332.0,265.77 332.5,265.76 333.0,265.76 333.5,265.75 334.0,265.74 334.5,265.73 335.0,265.72 335.5,265.72 336.0,265.71 336.5,265.70 337.0,265.69 337.5,265.68 338.0,265.67 338.5,265.66 339.0,265.65 339.5,265.64 340.0,265.63 340.5,265.62 341.0,265.61 341.5,265.60 342.0,265.59 342.5,265.58 343.0,265.57 343.5,265.56 344.0,265.55 344.5,265.54 345.0,265.53 345.5,265.52 346.0,265.51 346.5,265.49 347.0,265.48 347.5,265.47 348.0,265.46 348.5,265.45 349.0,265.43 349.5,265.42 350.0,265.41 350.5,265.40 351.0,265.38 351.5,265.37 352.0,265.36 352.5,265.35 353.0,265.33 353.5,265.32 354.0,265.30 354.5,265.29 355.0,265.28 355.5,265.26 356.0,265.25 356.5,265.23 357.0,265.22 357.5,265.21 358.0,265.19 358.5,265.18 359.0,265.16 359.5,265.15 360.0,265.13 360.5,265.11 361.0,265.10 361.5,265.08 362.0,265.07 362.5,265.05 363.0,265.03 363.5,265.02 364.0,265.00 364.5,264.99 365.0,264.97 365.5,264.95 366.0,264.93 366.5,264.92 367.0,264.90 367.5,264.88 368.0,264.86 368.5,264.85 369.0,264.83 369.5,264.81 370.0,264.79 370.5,264.77 371.0,264.75 371.5,264.74 372.0,264.72 372.5,264.70 373.0,264.68 373.5,264.66 374.0,264.64 374.5,264.62 375.0,264.60 375.5,264.57 376.0,264.54 376.5,264.49 377.0,264.44 377.5,264.39 378.0,264.33 378.5,264.27 379.0,264.21 379.5,264.15 380.0,264.10 380.5,264.05 381.0,264.01 381.5,263.96 382.0,263.92 382.5,263.88 383.0,263.84 383.5,263.80 384.0,263.76 384.5,263.72 385.0,263.68 385.5,263.64 386.0,263.59 386.5,263.54 387.0,263.49 387.5,263.44 388.0,263.38 388.5,263.32 389.0,263.25 389.5,263.18 390.0,263.10 390.5,263.01 391.0,262.90 391.5,262.78 392.0,262.64 392.5,262.48 393.0,262.30 393.5,262.11 394.0,261.91 394.5,261.69 395.0,261.45 395.5,261.19 396.0,260.83 396.5,260.38 397.0,259.89 397.5,259.38 398.0,258.89 398.5,258.45 399.0,258.08 399.5,257.72 400.0,257.36 400.5,257.04 401.0,256.78 401.5,256.60 402.0,256.47 402.5,256.34 403.0,256.23 403.5,256.14 404.0,256.06 404.5,256.02 405.0,256.00 405.5,256.00 406.0,256.00 406.5,256.00 407.0,256.00 407.5,256.00 408.0,256.00 408.5,256.00 409.0,256.00 409.5,256.00 410.0,256.00 410.5,256.00 411.0,256.00 411.5,256.00 412.0,256.00 412.5,256.00 413.0,256.00 413.5,256.00 414.0,256.00 414.5,256.00 415.0,256.00 415.5,256.00 416.0,256.00 416.5,256.00 417.0,256.00 417.5,256.00 418.0,256.00 418.5,256.00 419.0,256.00 419.5,256.00 420.0,256.00 420.5,256.00 421.0,256.00 421.5,256.00 422.0,256.00 422.5,256.00 423.0,256.00 423.5,256.00 424.0,256.00 424.5,256.00 425.0,256.00 425.5,256.00 426.0,256.00 426.5,256.00 427.0,256.00 427.5,256.00 428.0,256.00 428.5,256.00 429.0,256.00 429.5,256.00 430.0,256.00 430.5,256.00 431.0,256.00 431.5,256.00 432.0,256.00 432.5,256.00 433.0,256.00 433.5,256.00 434.0,256.00 434.5,256.00 435.0,256.00 435.5,256.00 436.0,256.00 436.5,256.00 437.0,256.00 437.5,256.00 438.0,256.00 438.5,256.00 439.0,256.00 439.5,256.00 440.0,256.00 440.5,256.00 441.0,256.00 441.5,256.00 442.0,256.00 442.5,256.00 443.0,256.00 443.5,256.00 444.0,256.00 444.5,256.00 445.0,256.00 445.5,256.00 446.0,256.00 446.5,256.00 447.0,256.00" fill="none" stroke="#bbbbbb" stroke-width="1.8" stroke-linejoin="round" stroke-linecap="butt"/>
<polyline points="301.5,273.70 302.0,273.70 302.5,273.70 303.0,273.70 303.5,273.70 304.0,273.70 304.5,273.70 305.0,273.69 305.5,273.69 306.0,273.69 306.5,273.69 307.0,273.69 307.5,273.68 308.0,273.68 308.5,273.68 309.0,273.67 309.5,273.67 310.0,273.67 310.5,273.66 311.0,273.66 311.5,273.65 312.0,273.65 312.5,273.65 313.0,273.64 313.5,273.64 314.0,273.63 314.5,273.62 315.0,273.62 315.5,273.61 316.0,273.61 316.5,273.60 317.0,273.59 317.5,273.59 318.0,273.58 318.5,273.57 319.0,273.56 319.5,273.56 320.0,273.55 320.5,273.54 321.0,273.53 321.5,273.52 322.0,273.52 322.5,273.51 323.0,273.50 323.5,273.49 324.0,273.48 324.5,273.47 325.0,273.46 325.5,273.45 326.0,273.44 326.5,273.43 327.0,273.42 327.5,273.41 328.0,273.40 328.5,273.39 329.0,273.37 329.5,273.36 330.0,273.35 330.5,273.34 331.0,273.33 331.5,273.32 332.0,273.30 332.5,273.29 333.0,273.28 333.5,273.27 334.0,273.25 334.5,273.24 335.0,273.23 335.5,273.21 336.0,273.20 336.5,273.19 337.0,273.17 337.5,273.16 338.0,273.14 338.5,273.13 339.0,273.11 339.5,273.10 340.0,273.08 340.5,273.07 341.0,273.05 341.5,273.04 342.0,273.02 342.5,273.01 343.0,272.99 343.5,272.97 344.0,272.96 344.5,272.94 345.0,272.93 345.5,272.91 346.0,272.89 346.5,272.88 347.0,272.86 347.5,272.84 348.0,272.82 348.5,272.81 349.0,272.79 349.5,272.77 350.0,272.75 350.5,272.73 351.0,272.72 351.5,272.70 352.0,272.68 352.5,272.66 353.0,272.64 353.5,272.62 354.0,272.60 354.5,272.59 355.0,272.57 355.5,272.55 356.0,272.53 356.5,272.51 357.0,272.49 357.5,272.47 358.0,272.45 358.5,272.43 359.0,272.41 359.5,272.39 360.0,272.37 360.5,272.35 361.0,272.32 361.5,272.30 362.0,272.28 362.5,272.26 363.0,272.24 363.5,272.22 364.0,272.20 364.5,272.18 365.0,272.15 365.5,272.13 366.0,272.11 366.5,272.09 367.0,272.07 367.5,272.04 368.0,272.02 368.5,272.00 369.0,271.98 369.5,271.96 370.0,271.93 370.5,271.91 371.0,271.89 371.5,271.86 372.0,271.84 372.5,271.82 373.0,271.79 373.5,271.77 374.0,271.75 374.5,271.72 375.0,271.70 375.5,271.67 376.0,271.64 376.5,271.61 377.0,271.57 377.5,271.52 378.0,271.48 378.5,271.43 379.0,271.39 379.5,271.34 380.0,271.30 380.5,271.26 381.0,271.22 381.5,271.18 382.0,271.14 382.5,271.10 383.0,271.06 383.5,271.02 384.0,270.98 384.5,270.94 385.0,270.89 385.5,270.84 386.0,270.78 386.5,270.72 387.0,270.66 387.5,270.59 388.0,270.51 388.5,270.43 389.0,270.33 389.5,270.24 390.0,270.13 390.5,270.02 391.0,269.90 391.5,269.78 392.0,269.65 392.5,269.52 393.0,269.38 393.5,269.24 394.0,269.08 394.5,268.89 395.0,268.69 395.5,268.48 396.0,268.26 396.5,268.04 397.0,267.83 397.5,267.61 398.0,267.38 398.5,267.12 399.0,266.86 399.5,266.61 400.0,266.38 400.5,266.19 401.0,266.05 401.5,265.97 402.0,265.92 402.5,265.86 403.0,265.82 403.5,265.78 404.0,265.75 404.5,265.71 405.0,265.69 405.5,265.66 406.0,265.63 406.5,265.61 407.0,265.59 407.5,265.56 408.0,265.54 408.5,265.52 409.0,265.50 409.5,265.48 410.0,265.47 410.5,265.45 411.0,265.43 411.5,265.42 412.0,265.40 412.5,265.39 413.0,265.37 413.5,265.35 414.0,265.34 414.5,265.32 415.0,265.30 415.5,265.28 416.0,265.26 416.5,265.24 417.0,265.22 417.5,265.21 418.0,265.19 418.5,265.17 419.0,265.15 419.5,265.13 420.0,265.11 420.5,265.09 421.0,265.07 421.5,265.05 422.0,265.03 422.5,265.01 423.0,264.99 423.5,264.97 424.0,264.95 424.5,264.93 425.0,264.91 425.5,264.89 426.0,264.88 426.5,264.86 427.0,264.84 427.5,264.82 428.0,264.80 428.5,264.78 429.0,264.76 429.5,264.74 430.0,264.72 430.5,264.70 431.0,264.68 431.5,264.66 432.0,264.63 432.5,264.61 433.0,264.59 433.5,264.57 434.0,264.55 434.5,264.53 435.0,264.51 435.5,264.49 436.0,264.47 436.5,264.45 437.0,264.43 437.5,264.41 438.0,264.39 438.5,264.37 439.0,264.35 439.5,264.32 440.0,264.30 440.5,264.28 441.0,264.26 441.5,264.24 442.0,264.22 442.5,264.20 443.0,264.17 443.5,264.15 444.0,264.13 444.5,264.11 445.0,264.09 445.5,264.07 446.0,264.04 446.5,264.02 447.0,264.00" fill="none" stroke="#f88f7c" stroke-width="2.0" stroke-linejoin="round" stroke-linecap="butt" stroke-dasharray="6.2 2.55"/>
<polyline points="301.6,334.40 302.1,334.39 302.6,334.38 303.1,334.37 303.6,334.36 304.1,334.35 304.6,334.33 305.1,334.32 305.6,334.31 306.1,334.30 306.6,334.28 307.1,334.27 307.6,334.25 308.1,334.24 308.6,334.22 309.1,334.21 309.6,334.19 310.1,334.18 310.6,334.16 311.1,334.14 311.6,334.13 312.1,334.11 312.6,334.09 313.1,334.07 313.6,334.06 314.1,334.04 314.6,334.02 315.1,334.00 315.6,333.98 316.1,333.96 316.6,333.94 317.1,333.92 317.6,333.90 318.1,333.88 318.6,333.86 319.1,333.84 319.6,333.82 320.1,333.80 320.6,333.78 321.1,333.76 321.6,333.74 322.1,333.72 322.6,333.69 323.1,333.67 323.6,333.65 324.1,333.63 324.6,333.60 325.1,333.58 325.6,333.55 326.1,333.53 326.6,333.50 327.1,333.48 327.6,333.45 328.1,333.43 328.6,333.40 329.1,333.37 329.6,333.34 330.1,333.31 330.6,333.28 331.1,333.26 331.6,333.22 332.1,333.19 332.6,333.16 333.1,333.13 333.6,333.10 334.1,333.06 334.6,333.03 335.1,333.00 335.6,332.96 336.1,332.92 336.6,332.89 337.1,332.85 337.6,332.81 338.1,332.77 338.6,332.73 339.1,332.69 339.6,332.65 340.1,332.61 340.6,332.56 341.1,332.52 341.6,332.47 342.1,332.42 342.6,332.37 343.1,332.31 343.6,332.25 344.1,332.19 344.6,332.13 345.1,332.06 345.6,331.98 346.1,331.91 346.6,331.83 347.1,331.75 347.6,331.67 348.1,331.59 348.6,331.50 349.1,331.41 349.6,331.32 350.1,331.23 350.6,331.14 351.1,331.04 351.6,330.94 352.1,330.85 352.6,330.75 353.1,330.65 353.6,330.55 354.1,330.45 354.6,330.34 355.1,330.24 355.6,330.14 356.1,330.04 356.6,329.93 357.1,329.83 357.6,329.73 358.1,329.62 358.6,329.52 359.1,329.42 359.6,329.32 360.1,329.22 360.6,329.12 361.1,329.02 361.6,328.92 362.1,328.82 362.6,328.71 363.1,328.61 363.6,328.50 364.1,328.39 364.6,328.29 365.1,328.18 365.6,328.06 366.1,327.95 366.6,327.84 367.1,327.72 367.6,327.60 368.1,327.48 368.6,327.36 369.1,327.23 369.6,327.10 370.1,326.97 370.6,326.84 371.1,326.70 371.6,326.56 372.1,326.42 372.6,326.27 373.1,326.11 373.6,325.96 374.1,325.80 374.6,325.63 375.1,325.47 375.6,325.30 376.1,325.12 376.6,324.94 377.1,324.76 377.6,324.57 378.1,324.38 378.6,324.18 379.1,323.98 379.6,323.77 380.1,323.56 380.6,323.34 381.1,323.12 381.6,322.90 382.1,322.68 382.6,322.45 383.1,322.21 383.6,321.97 384.1,321.71 384.6,321.44 385.1,321.16 385.6,320.85 386.1,320.53 386.6,320.19 387.1,319.82 387.6,319.42 388.1,318.99 388.6,318.53 389.1,318.04 389.6,317.51 390.1,316.94 390.6,316.30 391.1,315.58 391.6,314.75 392.1,313.79 392.6,312.58 393.1,311.15 393.6,309.57 394.1,307.68 394.6,305.58 395.1,303.50 395.6,301.46 396.1,299.42 396.6,297.47 397.1,295.73 397.6,294.10 398.1,292.15 398.6,289.67 399.1,287.27 399.6,285.50 400.1,284.01 400.6,282.72 401.1,281.60 401.6,280.62 402.1,279.70 402.6,278.86 403.1,278.12 403.6,277.50 404.1,277.01 404.6,276.60 405.1,276.23 405.6,275.90 406.1,275.60 406.6,275.34 407.1,275.10 407.6,274.88 408.1,274.68 408.6,274.50 409.1,274.33 409.6,274.17 410.1,274.02 410.6,273.88 411.1,273.75 411.6,273.62 412.1,273.50 412.6,273.38 413.1,273.27 413.6,273.16 414.1,273.04 414.6,272.93 415.1,272.83 415.6,272.72 416.1,272.62 416.6,272.52 417.1,272.43 417.6,272.34 418.1,272.26 418.6,272.18 419.1,272.11 419.6,272.04 420.1,271.99 420.6,271.94 421.1,271.89 421.6,271.85 422.1,271.81 422.6,271.77 423.1,271.73 423.6,271.70 424.1,271.67 424.6,271.64 425.1,271.60 425.6,271.57 426.1,271.54 426.6,271.51 427.1,271.48 427.6,271.45 428.1,271.41 428.6,271.38 429.1,271.34 429.6,271.31 430.1,271.27 430.6,271.24 431.1,271.20 431.6,271.17 432.1,271.13 432.6,271.10 433.1,271.06 433.6,271.03 434.1,270.99 434.6,270.96 435.1,270.92 435.6,270.89 436.1,270.85 436.6,270.82 437.1,270.78 437.6,270.75 438.1,270.71 438.6,270.68 439.1,270.64 439.6,270.61 440.1,270.57 440.6,270.54 441.1,270.50 441.6,270.47 442.1,270.43 442.6,270.40 443.1,270.37 443.6,270.33 444.1,270.30 444.6,270.26 445.1,270.23 445.6,270.19 446.1,270.16 446.6,270.13 447.0,270.10" fill="none" stroke="#0a8ad6" stroke-width="2.0" stroke-linejoin="round" stroke-linecap="butt"/>
<polyline points="301.5,261.30 302.0,261.30 302.5,261.30 303.0,261.30 303.5,261.30 304.0,261.30 304.5,261.30 305.0,261.30 305.5,261.30 306.0,261.30 306.5,261.30 307.0,261.29 307.5,261.29 308.0,261.29 308.5,261.29 309.0,261.29 309.5,261.29 310.0,261.29 310.5,261.28 311.0,261.28 311.5,261.28 312.0,261.28 312.5,261.28 313.0,261.28 313.5,261.27 314.0,261.27 314.5,261.27 315.0,261.27 315.5,261.26 316.0,261.26 316.5,261.26 317.0,261.26 317.5,261.25 318.0,261.25 318.5,261.25 319.0,261.24 319.5,261.24 320.0,261.24 320.5,261.23 321.0,261.23 321.5,261.23 322.0,261.22 322.5,261.22 323.0,261.21 323.5,261.21 324.0,261.21 324.5,261.20 325.0,261.20 325.5,261.19 326.0,261.19 326.5,261.18 327.0,261.18 327.5,261.17 328.0,261.17 328.5,261.16 329.0,261.16 329.5,261.15 330.0,261.15 330.5,261.14 331.0,261.14 331.5,261.13 332.0,261.13 332.5,261.12 333.0,261.12 333.5,261.11 334.0,261.10 334.5,261.10 335.0,261.09 335.5,261.09 336.0,261.08 336.5,261.07 337.0,261.07 337.5,261.06 338.0,261.05 338.5,261.05 339.0,261.04 339.5,261.03 340.0,261.03 340.5,261.02 341.0,261.01 341.5,261.00 342.0,261.00 342.5,260.99 343.0,260.98 343.5,260.97 344.0,260.97 344.5,260.96 345.0,260.95 345.5,260.94 346.0,260.93 346.5,260.92 347.0,260.92 347.5,260.91 348.0,260.90 348.5,260.89 349.0,260.88 349.5,260.87 350.0,260.86 350.5,260.86 351.0,260.85 351.5,260.84 352.0,260.83 352.5,260.82 353.0,260.81 353.5,260.80 354.0,260.79 354.5,260.78 355.0,260.77 355.5,260.76 356.0,260.75 356.5,260.74 357.0,260.73 357.5,260.72 358.0,260.71 358.5,260.70 359.0,260.69 359.5,260.68 360.0,260.67 360.5,260.66 361.0,260.64 361.5,260.63 362.0,260.62 362.5,260.61 363.0,260.60 363.5,260.59 364.0,260.58 364.5,260.56 365.0,260.55 365.5,260.54 366.0,260.53 366.5,260.52 367.0,260.51 367.5,260.49 368.0,260.48 368.5,260.47 369.0,260.46 369.5,260.44 370.0,260.43 370.5,260.42 371.0,260.41 371.5,260.39 372.0,260.38 372.5,260.37 373.0,260.35 373.5,260.34 374.0,260.33 374.5,260.31 375.0,260.30 375.5,260.28 376.0,260.26 376.5,260.24 377.0,260.21 377.5,260.17 378.0,260.14 378.5,260.10 379.0,260.07 379.5,260.03 380.0,260.00 380.5,259.97 381.0,259.94 381.5,259.91 382.0,259.88 382.5,259.85 383.0,259.82 383.5,259.79 384.0,259.77 384.5,259.74 385.0,259.71 385.5,259.67 386.0,259.64 386.5,259.61 387.0,259.57 387.5,259.53 388.0,259.49 388.5,259.45 389.0,259.40 389.5,259.35 390.0,259.30 390.5,259.24 391.0,259.17 391.5,259.09 392.0,258.99 392.5,258.89 393.0,258.79 393.5,258.68 394.0,258.56 394.5,258.44 395.0,258.32 395.5,258.19 396.0,258.07 396.5,257.95 397.0,257.82 397.5,257.68 398.0,257.52 398.5,257.37 399.0,257.22 399.5,257.09 400.0,257.00 400.5,256.93 401.0,256.86 401.5,256.80 402.0,256.74 402.5,256.69 403.0,256.65 403.5,256.62 404.0,256.60 404.5,256.58 405.0,256.57 405.5,256.55 406.0,256.54 406.5,256.52 407.0,256.51 407.5,256.50 408.0,256.49 408.5,256.48 409.0,256.47 409.5,256.46 410.0,256.45 410.5,256.44 411.0,256.44 411.5,256.43 412.0,256.43 412.5,256.42 413.0,256.42 413.5,256.41 414.0,256.41 414.5,256.40 415.0,256.40 415.5,256.40 416.0,256.39 416.5,256.39 417.0,256.39 417.5,256.39 418.0,256.38 418.5,256.38 419.0,256.38 419.5,256.37 420.0,256.37 420.5,256.37 421.0,256.37 421.5,256.36 422.0,256.36 422.5,256.36 423.0,256.36 423.5,256.35 424.0,256.35 424.5,256.35 425.0,256.35 425.5,256.35 426.0,256.34 426.5,256.34 427.0,256.34 427.5,256.34 428.0,256.34 428.5,256.33 429.0,256.33 429.5,256.33 430.0,256.33 430.5,256.33 431.0,256.33 431.5,256.32 432.0,256.32 432.5,256.32 433.0,256.32 433.5,256.32 434.0,256.32 434.5,256.32 435.0,256.31 435.5,256.31 436.0,256.31 436.5,256.31 437.0,256.31 437.5,256.31 438.0,256.31 438.5,256.31 439.0,256.31 439.5,256.31 440.0,256.31 440.5,256.30 441.0,256.30 441.5,256.30 442.0,256.30 442.5,256.30 443.0,256.30 443.5,256.30 444.0,256.30 444.5,256.30 445.0,256.30 445.5,256.30 446.0,256.30 446.5,256.30 447.0,256.30" fill="none" stroke="#fb4b2f" stroke-width="2.0" stroke-linejoin="round" stroke-linecap="butt"/>
<polyline points="301.5,271.30 302.0,271.30 302.5,271.29 303.0,271.29 303.5,271.28 304.0,271.28 304.5,271.28 305.0,271.27 305.5,271.27 306.0,271.26 306.5,271.26 307.0,271.25 307.5,271.25 308.0,271.24 308.5,271.24 309.0,271.23 309.5,271.22 310.0,271.22 310.5,271.21 311.0,271.21 311.5,271.20 312.0,271.19 312.5,271.19 313.0,271.18 313.5,271.17 314.0,271.17 314.5,271.16 315.0,271.15 315.5,271.15 316.0,271.14 316.5,271.13 317.0,271.12 317.5,271.12 318.0,271.11 318.5,271.10 319.0,271.09 319.5,271.09 320.0,271.08 320.5,271.07 321.0,271.06 321.5,271.05 322.0,271.05 322.5,271.04 323.0,271.03 323.5,271.02 324.0,271.01 324.5,271.00 325.0,270.99 325.5,270.98 326.0,270.98 326.5,270.97 327.0,270.96 327.5,270.95 328.0,270.94 328.5,270.93 329.0,270.92 329.5,270.91 330.0,270.90 330.5,270.89 331.0,270.88 331.5,270.87 332.0,270.86 332.5,270.85 333.0,270.84 333.5,270.83 334.0,270.82 334.5,270.81 335.0,270.80 335.5,270.79 336.0,270.78 336.5,270.77 337.0,270.76 337.5,270.75 338.0,270.74 338.5,270.73 339.0,270.72 339.5,270.71 340.0,270.70 340.5,270.69 341.0,270.68 341.5,270.67 342.0,270.66 342.5,270.65 343.0,270.64 343.5,270.62 344.0,270.61 344.5,270.60 345.0,270.59 345.5,270.58 346.0,270.57 346.5,270.55 347.0,270.54 347.5,270.53 348.0,270.52 348.5,270.50 349.0,270.49 349.5,270.48 350.0,270.47 350.5,270.45 351.0,270.44 351.5,270.43 352.0,270.41 352.5,270.40 353.0,270.39 353.5,270.37 354.0,270.36 354.5,270.34 355.0,270.33 355.5,270.31 356.0,270.30 356.5,270.28 357.0,270.27 357.5,270.25 358.0,270.24 358.5,270.22 359.0,270.21 359.5,270.19 360.0,270.18 360.5,270.16 361.0,270.14 361.5,270.13 362.0,270.11 362.5,270.09 363.0,270.07 363.5,270.06 364.0,270.04 364.5,270.02 365.0,270.00 365.5,269.99 366.0,269.97 366.5,269.95 367.0,269.93 367.5,269.91 368.0,269.89 368.5,269.87 369.0,269.85 369.5,269.83 370.0,269.81 370.5,269.79 371.0,269.77 371.5,269.75 372.0,269.73 372.5,269.71 373.0,269.69 373.5,269.67 374.0,269.64 374.5,269.62 375.0,269.60 375.5,269.58 376.0,269.55 376.5,269.52 377.0,269.49 377.5,269.46 378.0,269.43 378.5,269.40 379.0,269.37 379.5,269.33 380.0,269.30 380.5,269.27 381.0,269.24 381.5,269.21 382.0,269.18 382.5,269.15 383.0,269.12 383.5,269.08 384.0,269.05 384.5,269.01 385.0,268.97 385.5,268.93 386.0,268.88 386.5,268.82 387.0,268.76 387.5,268.70 388.0,268.62 388.5,268.53 389.0,268.43 389.5,268.31 390.0,268.18 390.5,268.04 391.0,267.88 391.5,267.70 392.0,267.50 392.5,267.22 393.0,266.82 393.5,266.34 394.0,265.79 394.5,265.23 395.0,264.64 395.5,263.96 396.0,263.21 396.5,262.45 397.0,261.71 397.5,261.04 398.0,260.37 398.5,259.71 399.0,259.08 399.5,258.50 400.0,258.00 400.5,257.55 401.0,257.13 401.5,256.75 402.0,256.40 402.5,256.11 403.0,255.85 403.5,255.60 404.0,255.37 404.5,255.18 405.0,255.05 405.5,254.98 406.0,254.92 406.5,254.88 407.0,254.83 407.5,254.80 408.0,254.77 408.5,254.74 409.0,254.72 409.5,254.71 410.0,254.70 410.5,254.69 411.0,254.69 411.5,254.68 412.0,254.68 412.5,254.67 413.0,254.66 413.5,254.66 414.0,254.65 414.5,254.65 415.0,254.64 415.5,254.64 416.0,254.63 416.5,254.63 417.0,254.62 417.5,254.62 418.0,254.61 418.5,254.61 419.0,254.60 419.5,254.60 420.0,254.60 420.5,254.59 421.0,254.59 421.5,254.58 422.0,254.58 422.5,254.58 423.0,254.57 423.5,254.57 424.0,254.57 424.5,254.56 425.0,254.56 425.5,254.56 426.0,254.55 426.5,254.55 427.0,254.55 427.5,254.55 428.0,254.54 428.5,254.54 429.0,254.54 429.5,254.54 430.0,254.53 430.5,254.53 431.0,254.53 431.5,254.53 432.0,254.53 432.5,254.52 433.0,254.52 433.5,254.52 434.0,254.52 434.5,254.52 435.0,254.52 435.5,254.51 436.0,254.51 436.5,254.51 437.0,254.51 437.5,254.51 438.0,254.51 438.5,254.51 439.0,254.51 439.5,254.51 440.0,254.51 440.5,254.50 441.0,254.50 441.5,254.50 442.0,254.50 442.5,254.50 443.0,254.50 443.5,254.50 444.0,254.50 444.5,254.50 445.0,254.50 445.5,254.50 446.0,254.50 446.5,254.50 447.0,254.50" fill="none" stroke="#678a55" stroke-width="2.0" stroke-linejoin="round" stroke-linecap="butt"/>
<polyline points="301.5,257.90 302.0,257.90 302.5,257.90 303.0,257.90 303.5,257.90 304.0,257.90 304.5,257.90 305.0,257.90 305.5,257.90 306.0,257.90 306.5,257.90 307.0,257.90 307.5,257.90 308.0,257.90 308.5,257.90 309.0,257.90 309.5,257.90 310.0,257.90 310.5,257.89 311.0,257.89 311.5,257.89 312.0,257.89 312.5,257.89 313.0,257.89 313.5,257.89 314.0,257.89 314.5,257.89 315.0,257.89 315.5,257.89 316.0,257.89 316.5,257.89 317.0,257.88 317.5,257.88 318.0,257.88 318.5,257.88 319.0,257.88 319.5,257.88 320.0,257.88 320.5,257.88 321.0,257.87 321.5,257.87 322.0,257.87 322.5,257.87 323.0,257.87 323.5,257.87 324.0,257.87 324.5,257.86 325.0,257.86 325.5,257.86 326.0,257.86 326.5,257.86 327.0,257.86 327.5,257.86 328.0,257.85 328.5,257.85 329.0,257.85 329.5,257.85 330.0,257.85 330.5,257.84 331.0,257.84 331.5,257.84 332.0,257.84 332.5,257.84 333.0,257.83 333.5,257.83 334.0,257.83 334.5,257.83 335.0,257.83 335.5,257.82 336.0,257.82 336.5,257.82 337.0,257.82 337.5,257.81 338.0,257.81 338.5,257.81 339.0,257.81 339.5,257.80 340.0,257.80 340.5,257.80 341.0,257.80 341.5,257.79 342.0,257.79 342.5,257.79 343.0,257.79 343.5,257.78 344.0,257.78 344.5,257.78 345.0,257.78 345.5,257.77 346.0,257.77 346.5,257.77 347.0,257.76 347.5,257.76 348.0,257.76 348.5,257.76 349.0,257.75 349.5,257.75 350.0,257.75 350.5,257.74 351.0,257.74 351.5,257.74 352.0,257.73 352.5,257.73 353.0,257.73 353.5,257.72 354.0,257.72 354.5,257.72 355.0,257.71 355.5,257.71 356.0,257.71 356.5,257.70 357.0,257.70 357.5,257.69 358.0,257.69 358.5,257.69 359.0,257.68 359.5,257.68 360.0,257.68 360.5,257.67 361.0,257.67 361.5,257.66 362.0,257.66 362.5,257.66 363.0,257.65 363.5,257.65 364.0,257.65 364.5,257.64 365.0,257.64 365.5,257.63 366.0,257.63 366.5,257.62 367.0,257.62 367.5,257.62 368.0,257.61 368.5,257.61 369.0,257.60 369.5,257.60 370.0,257.59 370.5,257.59 371.0,257.59 371.5,257.58 372.0,257.58 372.5,257.57 373.0,257.57 373.5,257.56 374.0,257.56 374.5,257.55 375.0,257.55 375.5,257.54 376.0,257.54 376.5,257.53 377.0,257.53 377.5,257.52 378.0,257.52 378.5,257.51 379.0,257.51 379.5,257.51 380.0,257.50 380.5,257.49 381.0,257.49 381.5,257.48 382.0,257.48 382.5,257.47 383.0,257.46 383.5,257.46 384.0,257.45 384.5,257.44 385.0,257.43 385.5,257.42 386.0,257.41 386.5,257.40 387.0,257.39 387.5,257.38 388.0,257.37 388.5,257.36 389.0,257.34 389.5,257.33 390.0,257.31 390.5,257.30 391.0,257.28 391.5,257.26 392.0,257.25 392.5,257.23 393.0,257.21 393.5,257.18 394.0,257.16 394.5,257.14 395.0,257.12 395.5,257.09 396.0,257.04 396.5,256.98 397.0,256.90 397.5,256.81 398.0,256.72 398.5,256.62 399.0,256.54 399.5,256.46 400.0,256.40 400.5,256.35 401.0,256.29 401.5,256.24 402.0,256.18 402.5,256.13 403.0,256.09 403.5,256.05 404.0,256.02 404.5,256.01 405.0,256.00 405.5,256.00 406.0,256.00 406.5,256.00 407.0,256.00 407.5,256.00 408.0,256.00 408.5,256.00 409.0,256.00 409.5,256.00 410.0,256.00 410.5,256.00 411.0,256.00 411.5,256.00 412.0,256.00 412.5,256.00 413.0,256.00 413.5,256.00 414.0,256.00 414.5,256.00 415.0,256.00 415.5,256.00 416.0,256.00 416.5,256.00 417.0,256.00 417.5,256.00 418.0,256.00 418.5,256.00 419.0,256.00 419.5,256.00 420.0,256.00 420.5,256.00 421.0,256.00 421.5,256.00 422.0,256.00 422.5,256.00 423.0,256.00 423.5,256.00 424.0,256.00 424.5,256.00 425.0,256.00 425.5,256.00 426.0,256.00 426.5,256.00 427.0,256.00 427.5,256.00 428.0,256.00 428.5,256.00 429.0,256.00 429.5,256.00 430.0,256.00 430.5,256.00 431.0,256.00 431.5,256.00 432.0,256.00 432.5,256.00 433.0,256.00 433.5,256.00 434.0,256.00 434.5,256.00 435.0,256.00 435.5,256.00 436.0,256.00 436.5,256.00 437.0,256.00 437.5,256.00 438.0,256.00 438.5,256.00 439.0,256.00 439.5,256.00 440.0,256.00 440.5,256.00 441.0,256.00 441.5,256.00 442.0,256.00 442.5,256.00 443.0,256.00 443.5,256.00 444.0,256.00 444.5,256.00 445.0,256.00 445.5,256.00 446.0,256.00 446.5,256.00 447.0,256.00" fill="none" stroke="#e2a934" stroke-width="2.0" stroke-linejoin="round" stroke-linecap="butt" stroke-dasharray="6.2 2.55" stroke-opacity="0.55"/>
<polyline points="301.5,266.00 302.0,266.00 302.5,266.00 303.0,266.00 303.5,266.00 304.0,266.00 304.5,266.00 305.0,266.00 305.5,266.00 306.0,266.00 306.5,265.99 307.0,265.99 307.5,265.99 308.0,265.99 308.5,265.99 309.0,265.99 309.5,265.98 310.0,265.98 310.5,265.98 311.0,265.98 311.5,265.98 312.0,265.97 312.5,265.97 313.0,265.97 313.5,265.97 314.0,265.96 314.5,265.96 315.0,265.96 315.5,265.95 316.0,265.95 316.5,265.95 317.0,265.94 317.5,265.94 318.0,265.93 318.5,265.93 319.0,265.93 319.5,265.92 320.0,265.92 320.5,265.91 321.0,265.91 321.5,265.90 322.0,265.90 322.5,265.89 323.0,265.89 323.5,265.88 324.0,265.88 324.5,265.87 325.0,265.87 325.5,265.86 326.0,265.85 326.5,265.85 327.0,265.84 327.5,265.84 328.0,265.83 328.5,265.82 329.0,265.82 329.5,265.81 330.0,265.80 330.5,265.79 331.0,265.79 331.5,265.78 332.0,265.77 332.5,265.76 333.0,265.76 333.5,265.75 334.0,265.74 334.5,265.73 335.0,265.72 335.5,265.72 336.0,265.71 336.5,265.70 337.0,265.69 337.5,265.68 338.0,265.67 338.5,265.66 339.0,265.65 339.5,265.64 340.0,265.63 340.5,265.62 341.0,265.61 341.5,265.60 342.0,265.59 342.5,265.58 343.0,265.57 343.5,265.56 344.0,265.55 344.5,265.54 345.0,265.53 345.5,265.52 346.0,265.51 346.5,265.49 347.0,265.48 347.5,265.47 348.0,265.46 348.5,265.45 349.0,265.43 349.5,265.42 350.0,265.41 350.5,265.40 351.0,265.38 351.5,265.37 352.0,265.36 352.5,265.35 353.0,265.33 353.5,265.32 354.0,265.30 354.5,265.29 355.0,265.28 355.5,265.26 356.0,265.25 356.5,265.23 357.0,265.22 357.5,265.21 358.0,265.19 358.5,265.18 359.0,265.16 359.5,265.15 360.0,265.13 360.5,265.11 361.0,265.10 361.5,265.08 362.0,265.07 362.5,265.05 363.0,265.03 363.5,265.02 364.0,265.00 364.5,264.99 365.0,264.97 365.5,264.95 366.0,264.93 366.5,264.92 367.0,264.90 367.5,264.88 368.0,264.86 368.5,264.85 369.0,264.83 369.5,264.81 370.0,264.79 370.5,264.77 371.0,264.75 371.5,264.74 372.0,264.72 372.5,264.70 373.0,264.68 373.5,264.66 374.0,264.64 374.5,264.62 375.0,264.60 375.5,264.57 376.0,264.54 376.5,264.49 377.0,264.44 377.5,264.39 378.0,264.33 378.5,264.27 379.0,264.21 379.5,264.15 380.0,264.10 380.5,264.05 381.0,264.01 381.5,263.96 382.0,263.92 382.5,263.88 383.0,263.84 383.5,263.80 384.0,263.76 384.5,263.72 385.0,263.68 385.5,263.64 386.0,263.59 386.5,263.54 387.0,263.49 387.5,263.44 388.0,263.38 388.5,263.32 389.0,263.25 389.5,263.18 390.0,263.10 390.5,263.01 391.0,262.90 391.5,262.78 392.0,262.64 392.5,262.48 393.0,262.30 393.5,262.11 394.0,261.91 394.5,261.69 395.0,261.45 395.5,261.19 396.0,260.83 396.5,260.38 397.0,259.89 397.5,259.38 398.0,258.89 398.5,258.45 399.0,258.08 399.5,257.72 400.0,257.36 400.5,257.04 401.0,256.78 401.5,256.60 402.0,256.47 402.5,256.34 403.0,256.23 403.5,256.14 404.0,256.06 404.5,256.02 405.0,256.00 405.5,256.00 406.0,256.00 406.5,256.00 407.0,256.00 407.5,256.00 408.0,256.00 408.5,256.00 409.0,256.00 409.5,256.00 410.0,256.00 410.5,256.00 411.0,256.00 411.5,256.00 412.0,256.00 412.5,256.00 413.0,256.00 413.5,256.00 414.0,256.00 414.5,256.00 415.0,256.00 415.5,256.00 416.0,256.00 416.5,256.00 417.0,256.00 417.5,256.00 418.0,256.00 418.5,256.00 419.0,256.00 419.5,256.00 420.0,256.00 420.5,256.00 421.0,256.00 421.5,256.00 422.0,256.00 422.5,256.00 423.0,256.00 423.5,256.00 424.0,256.00 424.5,256.00 425.0,256.00 425.5,256.00 426.0,256.00 426.5,256.00 427.0,256.00 427.5,256.00 428.0,256.00 428.5,256.00 429.0,256.00 429.5,256.00 430.0,256.00 430.5,256.00 431.0,256.00 431.5,256.00 432.0,256.00 432.5,256.00 433.0,256.00 433.5,256.00 434.0,256.00 434.5,256.00 435.0,256.00 435.5,256.00 436.0,256.00 436.5,256.00 437.0,256.00 437.5,256.00 438.0,256.00 438.5,256.00 439.0,256.00 439.5,256.00 440.0,256.00 440.5,256.00 441.0,256.00 441.5,256.00 442.0,256.00 442.5,256.00 443.0,256.00 443.5,256.00 444.0,256.00 444.5,256.00 445.0,256.00 445.5,256.00 446.0,256.00 446.5,256.00 447.0,256.00" fill="none" stroke="#e2a934" stroke-width="2.0" stroke-linejoin="round" stroke-linecap="butt" stroke-dasharray="6.2 2.55" stroke-opacity="0.55"/>
<polyline points="399.0,255.00 399.5,254.97 400.0,254.93 400.5,254.89 401.0,254.85 401.5,254.81 402.0,254.78 402.5,254.75 403.0,254.72 403.5,254.71 404.0,254.70 404.5,254.70 405.0,254.69 405.5,254.69 406.0,254.69 406.5,254.69 407.0,254.68 407.5,254.68 408.0,254.68 408.5,254.68 409.0,254.67 409.5,254.67 410.0,254.67 410.5,254.67 411.0,254.66 411.5,254.66 412.0,254.66 412.5,254.66 413.0,254.66 413.5,254.65 414.0,254.65 414.5,254.65 415.0,254.65 415.5,254.65 416.0,254.64 416.5,254.64 417.0,254.64 417.5,254.64 418.0,254.64 418.5,254.64 419.0,254.63 419.5,254.63 420.0,254.63 420.5,254.63 421.0,254.63 421.5,254.63 422.0,254.63 422.5,254.62 423.0,254.62 423.5,254.62 424.0,254.62 424.5,254.62 425.0,254.62 425.5,254.62 426.0,254.62 426.5,254.62 427.0,254.62 427.5,254.61 428.0,254.61 428.5,254.61 429.0,254.61 429.5,254.61 430.0,254.61 430.5,254.61 431.0,254.61 431.5,254.61 432.0,254.61 432.5,254.61 433.0,254.61 433.5,254.61 434.0,254.61 434.5,254.61 435.0,254.60 435.5,254.60 436.0,254.60 436.5,254.60 437.0,254.60 437.5,254.60 438.0,254.60 438.5,254.60 439.0,254.60 439.5,254.60 440.0,254.60 440.5,254.60 441.0,254.60 441.5,254.60 442.0,254.60 442.5,254.60 443.0,254.60 443.5,254.60 444.0,254.60 444.5,254.60 445.0,254.60 445.5,254.60 446.0,254.60 446.5,254.60 447.0,254.60" fill="none" stroke="#9a9a9a" stroke-width="1.6" stroke-linejoin="round" stroke-linecap="butt" stroke-opacity="0.5"/>
<polyline points="525.6,92.30 526.1,91.97 526.6,91.64 527.1,91.31 527.6,90.97 528.1,90.64 528.6,90.30 529.1,89.96 529.6,89.62 530.1,89.27 530.6,88.92 531.1,88.57 531.6,88.22 532.1,87.87 532.6,87.51 533.1,87.16 533.6,86.79 534.1,86.42 534.6,86.04 535.1,85.66 535.6,85.28 536.1,84.89 536.6,84.51 537.1,84.12 537.6,83.74 538.1,83.37 538.6,83.00 539.1,82.63 539.6,82.28 540.1,81.93 540.6,81.60 541.1,81.29 541.6,80.98 542.1,80.69 542.6,80.40 543.1,80.10 543.6,79.80 544.1,79.50 544.6,79.18 545.1,78.85 545.6,78.50 546.1,78.12 546.6,77.73 547.1,77.32 547.6,76.90 548.1,76.46 548.6,76.00 549.1,75.53 549.6,75.04 550.1,74.52 550.6,73.99 551.1,73.44 551.6,72.87 552.1,72.28 552.6,71.65 553.1,70.98 553.6,70.27 554.1,69.51 554.6,68.71 555.1,67.88 555.6,67.00 556.1,66.07 556.6,65.06 557.1,63.98 557.6,62.85 558.1,61.65 558.6,60.40 559.1,59.08 559.6,57.66 560.1,56.15 560.6,54.55 561.1,52.85 561.6,51.01 562.1,49.02 562.6,46.89 563.1,44.57 563.6,41.98 564.1,39.55 564.6,37.42 565.1,35.41 565.6,33.34 566.1,31.05 566.6,28.50 567.1,25.84 567.6,23.21 568.1,20.56 568.6,17.78 569.1,15.23 569.6,13.30 570.1,11.81 570.6,10.43 571.1,9.35 571.6,8.76 572.1,8.79 572.6,9.33 573.1,10.23 573.6,11.41 574.1,12.74 574.6,14.37 575.1,16.91 575.6,19.89 576.1,22.70 576.6,25.19 577.1,27.62 577.6,30.04 578.1,32.50 578.6,34.99 579.1,37.49 579.6,40.00 580.1,42.49 580.6,44.99 581.1,47.58 581.6,50.31 582.1,52.78 582.6,54.76 583.1,56.53 583.6,58.13 584.1,59.58 584.6,60.93 585.1,62.20 585.6,63.40 586.1,64.52 586.6,65.55 587.1,66.49 587.6,67.32 588.1,68.10 588.6,68.82 589.1,69.50 589.6,70.14 590.1,70.74 590.6,71.32 591.1,71.87 591.6,72.40 592.1,72.91 592.6,73.40 593.1,73.87 593.6,74.33 594.1,74.76 594.6,75.18 595.1,75.59 595.6,75.99 596.1,76.37 596.6,76.75 597.1,77.11 597.6,77.47 598.1,77.81 598.6,78.14 599.1,78.46 599.6,78.76 600.1,79.06 600.6,79.34 601.1,79.62 601.6,79.88 602.1,80.14 602.6,80.40 603.1,80.65 603.6,80.89 604.1,81.13 604.6,81.37 605.1,81.61 605.6,81.85 606.1,82.09 606.6,82.32 607.1,82.56 607.6,82.80 608.1,83.03 608.6,83.26 609.1,83.49 609.6,83.72 610.1,83.94 610.6,84.16 611.1,84.37 611.6,84.58 612.1,84.79 612.6,84.98 613.1,85.18 613.6,85.36 614.1,85.55 614.6,85.73 615.1,85.90 615.6,86.08 616.1,86.25 616.6,86.41 617.1,86.58 617.6,86.74 618.1,86.90 618.6,87.05 619.1,87.21 619.6,87.36 620.1,87.51 620.6,87.66 621.1,87.81 621.6,87.95 622.1,88.10 622.6,88.24 623.1,88.39 623.6,88.53 624.1,88.67 624.6,88.80 625.1,88.93 625.6,89.06 626.1,89.19 626.6,89.31 627.1,89.42 627.6,89.54 628.1,89.64 628.6,89.75 629.1,89.85 629.6,89.95 630.1,90.05 630.6,90.14 631.1,90.24 631.6,90.33 632.1,90.43 632.6,90.52 633.1,90.61 633.6,90.69 634.1,90.78 634.6,90.87 635.1,90.95 635.6,91.03 636.1,91.11 636.6,91.19 637.1,91.27 637.6,91.35 638.1,91.43 638.6,91.50 639.1,91.58 639.6,91.65 640.1,91.72 640.6,91.79 641.1,91.86 641.6,91.93 642.1,92.00 642.6,92.07 643.1,92.14 643.6,92.21 644.1,92.27 644.6,92.34 645.1,92.41 645.6,92.47 646.1,92.53 646.6,92.60 647.1,92.66 647.6,92.72 648.1,92.78 648.6,92.84 649.1,92.90 649.6,92.96 650.1,93.02 650.6,93.07 651.1,93.13 651.6,93.19 652.1,93.24 652.6,93.29 653.1,93.35 653.6,93.40 654.1,93.45 654.6,93.50 655.1,93.55 655.6,93.60 656.1,93.65 656.6,93.70 657.1,93.74 657.6,93.79 658.1,93.84 658.6,93.88 659.1,93.93 659.6,93.97 660.1,94.01 660.6,94.06 661.1,94.10 661.6,94.14 662.1,94.18 662.6,94.22 663.1,94.26 663.6,94.30 664.1,94.34 664.6,94.38 665.1,94.41 665.6,94.45 666.1,94.49 666.6,94.52 667.1,94.56 667.6,94.59 668.1,94.63 668.6,94.66 669.1,94.69 669.6,94.72 670.1,94.75 670.6,94.78 670.9,94.80" fill="none" stroke="#0a8ad6" stroke-width="2.0" stroke-linejoin="round" stroke-linecap="butt"/>
<polyline points="525.6,197.20 526.1,197.06 526.6,196.90 527.1,196.72 527.6,196.52 528.1,196.29 528.6,196.06 529.1,195.80 529.6,195.54 530.1,195.25 530.6,194.93 531.1,194.59 531.6,194.22 532.1,193.84 532.6,193.43 533.1,192.99 533.6,192.54 534.1,192.06 534.6,191.57 535.1,191.05 535.6,190.51 536.1,189.94 536.6,189.33 537.1,188.67 537.6,187.96 538.1,187.21 538.6,186.41 539.1,185.56 539.6,184.66 540.1,183.72 540.6,182.73 541.1,181.69 541.6,180.55 542.1,179.30 542.6,177.94 543.1,176.49 543.6,174.94 544.1,173.31 544.6,171.60 545.1,169.83 545.6,167.95 546.1,165.86 546.6,163.58 547.1,161.19 547.6,158.74 548.1,156.30 548.6,153.78 549.1,151.11 549.6,148.44 550.1,145.86 550.6,143.50 551.1,141.35 551.6,139.32 552.1,137.40 552.6,135.59 553.1,133.86 553.6,132.11 554.1,130.48 554.6,129.12 555.1,128.14 555.6,127.26 556.1,126.46 556.6,125.82 557.1,125.41 557.6,125.31 558.1,125.53 558.6,126.01 559.1,126.68 559.6,127.48 560.1,128.33 560.6,129.31 561.1,130.63 561.6,132.19 562.1,133.87 562.6,135.60 563.1,137.50 563.6,139.56 564.1,141.72 564.6,143.95 565.1,146.30 565.6,148.77 566.1,151.30 566.6,153.83 567.1,156.30 567.6,158.78 568.1,161.31 568.6,163.82 569.1,166.18 569.6,168.33 570.1,170.20 570.6,171.95 571.1,173.61 571.6,175.18 572.1,176.67 572.6,178.08 573.1,179.42 573.6,180.69 574.1,181.90 574.6,183.06 575.1,184.19 575.6,185.28 576.1,186.33 576.6,187.34 577.1,188.30 577.6,189.23 578.1,190.10 578.6,190.93 579.1,191.71 579.6,192.44 580.1,193.14 580.6,193.82 581.1,194.49 581.6,195.13 582.1,195.75 582.6,196.35 583.1,196.93 583.6,197.49 584.1,198.02 584.6,198.54 585.1,199.03 585.6,199.49 586.1,199.94 586.6,200.36 587.1,200.75 587.6,201.12 588.1,201.48 588.6,201.83 589.1,202.16 589.6,202.48 590.1,202.79 590.6,203.09 591.1,203.38 591.6,203.65 592.1,203.91 592.6,204.16 593.1,204.39 593.6,204.61 594.1,204.81 594.6,205.00 595.1,205.18 595.6,205.35 596.1,205.52 596.6,205.69 597.1,205.85 597.6,206.00 598.1,206.15 598.6,206.30 599.1,206.44 599.6,206.58 600.1,206.71 600.6,206.85 601.1,206.97 601.6,207.10 602.1,207.22 602.6,207.34 603.1,207.45 603.6,207.57 604.1,207.68 604.6,207.78 605.1,207.89 605.6,207.99 606.1,208.10 606.6,208.20 607.1,208.30 607.6,208.39 608.1,208.49 608.6,208.59 609.1,208.68 609.6,208.78 610.1,208.87 610.6,208.96 611.1,209.05 611.6,209.14 612.1,209.22 612.6,209.31 613.1,209.39 613.6,209.48 614.1,209.56 614.6,209.64 615.1,209.72 615.6,209.79 616.1,209.87 616.6,209.95 617.1,210.02 617.6,210.09 618.1,210.16 618.6,210.23 619.1,210.30 619.6,210.37 620.1,210.44 620.6,210.50 621.1,210.57 621.6,210.63 622.1,210.69 622.6,210.76 623.1,210.82 623.6,210.88 624.1,210.94 624.6,210.99 625.1,211.05 625.6,211.11 626.1,211.16 626.6,211.22 627.1,211.27 627.6,211.32 628.1,211.38 628.6,211.43 629.1,211.48 629.6,211.53 630.1,211.58 630.6,211.63 631.1,211.68 631.6,211.72 632.1,211.77 632.6,211.82 633.1,211.86 633.6,211.91 634.1,211.95 634.6,211.99 635.1,212.04 635.6,212.08 636.1,212.12 636.6,212.16 637.1,212.20 637.6,212.24 638.1,212.28 638.6,212.31 639.1,212.35 639.6,212.39 640.1,212.43 640.6,212.46 641.1,212.50 641.6,212.53 642.1,212.57 642.6,212.60 643.1,212.64 643.6,212.67 644.1,212.70 644.6,212.74 645.1,212.77 645.6,212.80 646.1,212.83 646.6,212.86 647.1,212.89 647.6,212.92 648.1,212.95 648.6,212.98 649.1,213.01 649.6,213.03 650.1,213.06 650.6,213.09 651.1,213.11 651.6,213.14 652.1,213.16 652.6,213.18 653.1,213.20 653.6,213.23 654.1,213.25 654.6,213.27 655.1,213.29 655.6,213.31 656.1,213.33 656.6,213.35 657.1,213.37 657.6,213.39 658.1,213.41 658.6,213.43 659.1,213.45 659.6,213.47 660.1,213.49 660.6,213.51 661.1,213.53 661.6,213.55 662.1,213.56 662.6,213.58 663.1,213.60 663.6,213.61 664.1,213.63 664.6,213.64 665.1,213.66 665.6,213.67 666.1,213.69 666.6,213.70 667.1,213.72 667.6,213.73 668.1,213.74 668.6,213.75 669.1,213.76 669.6,213.77 670.1,213.78 670.6,213.79 670.9,213.80" fill="none" stroke="#0a8ad6" stroke-width="2.0" stroke-linejoin="round" stroke-linecap="butt"/>
<polyline points="525.6,333.90 526.1,333.92 526.6,333.93 527.1,333.95 527.6,333.96 528.1,333.98 528.6,333.99 529.1,334.00 529.6,334.01 530.1,334.02 530.6,334.03 531.1,334.04 531.6,334.05 532.1,334.06 532.6,334.06 533.1,334.07 533.6,334.07 534.1,334.08 534.6,334.08 535.1,334.09 535.6,334.09 536.1,334.09 536.6,334.09 537.1,334.09 537.6,334.10 538.1,334.10 538.6,334.10 539.1,334.10 539.6,334.10 540.1,334.10 540.6,334.10 541.1,334.10 541.6,334.10 542.1,334.10 542.6,334.10 543.1,334.09 543.6,334.08 544.1,334.07 544.6,334.06 545.1,334.05 545.6,334.04 546.1,334.02 546.6,334.01 547.1,333.99 547.6,333.98 548.1,333.96 548.6,333.94 549.1,333.93 549.6,333.91 550.1,333.90 550.6,333.88 551.1,333.87 551.6,333.85 552.1,333.84 552.6,333.82 553.1,333.81 553.6,333.79 554.1,333.77 554.6,333.76 555.1,333.74 555.6,333.72 556.1,333.70 556.6,333.68 557.1,333.66 557.6,333.63 558.1,333.61 558.6,333.58 559.1,333.55 559.6,333.52 560.1,333.49 560.6,333.46 561.1,333.41 561.6,333.35 562.1,333.29 562.6,333.23 563.1,333.15 563.6,333.07 564.1,332.99 564.6,332.91 565.1,332.82 565.6,332.73 566.1,332.64 566.6,332.55 567.1,332.46 567.6,332.38 568.1,332.29 568.6,332.21 569.1,332.13 569.6,332.06 570.1,331.98 570.6,331.91 571.1,331.83 571.6,331.76 572.1,331.68 572.6,331.61 573.1,331.53 573.6,331.46 574.1,331.39 574.6,331.31 575.1,331.24 575.6,331.16 576.1,331.09 576.6,331.01 577.1,330.94 577.6,330.86 578.1,330.79 578.6,330.71 579.1,330.64 579.6,330.57 580.1,330.49 580.6,330.41 581.1,330.34 581.6,330.26 582.1,330.19 582.6,330.11 583.1,330.04 583.6,329.96 584.1,329.89 584.6,329.81 585.1,329.74 585.6,329.66 586.1,329.59 586.6,329.51 587.1,329.44 587.6,329.36 588.1,329.28 588.6,329.21 589.1,329.14 589.6,329.07 590.1,328.99 590.6,328.92 591.1,328.85 591.6,328.78 592.1,328.71 592.6,328.64 593.1,328.57 593.6,328.50 594.1,328.42 594.6,328.35 595.1,328.27 595.6,328.19 596.1,328.11 596.6,328.02 597.1,327.94 597.6,327.85 598.1,327.75 598.6,327.66 599.1,327.56 599.6,327.45 600.1,327.34 600.6,327.23 601.1,327.12 601.6,327.00 602.1,326.87 602.6,326.75 603.1,326.62 603.6,326.49 604.1,326.35 604.6,326.20 605.1,326.05 605.6,325.88 606.1,325.70 606.6,325.50 607.1,325.29 607.6,325.05 608.1,324.80 608.6,324.51 609.1,324.20 609.6,323.85 610.1,323.46 610.6,323.02 611.1,322.48 611.6,321.82 612.1,321.03 612.6,320.10 613.1,318.93 613.6,317.33 614.1,315.30 614.6,312.42 615.1,308.71 615.6,304.19 616.1,298.86 616.6,292.38 617.1,285.70 617.6,279.25 618.1,273.09 618.6,267.16 619.1,261.37 619.6,256.00 620.1,251.53 620.6,247.19 621.1,243.45 621.6,241.60 622.1,243.47 622.6,246.59 623.1,250.79 623.6,256.00 624.1,262.25 624.6,268.26 625.1,273.58 625.6,279.19 626.1,285.51 626.6,291.54 627.1,297.33 627.6,303.80 628.1,310.95 628.6,315.00 629.1,317.87 629.6,320.32 630.1,322.30 630.6,323.96 631.1,325.43 631.6,326.70 632.1,327.75 632.6,328.57 633.1,329.27 633.6,329.83 634.1,330.28 634.6,330.65 635.1,330.96 635.6,331.22 636.1,331.44 636.6,331.64 637.1,331.83 637.6,332.00 638.1,332.16 638.6,332.30 639.1,332.41 639.6,332.50 640.1,332.57 640.6,332.64 641.1,332.71 641.6,332.77 642.1,332.83 642.6,332.88 643.1,332.93 643.6,332.97 644.1,333.01 644.6,333.05 645.1,333.09 645.6,333.12 646.1,333.15 646.6,333.18 647.1,333.21 647.6,333.24 648.1,333.26 648.6,333.28 649.1,333.31 649.6,333.33 650.1,333.35 650.6,333.37 651.1,333.39 651.6,333.40 652.1,333.42 652.6,333.44 653.1,333.45 653.6,333.47 654.1,333.48 654.6,333.50 655.1,333.51 655.6,333.53 656.1,333.55 656.6,333.56 657.1,333.58 657.6,333.59 658.1,333.61 658.6,333.63 659.1,333.64 659.6,333.66 660.1,333.68 660.6,333.69 661.1,333.71 661.6,333.72 662.1,333.74 662.6,333.76 663.1,333.77 663.6,333.79 664.1,333.80 664.6,333.82 665.1,333.83 665.6,333.85 666.1,333.86 666.6,333.88 667.1,333.89 667.6,333.91 668.1,333.92 668.6,333.94 669.1,333.95 669.6,333.96 670.1,333.98 670.6,333.99 670.9,334.00" fill="none" stroke="#0a8ad6" stroke-width="2.0" stroke-linejoin="round" stroke-linecap="butt"/>
<rect x="133.70" y="168.00" width="88.90" height="30.90" rx="2" ry="2" fill="#fff" fill-opacity="0.8" stroke="#ebebeb" stroke-width="0.8"/>
<line x1="136.60" y1="173.10" x2="149.60" y2="173.10" stroke="#0a8ad6" stroke-width="2"/>
<text x="154.60 159.58 161.88 166.86" y="176.10" font-size="6.9" fill="#111" stroke="#111" stroke-width="0.202" transform="translate(154.80 176.10) scale(0.9904 1) translate(-154.80 -176.10)">CrCr</text>
<line x1="136.60" y1="183.00" x2="149.60" y2="183.00" stroke="#fb4b2f" stroke-width="2"/>
<text x="154.63 159.67 162.01 166.95" y="186.00" font-size="6.9" fill="#111" stroke="#111" stroke-width="0.205" transform="translate(154.80 186.00) scale(0.9767 1) translate(-154.80 -186.00)">CrCo</text>
<line x1="136.60" y1="192.60" x2="149.60" y2="192.60" stroke="#e2a934" stroke-width="2"/>
<text x="154.56 159.49 161.89 166.93" y="195.60" font-size="6.9" fill="#111" stroke="#111" stroke-width="0.199" transform="translate(154.80 195.60) scale(1.0060 1) translate(-154.80 -195.60)">CrNi</text>
<line x1="184.30" y1="173.10" x2="197.30" y2="173.10" stroke="#678a55" stroke-width="2"/>
<text x="202.36 207.34 211.18 216.16" y="176.10" font-size="6.9" fill="#111" stroke="#111" stroke-width="0.207" transform="translate(202.50 176.10) scale(0.9654 1) translate(-202.50 -176.10)">CoCo</text>
<line x1="184.30" y1="183.00" x2="197.30" y2="183.00" stroke="#8a8a8a" stroke-width="2"/>
<text x="202.30 207.17 211.07 216.16" y="186.00" font-size="6.9" fill="#111" stroke="#111" stroke-width="0.202" transform="translate(202.50 186.00) scale(0.9900 1) translate(-202.50 -186.00)">CoNi</text>
<line x1="184.30" y1="192.60" x2="197.30" y2="192.60" stroke="#84167e" stroke-width="2"/>
<text x="202.38 207.37 208.90 213.88" y="195.60" font-size="6.9" fill="#111" stroke="#111" stroke-width="0.195" transform="translate(202.50 195.60) scale(1.0234 1) translate(-202.50 -195.60)">NiNi</text>
<rect x="366.30" y="170.50" width="84.70" height="48.80" rx="2" ry="2" fill="#fff" fill-opacity="0.8" stroke="#ebebeb" stroke-width="0.8"/>
<line x1="368.7" y1="175.70" x2="381.9" y2="175.70" stroke="#0a8ad6" stroke-width="2"/>
<text x="387.30 389.31 393.25 395.26 399.05 400.62 402.43 406.12 409.82 413.63 415.96 419.68" y="178.10" font-size="6.9" fill="#111" stroke="#111" stroke-width="0.182" transform="translate(387.10 178.10) scale(1.0977 1) translate(-387.10 -178.10)">total energy</text>
<line x1="368.7" y1="185.10" x2="381.9" y2="185.10" stroke="#fb4b2f" stroke-width="2"/>
<text x="387.09 390.91 394.73 396.64 400.40 404.23 405.93 408.31 410.16 413.92 417.68 421.54 423.92 427.71" y="187.50" font-size="6.9" fill="#111" stroke="#111" stroke-width="0.185" transform="translate(387.10 187.50) scale(1.0792 1) translate(-387.10 -187.50)">nn pair energy</text>
<line x1="368.7" y1="194.90" x2="381.9" y2="194.90" stroke="#f88f7c" stroke-width="2" stroke-dasharray="6.2 2.3"/>
<text x="387.10 390.92 394.74 398.57 400.48 404.23 408.07 409.76 412.15 414.00 417.76 421.52 425.38 427.76 431.54" y="197.30" font-size="6.9" fill="#111" stroke="#111" stroke-width="0.185" transform="translate(387.10 197.30) scale(1.0791 1) translate(-387.10 -197.30)">2nn pair energy</text>
<line x1="368.7" y1="206.00" x2="381.9" y2="206.00" stroke="#678a55" stroke-width="2"/>
<text x="387.11 390.97 392.91 396.77 400.63 402.56 406.35 410.20 411.91 414.32 416.02 420.40 422.28 426.07 429.86 433.75 436.15 439.96" y="208.40" font-size="6.9" fill="#111" stroke="#111" stroke-width="0.187" transform="translate(387.10 208.40) scale(1.0704 1) translate(-387.10 -208.40)">7.48 pair Å energy</text>
<line x1="368.7" y1="215.90" x2="381.9" y2="215.90" stroke="#efd08f" stroke-width="2" stroke-dasharray="6.2 2.3"/>
<text x="387.31 389.50 391.93 393.48 397.34 398.84 402.79 404.90 406.70 410.41 414.12 417.93 420.27 424.02 425.52 429.09" y="218.30" font-size="6.9" fill="#111" stroke="#111" stroke-width="0.183" transform="translate(387.10 218.30) scale(1.0952 1) translate(-387.10 -218.30)">triplet energies</text>
<rect x="69.84" y="4.12" width="160.10" height="101.45" fill="none" stroke="#000" stroke-width="0.95"/>
<rect x="294.13" y="4.12" width="160.10" height="101.45" fill="none" stroke="#000" stroke-width="0.95"/>
<rect x="518.27" y="4.12" width="160.10" height="101.45" fill="none" stroke="#000" stroke-width="0.95"/>
<rect x="69.84" y="120.83" width="160.10" height="101.45" fill="none" stroke="#000" stroke-width="0.95"/>
<rect x="294.13" y="120.83" width="160.10" height="101.45" fill="none" stroke="#000" stroke-width="0.95"/>
<rect x="518.27" y="120.83" width="160.10" height="101.45" fill="none" stroke="#000" stroke-width="0.95"/>
<rect x="69.84" y="237.50" width="160.10" height="101.45" fill="none" stroke="#000" stroke-width="0.95"/>
<rect x="294.13" y="237.50" width="160.10" height="101.45" fill="none" stroke="#000" stroke-width="0.95"/>
<rect x="518.27" y="237.50" width="160.10" height="101.45" fill="none" stroke="#000" stroke-width="0.95"/>
<text x="323.53 327.72 335.47 347.22 354.84 362.66 367.34 375.42 379.72 387.66 392.35 399.72 403.65 407.69 416.41" y="372.20" font-size="14" fill="#111" stroke="#111" stroke-width="0.188" transform="translate(372.10 372.20) scale(1.0661 1) translate(-372.10 -372.20)">temperature (K)</text>
<text x="-36.02 -28.31 -20.57 -16.86 -9.39 -2.70 4.11 11.83 19.42 27.49 31.95 35.03 42.61 50.35 54.20 62.13 66.79 74.11 81.70 89.29 97.18 100.57 104.25 108.69" y="172.30" font-size="14" fill="#111" stroke="#111" stroke-width="0.187" transform="rotate(-90 39.90 172.30) translate(39.90 172.30) scale(1.0681 1) translate(-39.90 -172.30)">nn occupation probablity</text>
<text x="180.19 187.16 190.36 197.77 204.87 209.05 216.85 221.66 225.61 235.00 239.32 243.47 251.52 255.68 263.43 266.66 270.38 277.97 285.56 293.36 298.15 305.78 312.87 316.78 321.57 333.17 340.29 349.15" y="172.45" font-size="14" fill="#111" stroke="#111" stroke-width="0.187" transform="rotate(-90 267.10 172.45) translate(267.10 172.45) scale(1.0697 1) translate(-267.10 -172.45)">cluster &amp; total energy (meV)</text>
<text x="414.55 422.16 429.98 434.95 446.37 454.15 457.55 460.51 467.08 474.72 482.50 486.36 494.00 501.50 509.60 513.93 517.68 524.40 532.02 539.65 547.15 554.15 557.86 562.31" y="172.30" font-size="14" fill="#111" stroke="#111" stroke-width="0.188" transform="rotate(-90 492.00 172.30) translate(492.00 172.30) scale(1.0634 1) translate(-492.00 -172.30)">normalized heat capacity</text>
<text x="2.44 9.73 16.53 20.02 24.91 28.48 32.70 36.09" y="54.40" font-size="12.4" fill="#111" font-weight="bold" stroke="#111" stroke-width="0.265" transform="rotate(-90 21.60 54.40) translate(21.60 54.40) scale(1.1315 1) translate(-21.60 -54.40)">pair fit</text>
<text x="-19.27 -14.67 -9.89 -2.62 4.38 10.85 18.11 22.63 29.41" y="173.30" font-size="12.4" fill="#111" font-weight="bold" stroke="#111" stroke-width="0.271" transform="rotate(-90 8.60 173.30) translate(8.60 173.30) scale(1.1070 1) translate(-8.60 -173.30)">truncated</text>
<text x="-3.53 0.84 5.60 8.69 15.90 19.14 26.15 30.52 33.99 38.11 41.41" y="169.70" font-size="12.4" fill="#111" font-weight="bold" stroke="#111" stroke-width="0.258" transform="rotate(-90 21.00 169.70) translate(21.00 169.70) scale(1.1612 1) translate(-21.00 -169.70)">triplet fit</text>
<text x="-2.93 1.44 6.20 9.29 16.50 19.74 26.75 31.12 34.59 38.71 42.01" y="287.95" font-size="12.4" fill="#111" font-weight="bold" stroke="#111" stroke-width="0.258" transform="rotate(-90 21.60 287.95) translate(21.60 287.95) scale(1.1612 1) translate(-21.60 -287.95)">triplet fit</text>
</svg>
</body></html>
